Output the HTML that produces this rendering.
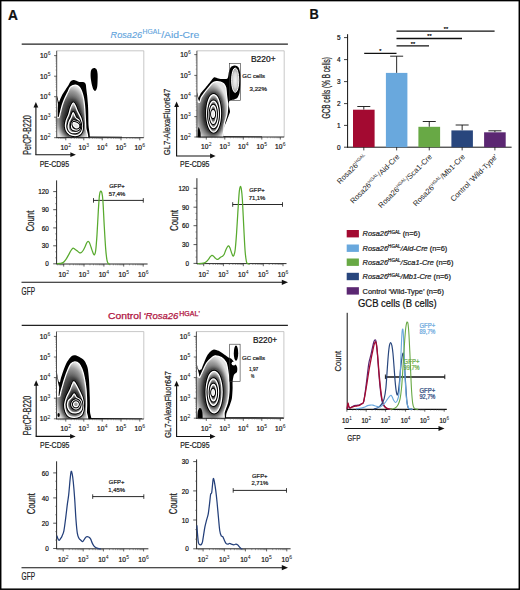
<!DOCTYPE html>
<html><head><meta charset="utf-8"><style>
html,body{margin:0;padding:0;background:#fff;width:520px;height:590px;overflow:hidden;}
body{position:relative;font-family:"Liberation Sans", sans-serif;}
svg text{stroke-width:0.22px;}
</style></head><body>
<svg width="520" height="590" viewBox="0 0 520 590" style="position:absolute;left:0;top:0;font-family:'Liberation Sans', sans-serif">
<defs>
<radialGradient id="zg" cx="0.5" cy="0.55" r="0.55">
<stop offset="0" stop-color="#2a2a2a"/><stop offset="0.5" stop-color="#4a4a4a"/><stop offset="0.8" stop-color="#a0a0a0"/><stop offset="1" stop-color="#e8e8e8"/>
</radialGradient>
<radialGradient id="zg2" cx="0.5" cy="0.5" r="0.55">
<stop offset="0" stop-color="#333"/><stop offset="0.6" stop-color="#666"/><stop offset="1" stop-color="#e0e0e0"/>
</radialGradient>
<radialGradient id="zb" cx="0.5" cy="0.5" r="0.5">
<stop offset="0" stop-color="#333"/><stop offset="0.5" stop-color="#555"/><stop offset="0.8" stop-color="#9c9c9c"/><stop offset="1" stop-color="#e4e4e4"/>
</radialGradient>
<filter id="bl" x="-50%" y="-50%" width="200%" height="200%"><feGaussianBlur stdDeviation="2.4"/></filter>
<radialGradient id="gcg" cx="0.5" cy="0.5" r="0.5">
<stop offset="0" stop-color="#f2f2f2"/><stop offset="0.6" stop-color="#d8d8d8"/><stop offset="0.9" stop-color="#a8a8a8"/><stop offset="1" stop-color="#888"/>
</radialGradient>
</defs>
<rect x="0" y="0" width="520" height="590" fill="#fff"/>
<text x="8" y="19.7" font-size="13.9" text-anchor="start" fill="#111" font-weight="bold" font-style="normal" textLength="9.9" lengthAdjust="spacingAndGlyphs"  stroke="#111">A</text>
<text x="309.6" y="19.3" font-size="13.9" text-anchor="start" fill="#111" font-weight="bold" font-style="normal" textLength="9.3" lengthAdjust="spacingAndGlyphs"  stroke="#111">B</text>
<text y="37.6" font-size="9.6" fill="#5fa3dc" stroke="#5fa3dc" style="stroke-width:0.12px"><tspan x="110.6" font-style="italic" textLength="31.5" lengthAdjust="spacingAndGlyphs">Rosa26</tspan><tspan x="142.6" y="33.9" font-size="6.3" textLength="18.6" lengthAdjust="spacingAndGlyphs">HGAL</tspan><tspan x="161.2" y="37.6" textLength="38.2" lengthAdjust="spacingAndGlyphs">/Aid-Cre</tspan></text>
<line x1="21.7" y1="44.2" x2="287.9" y2="44.2" stroke="#222" stroke-width="1.2" />
<text y="319" font-size="9.6" fill="#b0143f" stroke="#b0143f" style="stroke-width:0.25px"><tspan x="108" textLength="33.3" lengthAdjust="spacingAndGlyphs">Control</tspan><tspan x="143.4" font-style="italic" textLength="35.0" lengthAdjust="spacingAndGlyphs">&#8216;Rosa26</tspan><tspan x="179.3" y="315.8" font-size="6.3" textLength="19" lengthAdjust="spacingAndGlyphs">HGAL</tspan><tspan x="198.6" y="315.8" font-size="6.3">&#8217;</tspan></text>
<line x1="21.7" y1="325.4" x2="287.9" y2="325.4" stroke="#222" stroke-width="1.2" />
<clipPath id="c1"><rect x="56.9" y="50" width="87.1" height="87.5"/></clipPath>
<g clip-path="url(#c1)">
<path d="M57.8,119 C57.73,114.87 57.75,111.93 57.8,110 C57.85,108.07 57.96,105.73 58.2,104.5 C58.44,103.27 59.03,102.16 59.6,100.8 C60.17,99.44 61.71,95.78 62.5,94.3 C63.29,92.82 64.69,90.93 65.5,89.7 C66.31,88.47 67.93,86.18 68.6,85.1 C69.27,84.02 69.89,82.27 70.5,81.6 C71.11,80.93 72.43,80.21 73.2,80.1 C73.97,79.99 75.47,80.55 76.3,80.8 C77.13,81.05 78.48,81.84 79.4,82 C80.32,82.16 82.43,81.84 83.2,82 C83.97,82.16 84.84,82.79 85.2,83.2 C85.56,83.61 85.75,84.34 85.9,85.1 C86.05,85.86 86.14,87.57 86.3,88.9 C86.46,90.23 86.9,93.25 87.1,95.1 C87.3,96.95 87.65,100.75 87.8,102.8 C87.95,104.85 88.11,107.54 88.2,110.5 C88.29,113.46 88.42,120.93 88.5,125 C88.58,129.07 91.27,138.73 88.8,141 C86.33,143.27 74.07,142 70,142 C65.93,142 59.93,144.07 58.3,141 C56.67,137.93 57.87,123.13 57.8,119Z" fill="#000"/>
<path d="M56.3,92.4 L57.3,96.8 L58.5,101.5 L60,103.5 L58.6,107 L57.6,101.5 L56.6,96.5 Z" fill="#000"/>
<path d="M86,136.4 L122,136.8 L122,137.8 L86,137.8 Z" fill="#000"/>
<path d="M56,141 C51.52,137.78 55.55,123.03 56,119.5 C56.45,115.97 58.37,118.44 59,117.5 C59.63,116.56 59.9,114.33 60.2,113.2 C60.5,112.08 60.66,111.31 61,110 C61.34,108.69 61.95,106.18 62.5,104.5 C63.05,102.82 63.92,100.58 64.7,98.8 C65.48,97.02 66.88,94.31 67.7,92.6 C68.53,90.89 69.38,88.47 70.2,87.4 C71.03,86.34 72.41,85.84 73.2,85.5 C74,85.16 74.69,84.94 75.5,85.1 C76.31,85.26 77.79,85.91 78.6,86.6 C79.41,87.29 80.27,88.42 80.9,89.7 C81.53,90.98 82.33,93.38 82.8,95.1 C83.27,96.82 83.7,99.13 84,101.2 C84.3,103.27 84.61,106.38 84.8,108.9 C84.99,111.42 85.15,115.14 85.3,118 C85.45,120.86 85.71,124.55 85.8,128 C85.89,131.45 90.37,139.05 85.9,141 C81.43,142.95 60.48,144.22 56,141Z" fill="url(#zb)"/>
<clipPath id="zc1"><path d="M56,141 C51.52,137.78 55.55,123.03 56,119.5 C56.45,115.97 58.37,118.44 59,117.5 C59.63,116.56 59.9,114.33 60.2,113.2 C60.5,112.08 60.66,111.31 61,110 C61.34,108.69 61.95,106.18 62.5,104.5 C63.05,102.82 63.92,100.58 64.7,98.8 C65.48,97.02 66.88,94.31 67.7,92.6 C68.53,90.89 69.38,88.47 70.2,87.4 C71.03,86.34 72.41,85.84 73.2,85.5 C74,85.16 74.69,84.94 75.5,85.1 C76.31,85.26 77.79,85.91 78.6,86.6 C79.41,87.29 80.27,88.42 80.9,89.7 C81.53,90.98 82.33,93.38 82.8,95.1 C83.27,96.82 83.7,99.13 84,101.2 C84.3,103.27 84.61,106.38 84.8,108.9 C84.99,111.42 85.15,115.14 85.3,118 C85.45,120.86 85.71,124.55 85.8,128 C85.89,131.45 90.37,139.05 85.9,141 C81.43,142.95 60.48,144.22 56,141Z"/></clipPath>
<g clip-path="url(#zc1)"><path d="M73.2,103 C74.03,102.75 74.87,105.07 75.6,106.5 C76.33,107.93 76.7,109.6 77.6,111.6 C78.5,113.6 80.22,116.18 81,118.5 C81.78,120.82 82.18,123.33 82.3,125.5 C82.42,127.67 82.37,129.92 81.7,131.5 C81.03,133.08 79.88,134.38 78.3,135 C76.72,135.62 74.02,135.7 72.2,135.2 C70.38,134.7 68.53,133.45 67.4,132 C66.27,130.55 65.58,128.42 65.4,126.5 C65.22,124.58 65.73,122.5 66.3,120.5 C66.87,118.5 68.08,116.58 68.8,114.5 C69.52,112.42 69.87,109.92 70.6,108 C71.33,106.08 72.37,103.25 73.2,103Z" fill="#111" stroke="#111" stroke-width="4.5" filter="url(#bl)"/></g>
<path d="M56,141 C51.52,137.78 55.55,123.03 56,119.5 C56.45,115.97 58.37,118.44 59,117.5 C59.63,116.56 59.9,114.33 60.2,113.2 C60.5,112.08 60.66,111.31 61,110 C61.34,108.69 61.95,106.18 62.5,104.5 C63.05,102.82 63.92,100.58 64.7,98.8 C65.48,97.02 66.88,94.31 67.7,92.6 C68.53,90.89 69.38,88.47 70.2,87.4 C71.03,86.34 72.41,85.84 73.2,85.5 C74,85.16 74.69,84.94 75.5,85.1 C76.31,85.26 77.79,85.91 78.6,86.6 C79.41,87.29 80.27,88.42 80.9,89.7 C81.53,90.98 82.33,93.38 82.8,95.1 C83.27,96.82 83.7,99.13 84,101.2 C84.3,103.27 84.61,106.38 84.8,108.9 C84.99,111.42 85.15,115.14 85.3,118 C85.45,120.86 85.71,124.55 85.8,128 C85.89,131.45 90.37,139.05 85.9,141 C81.43,142.95 60.48,144.22 56,141Z" fill="none" stroke="#fff" stroke-width="1.25"/>
<path d="M73.2,103 C74.03,102.75 74.87,105.07 75.6,106.5 C76.33,107.93 76.7,109.6 77.6,111.6 C78.5,113.6 80.22,116.18 81,118.5 C81.78,120.82 82.18,123.33 82.3,125.5 C82.42,127.67 82.37,129.92 81.7,131.5 C81.03,133.08 79.88,134.38 78.3,135 C76.72,135.62 74.02,135.7 72.2,135.2 C70.38,134.7 68.53,133.45 67.4,132 C66.27,130.55 65.58,128.42 65.4,126.5 C65.22,124.58 65.73,122.5 66.3,120.5 C66.87,118.5 68.08,116.58 68.8,114.5 C69.52,112.42 69.87,109.92 70.6,108 C71.33,106.08 72.37,103.25 73.2,103Z" fill="none" stroke="#000" stroke-width="3.2"/>
<path d="M73.2,103 C74.03,102.75 74.87,105.07 75.6,106.5 C76.33,107.93 76.7,109.6 77.6,111.6 C78.5,113.6 80.22,116.18 81,118.5 C81.78,120.82 82.18,123.33 82.3,125.5 C82.42,127.67 82.37,129.92 81.7,131.5 C81.03,133.08 79.88,134.38 78.3,135 C76.72,135.62 74.02,135.7 72.2,135.2 C70.38,134.7 68.53,133.45 67.4,132 C66.27,130.55 65.58,128.42 65.4,126.5 C65.22,124.58 65.73,122.5 66.3,120.5 C66.87,118.5 68.08,116.58 68.8,114.5 C69.52,112.42 69.87,109.92 70.6,108 C71.33,106.08 72.37,103.25 73.2,103Z" fill="url(#zb)"/>
<clipPath id="zc2"><path d="M73.2,103 C74.03,102.75 74.87,105.07 75.6,106.5 C76.33,107.93 76.7,109.6 77.6,111.6 C78.5,113.6 80.22,116.18 81,118.5 C81.78,120.82 82.18,123.33 82.3,125.5 C82.42,127.67 82.37,129.92 81.7,131.5 C81.03,133.08 79.88,134.38 78.3,135 C76.72,135.62 74.02,135.7 72.2,135.2 C70.38,134.7 68.53,133.45 67.4,132 C66.27,130.55 65.58,128.42 65.4,126.5 C65.22,124.58 65.73,122.5 66.3,120.5 C66.87,118.5 68.08,116.58 68.8,114.5 C69.52,112.42 69.87,109.92 70.6,108 C71.33,106.08 72.37,103.25 73.2,103Z"/></clipPath>
<g clip-path="url(#zc2)"><path d="M73.2,112.6 C73.92,112.6 74.57,116.1 75.6,117.5 C76.63,118.9 78.57,119.53 79.4,121 C80.23,122.47 80.57,124.72 80.6,126.3 C80.63,127.88 80.43,129.45 79.6,130.5 C78.77,131.55 77.07,132.37 75.6,132.6 C74.13,132.83 72.03,132.7 70.8,131.9 C69.57,131.1 68.52,129.38 68.2,127.8 C67.88,126.22 68.38,124.12 68.9,122.4 C69.42,120.68 70.58,119.13 71.3,117.5 C72.02,115.87 72.48,112.6 73.2,112.6Z" fill="#111" stroke="#111" stroke-width="4.5" filter="url(#bl)"/></g>
<path d="M73.2,103 C74.03,102.75 74.87,105.07 75.6,106.5 C76.33,107.93 76.7,109.6 77.6,111.6 C78.5,113.6 80.22,116.18 81,118.5 C81.78,120.82 82.18,123.33 82.3,125.5 C82.42,127.67 82.37,129.92 81.7,131.5 C81.03,133.08 79.88,134.38 78.3,135 C76.72,135.62 74.02,135.7 72.2,135.2 C70.38,134.7 68.53,133.45 67.4,132 C66.27,130.55 65.58,128.42 65.4,126.5 C65.22,124.58 65.73,122.5 66.3,120.5 C66.87,118.5 68.08,116.58 68.8,114.5 C69.52,112.42 69.87,109.92 70.6,108 C71.33,106.08 72.37,103.25 73.2,103Z" fill="none" stroke="#fff" stroke-width="1.25"/>
<path d="M73.2,112.6 C73.92,112.6 74.57,116.1 75.6,117.5 C76.63,118.9 78.57,119.53 79.4,121 C80.23,122.47 80.57,124.72 80.6,126.3 C80.63,127.88 80.43,129.45 79.6,130.5 C78.77,131.55 77.07,132.37 75.6,132.6 C74.13,132.83 72.03,132.7 70.8,131.9 C69.57,131.1 68.52,129.38 68.2,127.8 C67.88,126.22 68.38,124.12 68.9,122.4 C69.42,120.68 70.58,119.13 71.3,117.5 C72.02,115.87 72.48,112.6 73.2,112.6Z" fill="none" stroke="#000" stroke-width="3.2"/>
<path d="M73.2,112.6 C73.92,112.6 74.57,116.1 75.6,117.5 C76.63,118.9 78.57,119.53 79.4,121 C80.23,122.47 80.57,124.72 80.6,126.3 C80.63,127.88 80.43,129.45 79.6,130.5 C78.77,131.55 77.07,132.37 75.6,132.6 C74.13,132.83 72.03,132.7 70.8,131.9 C69.57,131.1 68.52,129.38 68.2,127.8 C67.88,126.22 68.38,124.12 68.9,122.4 C69.42,120.68 70.58,119.13 71.3,117.5 C72.02,115.87 72.48,112.6 73.2,112.6Z" fill="url(#zb)"/>
<clipPath id="zc3"><path d="M73.2,112.6 C73.92,112.6 74.57,116.1 75.6,117.5 C76.63,118.9 78.57,119.53 79.4,121 C80.23,122.47 80.57,124.72 80.6,126.3 C80.63,127.88 80.43,129.45 79.6,130.5 C78.77,131.55 77.07,132.37 75.6,132.6 C74.13,132.83 72.03,132.7 70.8,131.9 C69.57,131.1 68.52,129.38 68.2,127.8 C67.88,126.22 68.38,124.12 68.9,122.4 C69.42,120.68 70.58,119.13 71.3,117.5 C72.02,115.87 72.48,112.6 73.2,112.6Z"/></clipPath>
<g clip-path="url(#zc3)"><path d="M74.5,121 C75.43,121.07 77.35,121.4 78.2,122.2 C79.05,123 79.53,124.63 79.6,125.8 C79.67,126.97 79.4,128.5 78.6,129.2 C77.8,129.9 75.9,130.13 74.8,130 C73.7,129.87 72.53,129.3 72,128.4 C71.47,127.5 71.5,125.7 71.6,124.6 C71.7,123.5 72.12,122.4 72.6,121.8 C73.08,121.2 73.57,120.93 74.5,121Z" fill="#111" stroke="#111" stroke-width="4.5" filter="url(#bl)"/></g>
<path d="M73.2,112.6 C73.92,112.6 74.57,116.1 75.6,117.5 C76.63,118.9 78.57,119.53 79.4,121 C80.23,122.47 80.57,124.72 80.6,126.3 C80.63,127.88 80.43,129.45 79.6,130.5 C78.77,131.55 77.07,132.37 75.6,132.6 C74.13,132.83 72.03,132.7 70.8,131.9 C69.57,131.1 68.52,129.38 68.2,127.8 C67.88,126.22 68.38,124.12 68.9,122.4 C69.42,120.68 70.58,119.13 71.3,117.5 C72.02,115.87 72.48,112.6 73.2,112.6Z" fill="none" stroke="#fff" stroke-width="1.25"/>
<path d="M74.5,121 C75.43,121.07 77.35,121.4 78.2,122.2 C79.05,123 79.53,124.63 79.6,125.8 C79.67,126.97 79.4,128.5 78.6,129.2 C77.8,129.9 75.9,130.13 74.8,130 C73.7,129.87 72.53,129.3 72,128.4 C71.47,127.5 71.5,125.7 71.6,124.6 C71.7,123.5 72.12,122.4 72.6,121.8 C73.08,121.2 73.57,120.93 74.5,121Z" fill="none" stroke="#000" stroke-width="3.2"/>
<path d="M74.5,121 C75.43,121.07 77.35,121.4 78.2,122.2 C79.05,123 79.53,124.63 79.6,125.8 C79.67,126.97 79.4,128.5 78.6,129.2 C77.8,129.9 75.9,130.13 74.8,130 C73.7,129.87 72.53,129.3 72,128.4 C71.47,127.5 71.5,125.7 71.6,124.6 C71.7,123.5 72.12,122.4 72.6,121.8 C73.08,121.2 73.57,120.93 74.5,121Z" fill="url(#zb)"/>
<clipPath id="zc4"><path d="M74.5,121 C75.43,121.07 77.35,121.4 78.2,122.2 C79.05,123 79.53,124.63 79.6,125.8 C79.67,126.97 79.4,128.5 78.6,129.2 C77.8,129.9 75.9,130.13 74.8,130 C73.7,129.87 72.53,129.3 72,128.4 C71.47,127.5 71.5,125.7 71.6,124.6 C71.7,123.5 72.12,122.4 72.6,121.8 C73.08,121.2 73.57,120.93 74.5,121Z"/></clipPath>
<g clip-path="url(#zc4)"><path d="M73.5,122.6 C74.08,122.43 75.65,122.8 76.5,123.2 C77.35,123.6 78.32,124.3 78.6,125 C78.88,125.7 78.63,126.93 78.2,127.4 C77.77,127.87 76.7,127.97 76,127.8 C75.3,127.63 74.5,127 74,126.4 C73.5,125.8 73.08,124.83 73,124.2 C72.92,123.57 72.92,122.77 73.5,122.6Z" fill="#111" stroke="#111" stroke-width="4.5" filter="url(#bl)"/></g>
<path d="M74.5,121 C75.43,121.07 77.35,121.4 78.2,122.2 C79.05,123 79.53,124.63 79.6,125.8 C79.67,126.97 79.4,128.5 78.6,129.2 C77.8,129.9 75.9,130.13 74.8,130 C73.7,129.87 72.53,129.3 72,128.4 C71.47,127.5 71.5,125.7 71.6,124.6 C71.7,123.5 72.12,122.4 72.6,121.8 C73.08,121.2 73.57,120.93 74.5,121Z" fill="none" stroke="#fff" stroke-width="1.25"/>
<path d="M73.5,122.6 C74.08,122.43 75.65,122.8 76.5,123.2 C77.35,123.6 78.32,124.3 78.6,125 C78.88,125.7 78.63,126.93 78.2,127.4 C77.77,127.87 76.7,127.97 76,127.8 C75.3,127.63 74.5,127 74,126.4 C73.5,125.8 73.08,124.83 73,124.2 C72.92,123.57 72.92,122.77 73.5,122.6Z" fill="none" stroke="#000" stroke-width="3.2"/>
<path d="M73.5,122.6 C74.08,122.43 75.65,122.8 76.5,123.2 C77.35,123.6 78.32,124.3 78.6,125 C78.88,125.7 78.63,126.93 78.2,127.4 C77.77,127.87 76.7,127.97 76,127.8 C75.3,127.63 74.5,127 74,126.4 C73.5,125.8 73.08,124.83 73,124.2 C72.92,123.57 72.92,122.77 73.5,122.6Z" fill="#e4e4e4"/>
<path d="M73.5,122.6 C74.08,122.43 75.65,122.8 76.5,123.2 C77.35,123.6 78.32,124.3 78.6,125 C78.88,125.7 78.63,126.93 78.2,127.4 C77.77,127.87 76.7,127.97 76,127.8 C75.3,127.63 74.5,127 74,126.4 C73.5,125.8 73.08,124.83 73,124.2 C72.92,123.57 72.92,122.77 73.5,122.6Z" fill="none" stroke="#fff" stroke-width="1.25"/>
<path d="M94,68 C94.87,67.95 96,68.5 96.6,69.5 C97.2,70.5 97.43,72.25 97.6,74 C97.77,75.75 97.65,78 97.6,80 C97.55,82 97.52,84.37 97.3,86 C97.08,87.63 96.68,88.98 96.3,89.8 C95.92,90.62 95.48,90.95 95,90.9 C94.52,90.85 93.87,90.32 93.4,89.5 C92.93,88.68 92.6,87.58 92.2,86 C91.8,84.42 91.27,82 91,80 C90.73,78 90.53,75.7 90.6,74 C90.67,72.3 90.83,70.8 91.4,69.8 C91.97,68.8 93.13,68.05 94,68Z" fill="#000"/>
</g>
<clipPath id="c2"><rect x="197.1" y="50" width="87.1" height="87.2"/></clipPath>
<g clip-path="url(#c2)">
<path d="M199.4,104 C199.48,97.84 199.45,96.67 200,94.8 C200.55,92.93 202.5,91.28 203.5,90 C204.5,88.72 206.43,86.51 207.5,85.2 C208.57,83.89 210.61,81.27 211.5,80.2 C212.39,79.13 213.28,77.44 214.2,77.2 C215.12,76.96 217.21,78.16 218.4,78.4 C219.59,78.64 221.87,79.03 223.1,79 C224.33,78.97 226.81,79.2 227.6,78.2 C228.39,77.2 228.52,73.02 229,71.5 C229.48,69.98 230.4,67.61 231.2,66.8 C232,65.99 234.01,65.32 235,65.4 C235.99,65.48 237.89,66.25 238.6,67.4 C239.31,68.55 240.06,71.79 240.3,74 C240.54,76.21 240.49,81.53 240.4,84 C240.31,86.47 239.97,90.7 239.6,92.5 C239.23,94.3 238.31,96.58 237.6,97.5 C236.89,98.42 235.18,99.07 234.3,99.4 C233.42,99.73 231.68,99.76 231,100 C230.32,100.24 229.52,100.57 229.2,101.2 C228.88,101.83 228.49,103.33 228.6,104.7 C228.71,106.07 229.99,110.05 230,111.5 C230.01,112.95 229.14,114.33 228.7,115.6 C228.26,116.87 227.33,119.37 226.7,121 C226.07,122.63 224.72,125.13 224,127.8 C223.28,130.47 223.83,139.11 221.3,141 C218.77,142.89 207.92,142 205,142 C202.08,142 200.15,146.07 199.4,141 C198.65,135.93 199.32,110.16 199.4,104Z" fill="#000"/>
<path d="M196.6,90.2 L197.5,94 L198.6,98 L200.2,94.6 L200.8,97.5 L199.6,102.5 L198.4,99.5 L197.2,95 Z" fill="#000"/>
<path d="M220,136.2 L262,136.6 L262,137.6 L220,137.6 Z" fill="#000"/>
<path d="M196,141 C192.75,136.07 195.53,109.15 196,104 C196.47,98.85 198.81,103.25 199.5,102.4 C200.19,101.55 200.57,98.83 201.2,97.6 C201.83,96.37 203.27,94.45 204.2,93.2 C205.13,91.95 207.11,89.53 208.2,88.2 C209.29,86.87 211.29,84.08 212.4,83.2 C213.51,82.32 215.42,81.73 216.5,81.6 C217.58,81.47 219.53,81.88 220.5,82.2 C221.47,82.52 223.09,83.23 223.8,84 C224.51,84.77 225.44,86.49 225.8,88 C226.16,89.51 226.26,93.07 226.5,95.3 C226.74,97.53 227.53,102.18 227.6,104.7 C227.67,107.22 227.43,111.67 227,114.2 C226.57,116.73 225.28,120.13 224.4,123.7 C223.52,127.27 224.19,138.69 220.4,141 C216.61,143.31 199.25,145.93 196,141Z" fill="url(#zb)"/>
<clipPath id="zc5"><path d="M196,141 C192.75,136.07 195.53,109.15 196,104 C196.47,98.85 198.81,103.25 199.5,102.4 C200.19,101.55 200.57,98.83 201.2,97.6 C201.83,96.37 203.27,94.45 204.2,93.2 C205.13,91.95 207.11,89.53 208.2,88.2 C209.29,86.87 211.29,84.08 212.4,83.2 C213.51,82.32 215.42,81.73 216.5,81.6 C217.58,81.47 219.53,81.88 220.5,82.2 C221.47,82.52 223.09,83.23 223.8,84 C224.51,84.77 225.44,86.49 225.8,88 C226.16,89.51 226.26,93.07 226.5,95.3 C226.74,97.53 227.53,102.18 227.6,104.7 C227.67,107.22 227.43,111.67 227,114.2 C226.57,116.73 225.28,120.13 224.4,123.7 C223.52,127.27 224.19,138.69 220.4,141 C216.61,143.31 199.25,145.93 196,141Z"/></clipPath>
<g clip-path="url(#zc5)"><path d="M220.5,113.3 C220.5,115.69 220.31,118.25 219.97,120.46 C219.64,122.66 219.1,124.84 218.48,126.52 C217.86,128.21 217.05,129.66 216.24,130.58 C215.43,131.49 214.48,132 213.6,132 C212.72,132 211.77,131.49 210.96,130.58 C210.15,129.66 209.34,128.21 208.72,126.52 C208.1,124.84 207.56,122.66 207.23,120.46 C206.89,118.25 206.7,115.69 206.7,113.3 C206.7,110.91 206.89,108.35 207.23,106.14 C207.56,103.94 208.1,101.76 208.72,100.08 C209.34,98.39 210.15,96.94 210.96,96.02 C211.77,95.11 212.72,94.6 213.6,94.6 C214.48,94.6 215.43,95.11 216.24,96.02 C217.05,96.94 217.86,98.39 218.48,100.08 C219.1,101.76 219.64,103.94 219.97,106.14 C220.31,108.35 220.5,110.91 220.5,113.3Z" fill="#111" stroke="#111" stroke-width="4.5" filter="url(#bl)"/></g>
<path d="M196,141 C192.75,136.07 195.53,109.15 196,104 C196.47,98.85 198.81,103.25 199.5,102.4 C200.19,101.55 200.57,98.83 201.2,97.6 C201.83,96.37 203.27,94.45 204.2,93.2 C205.13,91.95 207.11,89.53 208.2,88.2 C209.29,86.87 211.29,84.08 212.4,83.2 C213.51,82.32 215.42,81.73 216.5,81.6 C217.58,81.47 219.53,81.88 220.5,82.2 C221.47,82.52 223.09,83.23 223.8,84 C224.51,84.77 225.44,86.49 225.8,88 C226.16,89.51 226.26,93.07 226.5,95.3 C226.74,97.53 227.53,102.18 227.6,104.7 C227.67,107.22 227.43,111.67 227,114.2 C226.57,116.73 225.28,120.13 224.4,123.7 C223.52,127.27 224.19,138.69 220.4,141 C216.61,143.31 199.25,145.93 196,141Z" fill="none" stroke="#fff" stroke-width="1.25"/>
<path d="M220.5,113.3 C220.5,115.69 220.31,118.25 219.97,120.46 C219.64,122.66 219.1,124.84 218.48,126.52 C217.86,128.21 217.05,129.66 216.24,130.58 C215.43,131.49 214.48,132 213.6,132 C212.72,132 211.77,131.49 210.96,130.58 C210.15,129.66 209.34,128.21 208.72,126.52 C208.1,124.84 207.56,122.66 207.23,120.46 C206.89,118.25 206.7,115.69 206.7,113.3 C206.7,110.91 206.89,108.35 207.23,106.14 C207.56,103.94 208.1,101.76 208.72,100.08 C209.34,98.39 210.15,96.94 210.96,96.02 C211.77,95.11 212.72,94.6 213.6,94.6 C214.48,94.6 215.43,95.11 216.24,96.02 C217.05,96.94 217.86,98.39 218.48,100.08 C219.1,101.76 219.64,103.94 219.97,106.14 C220.31,108.35 220.5,110.91 220.5,113.3Z" fill="none" stroke="#000" stroke-width="3.2"/>
<path d="M220.5,113.3 C220.5,115.69 220.31,118.25 219.97,120.46 C219.64,122.66 219.1,124.84 218.48,126.52 C217.86,128.21 217.05,129.66 216.24,130.58 C215.43,131.49 214.48,132 213.6,132 C212.72,132 211.77,131.49 210.96,130.58 C210.15,129.66 209.34,128.21 208.72,126.52 C208.1,124.84 207.56,122.66 207.23,120.46 C206.89,118.25 206.7,115.69 206.7,113.3 C206.7,110.91 206.89,108.35 207.23,106.14 C207.56,103.94 208.1,101.76 208.72,100.08 C209.34,98.39 210.15,96.94 210.96,96.02 C211.77,95.11 212.72,94.6 213.6,94.6 C214.48,94.6 215.43,95.11 216.24,96.02 C217.05,96.94 217.86,98.39 218.48,100.08 C219.1,101.76 219.64,103.94 219.97,106.14 C220.31,108.35 220.5,110.91 220.5,113.3Z" fill="url(#zb)"/>
<clipPath id="zc6"><path d="M220.5,113.3 C220.5,115.69 220.31,118.25 219.97,120.46 C219.64,122.66 219.1,124.84 218.48,126.52 C217.86,128.21 217.05,129.66 216.24,130.58 C215.43,131.49 214.48,132 213.6,132 C212.72,132 211.77,131.49 210.96,130.58 C210.15,129.66 209.34,128.21 208.72,126.52 C208.1,124.84 207.56,122.66 207.23,120.46 C206.89,118.25 206.7,115.69 206.7,113.3 C206.7,110.91 206.89,108.35 207.23,106.14 C207.56,103.94 208.1,101.76 208.72,100.08 C209.34,98.39 210.15,96.94 210.96,96.02 C211.77,95.11 212.72,94.6 213.6,94.6 C214.48,94.6 215.43,95.11 216.24,96.02 C217.05,96.94 217.86,98.39 218.48,100.08 C219.1,101.76 219.64,103.94 219.97,106.14 C220.31,108.35 220.5,110.91 220.5,113.3Z"/></clipPath>
<g clip-path="url(#zc6)"><path d="M218.3,114.4 C218.3,116.1 218.17,117.92 217.93,119.49 C217.7,121.06 217.33,122.6 216.89,123.8 C216.46,125 215.9,126.04 215.34,126.69 C214.77,127.34 214.11,127.7 213.5,127.7 C212.89,127.7 212.23,127.34 211.66,126.69 C211.1,126.04 210.54,125 210.11,123.8 C209.67,122.6 209.3,121.06 209.07,119.49 C208.83,117.92 208.7,116.1 208.7,114.4 C208.7,112.7 208.83,110.88 209.07,109.31 C209.3,107.74 209.67,106.2 210.11,105 C210.54,103.8 211.1,102.76 211.66,102.11 C212.23,101.46 212.89,101.1 213.5,101.1 C214.11,101.1 214.77,101.46 215.34,102.11 C215.9,102.76 216.46,103.8 216.89,105 C217.33,106.2 217.7,107.74 217.93,109.31 C218.17,110.88 218.3,112.7 218.3,114.4Z" fill="#111" stroke="#111" stroke-width="4.5" filter="url(#bl)"/></g>
<path d="M220.5,113.3 C220.5,115.69 220.31,118.25 219.97,120.46 C219.64,122.66 219.1,124.84 218.48,126.52 C217.86,128.21 217.05,129.66 216.24,130.58 C215.43,131.49 214.48,132 213.6,132 C212.72,132 211.77,131.49 210.96,130.58 C210.15,129.66 209.34,128.21 208.72,126.52 C208.1,124.84 207.56,122.66 207.23,120.46 C206.89,118.25 206.7,115.69 206.7,113.3 C206.7,110.91 206.89,108.35 207.23,106.14 C207.56,103.94 208.1,101.76 208.72,100.08 C209.34,98.39 210.15,96.94 210.96,96.02 C211.77,95.11 212.72,94.6 213.6,94.6 C214.48,94.6 215.43,95.11 216.24,96.02 C217.05,96.94 217.86,98.39 218.48,100.08 C219.1,101.76 219.64,103.94 219.97,106.14 C220.31,108.35 220.5,110.91 220.5,113.3Z" fill="none" stroke="#fff" stroke-width="1.25"/>
<path d="M218.3,114.4 C218.3,116.1 218.17,117.92 217.93,119.49 C217.7,121.06 217.33,122.6 216.89,123.8 C216.46,125 215.9,126.04 215.34,126.69 C214.77,127.34 214.11,127.7 213.5,127.7 C212.89,127.7 212.23,127.34 211.66,126.69 C211.1,126.04 210.54,125 210.11,123.8 C209.67,122.6 209.3,121.06 209.07,119.49 C208.83,117.92 208.7,116.1 208.7,114.4 C208.7,112.7 208.83,110.88 209.07,109.31 C209.3,107.74 209.67,106.2 210.11,105 C210.54,103.8 211.1,102.76 211.66,102.11 C212.23,101.46 212.89,101.1 213.5,101.1 C214.11,101.1 214.77,101.46 215.34,102.11 C215.9,102.76 216.46,103.8 216.89,105 C217.33,106.2 217.7,107.74 217.93,109.31 C218.17,110.88 218.3,112.7 218.3,114.4Z" fill="none" stroke="#000" stroke-width="3.2"/>
<path d="M218.3,114.4 C218.3,116.1 218.17,117.92 217.93,119.49 C217.7,121.06 217.33,122.6 216.89,123.8 C216.46,125 215.9,126.04 215.34,126.69 C214.77,127.34 214.11,127.7 213.5,127.7 C212.89,127.7 212.23,127.34 211.66,126.69 C211.1,126.04 210.54,125 210.11,123.8 C209.67,122.6 209.3,121.06 209.07,119.49 C208.83,117.92 208.7,116.1 208.7,114.4 C208.7,112.7 208.83,110.88 209.07,109.31 C209.3,107.74 209.67,106.2 210.11,105 C210.54,103.8 211.1,102.76 211.66,102.11 C212.23,101.46 212.89,101.1 213.5,101.1 C214.11,101.1 214.77,101.46 215.34,102.11 C215.9,102.76 216.46,103.8 216.89,105 C217.33,106.2 217.7,107.74 217.93,109.31 C218.17,110.88 218.3,112.7 218.3,114.4Z" fill="url(#zb)"/>
<clipPath id="zc7"><path d="M218.3,114.4 C218.3,116.1 218.17,117.92 217.93,119.49 C217.7,121.06 217.33,122.6 216.89,123.8 C216.46,125 215.9,126.04 215.34,126.69 C214.77,127.34 214.11,127.7 213.5,127.7 C212.89,127.7 212.23,127.34 211.66,126.69 C211.1,126.04 210.54,125 210.11,123.8 C209.67,122.6 209.3,121.06 209.07,119.49 C208.83,117.92 208.7,116.1 208.7,114.4 C208.7,112.7 208.83,110.88 209.07,109.31 C209.3,107.74 209.67,106.2 210.11,105 C210.54,103.8 211.1,102.76 211.66,102.11 C212.23,101.46 212.89,101.1 213.5,101.1 C214.11,101.1 214.77,101.46 215.34,102.11 C215.9,102.76 216.46,103.8 216.89,105 C217.33,106.2 217.7,107.74 217.93,109.31 C218.17,110.88 218.3,112.7 218.3,114.4Z"/></clipPath>
<g clip-path="url(#zc7)"><path d="M216.3,114.4 C216.3,115.9 216.15,117.6 215.9,118.9 C215.65,120.2 215.23,121.44 214.8,122.19 C214.37,122.94 213.8,123.4 213.3,123.4 C212.8,123.4 212.23,122.94 211.8,122.19 C211.37,121.44 210.95,120.2 210.7,118.9 C210.45,117.6 210.3,115.9 210.3,114.4 C210.3,112.9 210.45,111.2 210.7,109.9 C210.95,108.6 211.37,107.36 211.8,106.61 C212.23,105.86 212.8,105.4 213.3,105.4 C213.8,105.4 214.37,105.86 214.8,106.61 C215.23,107.36 215.65,108.6 215.9,109.9 C216.15,111.2 216.3,112.9 216.3,114.4Z" fill="#111" stroke="#111" stroke-width="4.5" filter="url(#bl)"/></g>
<path d="M218.3,114.4 C218.3,116.1 218.17,117.92 217.93,119.49 C217.7,121.06 217.33,122.6 216.89,123.8 C216.46,125 215.9,126.04 215.34,126.69 C214.77,127.34 214.11,127.7 213.5,127.7 C212.89,127.7 212.23,127.34 211.66,126.69 C211.1,126.04 210.54,125 210.11,123.8 C209.67,122.6 209.3,121.06 209.07,119.49 C208.83,117.92 208.7,116.1 208.7,114.4 C208.7,112.7 208.83,110.88 209.07,109.31 C209.3,107.74 209.67,106.2 210.11,105 C210.54,103.8 211.1,102.76 211.66,102.11 C212.23,101.46 212.89,101.1 213.5,101.1 C214.11,101.1 214.77,101.46 215.34,102.11 C215.9,102.76 216.46,103.8 216.89,105 C217.33,106.2 217.7,107.74 217.93,109.31 C218.17,110.88 218.3,112.7 218.3,114.4Z" fill="none" stroke="#fff" stroke-width="1.25"/>
<path d="M216.3,114.4 C216.3,115.9 216.15,117.6 215.9,118.9 C215.65,120.2 215.23,121.44 214.8,122.19 C214.37,122.94 213.8,123.4 213.3,123.4 C212.8,123.4 212.23,122.94 211.8,122.19 C211.37,121.44 210.95,120.2 210.7,118.9 C210.45,117.6 210.3,115.9 210.3,114.4 C210.3,112.9 210.45,111.2 210.7,109.9 C210.95,108.6 211.37,107.36 211.8,106.61 C212.23,105.86 212.8,105.4 213.3,105.4 C213.8,105.4 214.37,105.86 214.8,106.61 C215.23,107.36 215.65,108.6 215.9,109.9 C216.15,111.2 216.3,112.9 216.3,114.4Z" fill="none" stroke="#000" stroke-width="3.2"/>
<path d="M216.3,114.4 C216.3,115.9 216.15,117.6 215.9,118.9 C215.65,120.2 215.23,121.44 214.8,122.19 C214.37,122.94 213.8,123.4 213.3,123.4 C212.8,123.4 212.23,122.94 211.8,122.19 C211.37,121.44 210.95,120.2 210.7,118.9 C210.45,117.6 210.3,115.9 210.3,114.4 C210.3,112.9 210.45,111.2 210.7,109.9 C210.95,108.6 211.37,107.36 211.8,106.61 C212.23,105.86 212.8,105.4 213.3,105.4 C213.8,105.4 214.37,105.86 214.8,106.61 C215.23,107.36 215.65,108.6 215.9,109.9 C216.15,111.2 216.3,112.9 216.3,114.4Z" fill="url(#zb)"/>
<clipPath id="zc8"><path d="M216.3,114.4 C216.3,115.9 216.15,117.6 215.9,118.9 C215.65,120.2 215.23,121.44 214.8,122.19 C214.37,122.94 213.8,123.4 213.3,123.4 C212.8,123.4 212.23,122.94 211.8,122.19 C211.37,121.44 210.95,120.2 210.7,118.9 C210.45,117.6 210.3,115.9 210.3,114.4 C210.3,112.9 210.45,111.2 210.7,109.9 C210.95,108.6 211.37,107.36 211.8,106.61 C212.23,105.86 212.8,105.4 213.3,105.4 C213.8,105.4 214.37,105.86 214.8,106.61 C215.23,107.36 215.65,108.6 215.9,109.9 C216.15,111.2 216.3,112.9 216.3,114.4Z"/></clipPath>
<g clip-path="url(#zc8)"><path d="M214.5,114 C214.5,114.67 214.39,115.46 214.23,116 C214.07,116.54 213.79,117.03 213.53,117.23 C213.27,117.44 212.93,117.44 212.67,117.23 C212.41,117.03 212.13,116.54 211.97,116 C211.81,115.46 211.7,114.67 211.7,114 C211.7,113.33 211.81,112.54 211.97,112 C212.13,111.46 212.41,110.97 212.67,110.77 C212.93,110.56 213.27,110.56 213.53,110.77 C213.79,110.97 214.07,111.46 214.23,112 C214.39,112.54 214.5,113.33 214.5,114Z" fill="#111" stroke="#111" stroke-width="4.5" filter="url(#bl)"/></g>
<path d="M216.3,114.4 C216.3,115.9 216.15,117.6 215.9,118.9 C215.65,120.2 215.23,121.44 214.8,122.19 C214.37,122.94 213.8,123.4 213.3,123.4 C212.8,123.4 212.23,122.94 211.8,122.19 C211.37,121.44 210.95,120.2 210.7,118.9 C210.45,117.6 210.3,115.9 210.3,114.4 C210.3,112.9 210.45,111.2 210.7,109.9 C210.95,108.6 211.37,107.36 211.8,106.61 C212.23,105.86 212.8,105.4 213.3,105.4 C213.8,105.4 214.37,105.86 214.8,106.61 C215.23,107.36 215.65,108.6 215.9,109.9 C216.15,111.2 216.3,112.9 216.3,114.4Z" fill="none" stroke="#fff" stroke-width="1.25"/>
<path d="M214.5,114 C214.5,114.67 214.39,115.46 214.23,116 C214.07,116.54 213.79,117.03 213.53,117.23 C213.27,117.44 212.93,117.44 212.67,117.23 C212.41,117.03 212.13,116.54 211.97,116 C211.81,115.46 211.7,114.67 211.7,114 C211.7,113.33 211.81,112.54 211.97,112 C212.13,111.46 212.41,110.97 212.67,110.77 C212.93,110.56 213.27,110.56 213.53,110.77 C213.79,110.97 214.07,111.46 214.23,112 C214.39,112.54 214.5,113.33 214.5,114Z" fill="none" stroke="#000" stroke-width="3.2"/>
<path d="M214.5,114 C214.5,114.67 214.39,115.46 214.23,116 C214.07,116.54 213.79,117.03 213.53,117.23 C213.27,117.44 212.93,117.44 212.67,117.23 C212.41,117.03 212.13,116.54 211.97,116 C211.81,115.46 211.7,114.67 211.7,114 C211.7,113.33 211.81,112.54 211.97,112 C212.13,111.46 212.41,110.97 212.67,110.77 C212.93,110.56 213.27,110.56 213.53,110.77 C213.79,110.97 214.07,111.46 214.23,112 C214.39,112.54 214.5,113.33 214.5,114Z" fill="#e4e4e4"/>
<path d="M214.5,114 C214.5,114.67 214.39,115.46 214.23,116 C214.07,116.54 213.79,117.03 213.53,117.23 C213.27,117.44 212.93,117.44 212.67,117.23 C212.41,117.03 212.13,116.54 211.97,116 C211.81,115.46 211.7,114.67 211.7,114 C211.7,113.33 211.81,112.54 211.97,112 C212.13,111.46 212.41,110.97 212.67,110.77 C212.93,110.56 213.27,110.56 213.53,110.77 C213.79,110.97 214.07,111.46 214.23,112 C214.39,112.54 214.5,113.33 214.5,114Z" fill="none" stroke="#fff" stroke-width="1.25"/>
<path d="M197.6,138 L197.8,130 L198.6,126.8 L199.6,129 L200.6,133 L200.8,138 Z" fill="#000"/>
<ellipse cx="235.2" cy="80.2" rx="3.6" ry="12.2" fill="url(#gcg)" stroke="#fff" stroke-width="1.0"/>
</g>
<rect x="229.6" y="63.5" width="10.9" height="37" fill="none" stroke="#333" stroke-width="0.6"/>
<text x="251" y="61.6" font-size="8.6" text-anchor="start" fill="#111" font-weight="normal" font-style="normal" textLength="24.6" lengthAdjust="spacingAndGlyphs"  stroke="#111">B220+</text>
<text x="242.3" y="78.2" font-size="5.8" text-anchor="start" fill="#222" font-weight="normal" font-style="normal" textLength="22.7" lengthAdjust="spacingAndGlyphs"  stroke="#222">GC cells</text>
<text x="249.6" y="91.2" font-size="5.8" text-anchor="start" fill="#222" font-weight="normal" font-style="normal" textLength="17.4" lengthAdjust="spacingAndGlyphs"  stroke="#222">3,22%</text>
<clipPath id="c3"><rect x="56.7" y="331" width="87.1" height="88"/></clipPath>
<g clip-path="url(#c3)">
<path d="M58.6,398 C58.65,393.73 58.84,391.87 59,390 C59.16,388.13 59.6,385.37 59.8,384 C60,382.63 60.01,381.54 60.5,379.7 C60.99,377.86 62.63,372.57 63.5,370.2 C64.37,367.83 65.89,363.81 67,361.9 C68.11,359.99 70.68,356.78 71.8,355.9 C72.92,355.02 74.37,355.14 75.4,355.3 C76.43,355.46 78.3,356.38 79.5,357.1 C80.7,357.82 83.32,359.27 84.4,360.7 C85.48,362.13 86.99,365.27 87.6,367.8 C88.21,370.33 88.71,375.75 89,379.7 C89.29,383.65 89.67,393.13 89.8,397.4 C89.93,401.67 89.92,408.42 90,411.7 C90.08,414.98 93.07,420.49 90.4,422 C87.73,423.51 74.24,423 70,423 C65.76,423 60.12,425.33 58.6,422 C57.08,418.67 58.55,402.27 58.6,398Z" fill="#000"/>
<path d="M56.3,367.5 L57.3,375 L58.6,381.5 L60.6,383 L59.4,388.5 L57.9,382 L56.8,374 Z" fill="#000"/>
<path d="M86,418.0 L142,418.4 L142,419.4 L86,419.4 Z" fill="#000"/>
<path d="M56,422 C52,418.87 55.52,401.9 56,398.5 C56.48,395.1 58.96,397.37 59.6,396.5 C60.24,395.63 60.49,393.13 60.8,392 C61.11,390.87 61.43,389.64 61.9,388 C62.37,386.36 63.54,382.02 64.3,379.7 C65.06,377.38 66.72,372.69 67.6,370.6 C68.48,368.51 69.94,365.16 70.9,364 C71.86,362.84 73.73,361.95 74.8,361.9 C75.87,361.85 77.95,362.65 78.9,363.6 C79.85,364.55 81.19,367.17 81.9,369 C82.61,370.83 83.65,374.62 84.2,377.3 C84.75,379.98 85.68,385.62 86,389.1 C86.32,392.58 86.56,400.35 86.6,403.4 C86.64,406.45 86.38,409.52 86.3,412 C86.22,414.48 90.04,420.67 86,422 C81.96,423.33 60,425.13 56,422Z" fill="url(#zb)"/>
<clipPath id="zc9"><path d="M56,422 C52,418.87 55.52,401.9 56,398.5 C56.48,395.1 58.96,397.37 59.6,396.5 C60.24,395.63 60.49,393.13 60.8,392 C61.11,390.87 61.43,389.64 61.9,388 C62.37,386.36 63.54,382.02 64.3,379.7 C65.06,377.38 66.72,372.69 67.6,370.6 C68.48,368.51 69.94,365.16 70.9,364 C71.86,362.84 73.73,361.95 74.8,361.9 C75.87,361.85 77.95,362.65 78.9,363.6 C79.85,364.55 81.19,367.17 81.9,369 C82.61,370.83 83.65,374.62 84.2,377.3 C84.75,379.98 85.68,385.62 86,389.1 C86.32,392.58 86.56,400.35 86.6,403.4 C86.64,406.45 86.38,409.52 86.3,412 C86.22,414.48 90.04,420.67 86,422 C81.96,423.33 60,425.13 56,422Z"/></clipPath>
<g clip-path="url(#zc9)"><path d="M74.2,382 C75.18,382.78 76.92,386.33 78.3,389.1 C79.68,391.87 81.65,395.62 82.5,398.6 C83.35,401.58 83.5,404.43 83.4,407 C83.3,409.57 82.85,412.33 81.9,414 C80.95,415.67 79.78,416.6 77.7,417 C75.62,417.4 71.37,417.28 69.4,416.4 C67.43,415.52 66.68,413.67 65.9,411.7 C65.12,409.73 64.6,406.98 64.7,404.6 C64.8,402.22 65.62,399.78 66.5,397.4 C67.38,395.02 69.02,392.47 70,390.3 C70.98,388.13 71.7,385.78 72.4,384.4 C73.1,383.02 73.22,381.22 74.2,382Z" fill="#111" stroke="#111" stroke-width="4.5" filter="url(#bl)"/></g>
<path d="M56,422 C52,418.87 55.52,401.9 56,398.5 C56.48,395.1 58.96,397.37 59.6,396.5 C60.24,395.63 60.49,393.13 60.8,392 C61.11,390.87 61.43,389.64 61.9,388 C62.37,386.36 63.54,382.02 64.3,379.7 C65.06,377.38 66.72,372.69 67.6,370.6 C68.48,368.51 69.94,365.16 70.9,364 C71.86,362.84 73.73,361.95 74.8,361.9 C75.87,361.85 77.95,362.65 78.9,363.6 C79.85,364.55 81.19,367.17 81.9,369 C82.61,370.83 83.65,374.62 84.2,377.3 C84.75,379.98 85.68,385.62 86,389.1 C86.32,392.58 86.56,400.35 86.6,403.4 C86.64,406.45 86.38,409.52 86.3,412 C86.22,414.48 90.04,420.67 86,422 C81.96,423.33 60,425.13 56,422Z" fill="none" stroke="#fff" stroke-width="1.25"/>
<path d="M74.2,382 C75.18,382.78 76.92,386.33 78.3,389.1 C79.68,391.87 81.65,395.62 82.5,398.6 C83.35,401.58 83.5,404.43 83.4,407 C83.3,409.57 82.85,412.33 81.9,414 C80.95,415.67 79.78,416.6 77.7,417 C75.62,417.4 71.37,417.28 69.4,416.4 C67.43,415.52 66.68,413.67 65.9,411.7 C65.12,409.73 64.6,406.98 64.7,404.6 C64.8,402.22 65.62,399.78 66.5,397.4 C67.38,395.02 69.02,392.47 70,390.3 C70.98,388.13 71.7,385.78 72.4,384.4 C73.1,383.02 73.22,381.22 74.2,382Z" fill="none" stroke="#000" stroke-width="3.2"/>
<path d="M74.2,382 C75.18,382.78 76.92,386.33 78.3,389.1 C79.68,391.87 81.65,395.62 82.5,398.6 C83.35,401.58 83.5,404.43 83.4,407 C83.3,409.57 82.85,412.33 81.9,414 C80.95,415.67 79.78,416.6 77.7,417 C75.62,417.4 71.37,417.28 69.4,416.4 C67.43,415.52 66.68,413.67 65.9,411.7 C65.12,409.73 64.6,406.98 64.7,404.6 C64.8,402.22 65.62,399.78 66.5,397.4 C67.38,395.02 69.02,392.47 70,390.3 C70.98,388.13 71.7,385.78 72.4,384.4 C73.1,383.02 73.22,381.22 74.2,382Z" fill="url(#zb)"/>
<clipPath id="zc10"><path d="M74.2,382 C75.18,382.78 76.92,386.33 78.3,389.1 C79.68,391.87 81.65,395.62 82.5,398.6 C83.35,401.58 83.5,404.43 83.4,407 C83.3,409.57 82.85,412.33 81.9,414 C80.95,415.67 79.78,416.6 77.7,417 C75.62,417.4 71.37,417.28 69.4,416.4 C67.43,415.52 66.68,413.67 65.9,411.7 C65.12,409.73 64.6,406.98 64.7,404.6 C64.8,402.22 65.62,399.78 66.5,397.4 C67.38,395.02 69.02,392.47 70,390.3 C70.98,388.13 71.7,385.78 72.4,384.4 C73.1,383.02 73.22,381.22 74.2,382Z"/></clipPath>
<g clip-path="url(#zc10)"><path d="M74.2,393.9 C74.98,393.9 75.42,396.32 76.5,397.4 C77.58,398.48 79.8,399 80.7,400.4 C81.6,401.8 81.9,404.12 81.9,405.8 C81.9,407.48 81.7,409.32 80.7,410.5 C79.7,411.68 77.58,412.7 75.9,412.9 C74.22,413.1 71.98,412.7 70.6,411.7 C69.22,410.7 68,408.68 67.6,406.9 C67.2,405.12 67.5,402.58 68.2,401 C68.9,399.42 70.8,398.58 71.8,397.4 C72.8,396.22 73.42,393.9 74.2,393.9Z" fill="#111" stroke="#111" stroke-width="4.5" filter="url(#bl)"/></g>
<path d="M74.2,382 C75.18,382.78 76.92,386.33 78.3,389.1 C79.68,391.87 81.65,395.62 82.5,398.6 C83.35,401.58 83.5,404.43 83.4,407 C83.3,409.57 82.85,412.33 81.9,414 C80.95,415.67 79.78,416.6 77.7,417 C75.62,417.4 71.37,417.28 69.4,416.4 C67.43,415.52 66.68,413.67 65.9,411.7 C65.12,409.73 64.6,406.98 64.7,404.6 C64.8,402.22 65.62,399.78 66.5,397.4 C67.38,395.02 69.02,392.47 70,390.3 C70.98,388.13 71.7,385.78 72.4,384.4 C73.1,383.02 73.22,381.22 74.2,382Z" fill="none" stroke="#fff" stroke-width="1.25"/>
<path d="M74.2,393.9 C74.98,393.9 75.42,396.32 76.5,397.4 C77.58,398.48 79.8,399 80.7,400.4 C81.6,401.8 81.9,404.12 81.9,405.8 C81.9,407.48 81.7,409.32 80.7,410.5 C79.7,411.68 77.58,412.7 75.9,412.9 C74.22,413.1 71.98,412.7 70.6,411.7 C69.22,410.7 68,408.68 67.6,406.9 C67.2,405.12 67.5,402.58 68.2,401 C68.9,399.42 70.8,398.58 71.8,397.4 C72.8,396.22 73.42,393.9 74.2,393.9Z" fill="none" stroke="#000" stroke-width="3.2"/>
<path d="M74.2,393.9 C74.98,393.9 75.42,396.32 76.5,397.4 C77.58,398.48 79.8,399 80.7,400.4 C81.6,401.8 81.9,404.12 81.9,405.8 C81.9,407.48 81.7,409.32 80.7,410.5 C79.7,411.68 77.58,412.7 75.9,412.9 C74.22,413.1 71.98,412.7 70.6,411.7 C69.22,410.7 68,408.68 67.6,406.9 C67.2,405.12 67.5,402.58 68.2,401 C68.9,399.42 70.8,398.58 71.8,397.4 C72.8,396.22 73.42,393.9 74.2,393.9Z" fill="url(#zb)"/>
<clipPath id="zc11"><path d="M74.2,393.9 C74.98,393.9 75.42,396.32 76.5,397.4 C77.58,398.48 79.8,399 80.7,400.4 C81.6,401.8 81.9,404.12 81.9,405.8 C81.9,407.48 81.7,409.32 80.7,410.5 C79.7,411.68 77.58,412.7 75.9,412.9 C74.22,413.1 71.98,412.7 70.6,411.7 C69.22,410.7 68,408.68 67.6,406.9 C67.2,405.12 67.5,402.58 68.2,401 C68.9,399.42 70.8,398.58 71.8,397.4 C72.8,396.22 73.42,393.9 74.2,393.9Z"/></clipPath>
<g clip-path="url(#zc11)"><path d="M80,404.4 C80,405.26 79.69,406.29 79.22,406.99 C78.74,407.68 77.93,408.32 77.17,408.58 C76.4,408.85 75.4,408.85 74.63,408.58 C73.87,408.32 73.06,407.68 72.58,406.99 C72.11,406.29 71.8,405.26 71.8,404.4 C71.8,403.54 72.11,402.51 72.58,401.81 C73.06,401.12 73.87,400.48 74.63,400.22 C75.4,399.95 76.4,399.95 77.17,400.22 C77.93,400.48 78.74,401.12 79.22,401.81 C79.69,402.51 80,403.54 80,404.4Z" fill="#111" stroke="#111" stroke-width="4.5" filter="url(#bl)"/></g>
<path d="M74.2,393.9 C74.98,393.9 75.42,396.32 76.5,397.4 C77.58,398.48 79.8,399 80.7,400.4 C81.6,401.8 81.9,404.12 81.9,405.8 C81.9,407.48 81.7,409.32 80.7,410.5 C79.7,411.68 77.58,412.7 75.9,412.9 C74.22,413.1 71.98,412.7 70.6,411.7 C69.22,410.7 68,408.68 67.6,406.9 C67.2,405.12 67.5,402.58 68.2,401 C68.9,399.42 70.8,398.58 71.8,397.4 C72.8,396.22 73.42,393.9 74.2,393.9Z" fill="none" stroke="#fff" stroke-width="1.25"/>
<path d="M80,404.4 C80,405.26 79.69,406.29 79.22,406.99 C78.74,407.68 77.93,408.32 77.17,408.58 C76.4,408.85 75.4,408.85 74.63,408.58 C73.87,408.32 73.06,407.68 72.58,406.99 C72.11,406.29 71.8,405.26 71.8,404.4 C71.8,403.54 72.11,402.51 72.58,401.81 C73.06,401.12 73.87,400.48 74.63,400.22 C75.4,399.95 76.4,399.95 77.17,400.22 C77.93,400.48 78.74,401.12 79.22,401.81 C79.69,402.51 80,403.54 80,404.4Z" fill="none" stroke="#000" stroke-width="3.2"/>
<path d="M80,404.4 C80,405.26 79.69,406.29 79.22,406.99 C78.74,407.68 77.93,408.32 77.17,408.58 C76.4,408.85 75.4,408.85 74.63,408.58 C73.87,408.32 73.06,407.68 72.58,406.99 C72.11,406.29 71.8,405.26 71.8,404.4 C71.8,403.54 72.11,402.51 72.58,401.81 C73.06,401.12 73.87,400.48 74.63,400.22 C75.4,399.95 76.4,399.95 77.17,400.22 C77.93,400.48 78.74,401.12 79.22,401.81 C79.69,402.51 80,403.54 80,404.4Z" fill="url(#zb)"/>
<clipPath id="zc12"><path d="M80,404.4 C80,405.26 79.69,406.29 79.22,406.99 C78.74,407.68 77.93,408.32 77.17,408.58 C76.4,408.85 75.4,408.85 74.63,408.58 C73.87,408.32 73.06,407.68 72.58,406.99 C72.11,406.29 71.8,405.26 71.8,404.4 C71.8,403.54 72.11,402.51 72.58,401.81 C73.06,401.12 73.87,400.48 74.63,400.22 C75.4,399.95 76.4,399.95 77.17,400.22 C77.93,400.48 78.74,401.12 79.22,401.81 C79.69,402.51 80,403.54 80,404.4Z"/></clipPath>
<g clip-path="url(#zc12)"><path d="M78.3,404.3 C78.3,404.87 78,405.6 77.6,406 C77.2,406.4 76.47,406.7 75.9,406.7 C75.33,406.7 74.6,406.4 74.2,406 C73.8,405.6 73.5,404.87 73.5,404.3 C73.5,403.73 73.8,403 74.2,402.6 C74.6,402.2 75.33,401.9 75.9,401.9 C76.47,401.9 77.2,402.2 77.6,402.6 C78,403 78.3,403.73 78.3,404.3Z" fill="#111" stroke="#111" stroke-width="4.5" filter="url(#bl)"/></g>
<path d="M80,404.4 C80,405.26 79.69,406.29 79.22,406.99 C78.74,407.68 77.93,408.32 77.17,408.58 C76.4,408.85 75.4,408.85 74.63,408.58 C73.87,408.32 73.06,407.68 72.58,406.99 C72.11,406.29 71.8,405.26 71.8,404.4 C71.8,403.54 72.11,402.51 72.58,401.81 C73.06,401.12 73.87,400.48 74.63,400.22 C75.4,399.95 76.4,399.95 77.17,400.22 C77.93,400.48 78.74,401.12 79.22,401.81 C79.69,402.51 80,403.54 80,404.4Z" fill="none" stroke="#fff" stroke-width="1.25"/>
<path d="M78.3,404.3 C78.3,404.87 78,405.6 77.6,406 C77.2,406.4 76.47,406.7 75.9,406.7 C75.33,406.7 74.6,406.4 74.2,406 C73.8,405.6 73.5,404.87 73.5,404.3 C73.5,403.73 73.8,403 74.2,402.6 C74.6,402.2 75.33,401.9 75.9,401.9 C76.47,401.9 77.2,402.2 77.6,402.6 C78,403 78.3,403.73 78.3,404.3Z" fill="none" stroke="#000" stroke-width="3.2"/>
<path d="M78.3,404.3 C78.3,404.87 78,405.6 77.6,406 C77.2,406.4 76.47,406.7 75.9,406.7 C75.33,406.7 74.6,406.4 74.2,406 C73.8,405.6 73.5,404.87 73.5,404.3 C73.5,403.73 73.8,403 74.2,402.6 C74.6,402.2 75.33,401.9 75.9,401.9 C76.47,401.9 77.2,402.2 77.6,402.6 C78,403 78.3,403.73 78.3,404.3Z" fill="#a0a0a0"/>
<path d="M78.3,404.3 C78.3,404.87 78,405.6 77.6,406 C77.2,406.4 76.47,406.7 75.9,406.7 C75.33,406.7 74.6,406.4 74.2,406 C73.8,405.6 73.5,404.87 73.5,404.3 C73.5,403.73 73.8,403 74.2,402.6 C74.6,402.2 75.33,401.9 75.9,401.9 C76.47,401.9 77.2,402.2 77.6,402.6 C78,403 78.3,403.73 78.3,404.3Z" fill="none" stroke="#fff" stroke-width="1.25"/>
<ellipse cx="58.6" cy="415" rx="1.2" ry="2" fill="#000"/>
</g>
<clipPath id="c4"><rect x="196.6" y="331" width="87.3" height="87.3"/></clipPath>
<g clip-path="url(#c4)">
<path d="M199.5,378.5 C199.78,371.45 200.64,372.05 201.6,369.1 C202.56,366.15 205.51,358.76 206.7,356.4 C207.89,354.04 209.53,352.33 210.5,351.4 C211.47,350.47 212.92,349.48 214,349.4 C215.08,349.32 217.24,350.13 218.6,350.8 C219.96,351.47 222.81,353.47 224.2,354.4 C225.59,355.33 227.99,357.16 229,357.8 C230.01,358.44 230.75,358.05 231.8,359.2 C232.85,360.35 236.22,364.69 236.9,366.4 C237.58,368.11 237.29,370.88 236.9,372 C236.51,373.12 234.57,373.51 234,374.8 C233.43,376.09 232.79,379.86 232.6,381.7 C232.41,383.54 232.69,386.39 232.6,388.6 C232.51,390.81 232.27,396.07 231.9,398.3 C231.53,400.53 230.53,403.26 229.8,405.3 C229.07,407.34 227.17,411.37 226.4,413.6 C225.63,415.83 226.85,420.75 224,422 C221.15,423.25 208.27,423 205,423 C201.73,423 200.23,427.93 199.5,422 C198.77,416.07 199.22,385.55 199.5,378.5Z" fill="#000"/>
<path d="M196.6,363.2 L197.6,367.5 L199,370.5 L201.8,369 L200.8,373.5 L199.7,377 L198.6,372.5 L197.2,367.8 Z" fill="#000"/>
<path d="M221,417.2 L284,417.5 L284,418.5 L221,418.5 Z" fill="#000"/>
<path d="M196,422 C192.53,416.24 195.51,384.75 196,378.8 C196.49,372.85 198.86,378.32 199.7,377.4 C200.54,376.48 201.37,373.82 202.3,371.9 C203.23,369.98 205.43,364.87 206.7,363 C207.97,361.13 210.68,358.86 211.8,357.9 C212.92,356.94 213.82,355.84 215.1,355.8 C216.38,355.76 219.95,356.69 221.4,357.6 C222.85,358.51 225.15,360.87 226,362.6 C226.85,364.33 227.41,368.05 227.8,370.6 C228.19,373.15 228.75,378.74 228.9,381.7 C229.05,384.66 229.09,390.03 228.9,392.8 C228.71,395.57 228.13,399.91 227.5,402.5 C226.87,405.09 224.93,409.6 224.2,412.2 C223.47,414.8 225.76,420.69 222,422 C218.24,423.31 199.47,427.76 196,422Z" fill="url(#zb)"/>
<clipPath id="zc13"><path d="M196,422 C192.53,416.24 195.51,384.75 196,378.8 C196.49,372.85 198.86,378.32 199.7,377.4 C200.54,376.48 201.37,373.82 202.3,371.9 C203.23,369.98 205.43,364.87 206.7,363 C207.97,361.13 210.68,358.86 211.8,357.9 C212.92,356.94 213.82,355.84 215.1,355.8 C216.38,355.76 219.95,356.69 221.4,357.6 C222.85,358.51 225.15,360.87 226,362.6 C226.85,364.33 227.41,368.05 227.8,370.6 C228.19,373.15 228.75,378.74 228.9,381.7 C229.05,384.66 229.09,390.03 228.9,392.8 C228.71,395.57 228.13,399.91 227.5,402.5 C226.87,405.09 224.93,409.6 224.2,412.2 C223.47,414.8 225.76,420.69 222,422 C218.24,423.31 199.47,427.76 196,422Z"/></clipPath>
<g clip-path="url(#zc13)"><path d="M222.1,392.1 C222.1,394.75 221.88,397.61 221.49,400.06 C221.1,402.51 220.48,404.93 219.76,406.81 C219.04,408.68 218.1,410.3 217.16,411.32 C216.22,412.33 215.12,412.9 214.1,412.9 C213.08,412.9 211.98,412.33 211.04,411.32 C210.1,410.3 209.16,408.68 208.44,406.81 C207.72,404.93 207.1,402.51 206.71,400.06 C206.32,397.61 206.1,394.75 206.1,392.1 C206.1,389.45 206.32,386.59 206.71,384.14 C207.1,381.69 207.72,379.27 208.44,377.39 C209.16,375.52 210.1,373.9 211.04,372.88 C211.98,371.87 213.08,371.3 214.1,371.3 C215.12,371.3 216.22,371.87 217.16,372.88 C218.1,373.9 219.04,375.52 219.76,377.39 C220.48,379.27 221.1,381.69 221.49,384.14 C221.88,386.59 222.1,389.45 222.1,392.1Z" fill="#111" stroke="#111" stroke-width="4.5" filter="url(#bl)"/></g>
<path d="M196,422 C192.53,416.24 195.51,384.75 196,378.8 C196.49,372.85 198.86,378.32 199.7,377.4 C200.54,376.48 201.37,373.82 202.3,371.9 C203.23,369.98 205.43,364.87 206.7,363 C207.97,361.13 210.68,358.86 211.8,357.9 C212.92,356.94 213.82,355.84 215.1,355.8 C216.38,355.76 219.95,356.69 221.4,357.6 C222.85,358.51 225.15,360.87 226,362.6 C226.85,364.33 227.41,368.05 227.8,370.6 C228.19,373.15 228.75,378.74 228.9,381.7 C229.05,384.66 229.09,390.03 228.9,392.8 C228.71,395.57 228.13,399.91 227.5,402.5 C226.87,405.09 224.93,409.6 224.2,412.2 C223.47,414.8 225.76,420.69 222,422 C218.24,423.31 199.47,427.76 196,422Z" fill="none" stroke="#fff" stroke-width="1.25"/>
<path d="M222.1,392.1 C222.1,394.75 221.88,397.61 221.49,400.06 C221.1,402.51 220.48,404.93 219.76,406.81 C219.04,408.68 218.1,410.3 217.16,411.32 C216.22,412.33 215.12,412.9 214.1,412.9 C213.08,412.9 211.98,412.33 211.04,411.32 C210.1,410.3 209.16,408.68 208.44,406.81 C207.72,404.93 207.1,402.51 206.71,400.06 C206.32,397.61 206.1,394.75 206.1,392.1 C206.1,389.45 206.32,386.59 206.71,384.14 C207.1,381.69 207.72,379.27 208.44,377.39 C209.16,375.52 210.1,373.9 211.04,372.88 C211.98,371.87 213.08,371.3 214.1,371.3 C215.12,371.3 216.22,371.87 217.16,372.88 C218.1,373.9 219.04,375.52 219.76,377.39 C220.48,379.27 221.1,381.69 221.49,384.14 C221.88,386.59 222.1,389.45 222.1,392.1Z" fill="none" stroke="#000" stroke-width="3.2"/>
<path d="M222.1,392.1 C222.1,394.75 221.88,397.61 221.49,400.06 C221.1,402.51 220.48,404.93 219.76,406.81 C219.04,408.68 218.1,410.3 217.16,411.32 C216.22,412.33 215.12,412.9 214.1,412.9 C213.08,412.9 211.98,412.33 211.04,411.32 C210.1,410.3 209.16,408.68 208.44,406.81 C207.72,404.93 207.1,402.51 206.71,400.06 C206.32,397.61 206.1,394.75 206.1,392.1 C206.1,389.45 206.32,386.59 206.71,384.14 C207.1,381.69 207.72,379.27 208.44,377.39 C209.16,375.52 210.1,373.9 211.04,372.88 C211.98,371.87 213.08,371.3 214.1,371.3 C215.12,371.3 216.22,371.87 217.16,372.88 C218.1,373.9 219.04,375.52 219.76,377.39 C220.48,379.27 221.1,381.69 221.49,384.14 C221.88,386.59 222.1,389.45 222.1,392.1Z" fill="url(#zb)"/>
<clipPath id="zc14"><path d="M222.1,392.1 C222.1,394.75 221.88,397.61 221.49,400.06 C221.1,402.51 220.48,404.93 219.76,406.81 C219.04,408.68 218.1,410.3 217.16,411.32 C216.22,412.33 215.12,412.9 214.1,412.9 C213.08,412.9 211.98,412.33 211.04,411.32 C210.1,410.3 209.16,408.68 208.44,406.81 C207.72,404.93 207.1,402.51 206.71,400.06 C206.32,397.61 206.1,394.75 206.1,392.1 C206.1,389.45 206.32,386.59 206.71,384.14 C207.1,381.69 207.72,379.27 208.44,377.39 C209.16,375.52 210.1,373.9 211.04,372.88 C211.98,371.87 213.08,371.3 214.1,371.3 C215.12,371.3 216.22,371.87 217.16,372.88 C218.1,373.9 219.04,375.52 219.76,377.39 C220.48,379.27 221.1,381.69 221.49,384.14 C221.88,386.59 222.1,389.45 222.1,392.1Z"/></clipPath>
<g clip-path="url(#zc14)"><path d="M218.6,392.1 C218.6,393.78 218.46,395.6 218.2,397.15 C217.95,398.71 217.55,400.24 217.08,401.43 C216.61,402.62 216,403.65 215.39,404.3 C214.78,404.94 214.06,405.3 213.4,405.3 C212.74,405.3 212.02,404.94 211.41,404.3 C210.8,403.65 210.19,402.62 209.72,401.43 C209.25,400.24 208.85,398.71 208.6,397.15 C208.34,395.6 208.2,393.78 208.2,392.1 C208.2,390.42 208.34,388.6 208.6,387.05 C208.85,385.49 209.25,383.96 209.72,382.77 C210.19,381.58 210.8,380.55 211.41,379.9 C212.02,379.26 212.74,378.9 213.4,378.9 C214.06,378.9 214.78,379.26 215.39,379.9 C216,380.55 216.61,381.58 217.08,382.77 C217.55,383.96 217.95,385.49 218.2,387.05 C218.46,388.6 218.6,390.42 218.6,392.1Z" fill="#111" stroke="#111" stroke-width="4.5" filter="url(#bl)"/></g>
<path d="M222.1,392.1 C222.1,394.75 221.88,397.61 221.49,400.06 C221.1,402.51 220.48,404.93 219.76,406.81 C219.04,408.68 218.1,410.3 217.16,411.32 C216.22,412.33 215.12,412.9 214.1,412.9 C213.08,412.9 211.98,412.33 211.04,411.32 C210.1,410.3 209.16,408.68 208.44,406.81 C207.72,404.93 207.1,402.51 206.71,400.06 C206.32,397.61 206.1,394.75 206.1,392.1 C206.1,389.45 206.32,386.59 206.71,384.14 C207.1,381.69 207.72,379.27 208.44,377.39 C209.16,375.52 210.1,373.9 211.04,372.88 C211.98,371.87 213.08,371.3 214.1,371.3 C215.12,371.3 216.22,371.87 217.16,372.88 C218.1,373.9 219.04,375.52 219.76,377.39 C220.48,379.27 221.1,381.69 221.49,384.14 C221.88,386.59 222.1,389.45 222.1,392.1Z" fill="none" stroke="#fff" stroke-width="1.25"/>
<path d="M218.6,392.1 C218.6,393.78 218.46,395.6 218.2,397.15 C217.95,398.71 217.55,400.24 217.08,401.43 C216.61,402.62 216,403.65 215.39,404.3 C214.78,404.94 214.06,405.3 213.4,405.3 C212.74,405.3 212.02,404.94 211.41,404.3 C210.8,403.65 210.19,402.62 209.72,401.43 C209.25,400.24 208.85,398.71 208.6,397.15 C208.34,395.6 208.2,393.78 208.2,392.1 C208.2,390.42 208.34,388.6 208.6,387.05 C208.85,385.49 209.25,383.96 209.72,382.77 C210.19,381.58 210.8,380.55 211.41,379.9 C212.02,379.26 212.74,378.9 213.4,378.9 C214.06,378.9 214.78,379.26 215.39,379.9 C216,380.55 216.61,381.58 217.08,382.77 C217.55,383.96 217.95,385.49 218.2,387.05 C218.46,388.6 218.6,390.42 218.6,392.1Z" fill="none" stroke="#000" stroke-width="3.2"/>
<path d="M218.6,392.1 C218.6,393.78 218.46,395.6 218.2,397.15 C217.95,398.71 217.55,400.24 217.08,401.43 C216.61,402.62 216,403.65 215.39,404.3 C214.78,404.94 214.06,405.3 213.4,405.3 C212.74,405.3 212.02,404.94 211.41,404.3 C210.8,403.65 210.19,402.62 209.72,401.43 C209.25,400.24 208.85,398.71 208.6,397.15 C208.34,395.6 208.2,393.78 208.2,392.1 C208.2,390.42 208.34,388.6 208.6,387.05 C208.85,385.49 209.25,383.96 209.72,382.77 C210.19,381.58 210.8,380.55 211.41,379.9 C212.02,379.26 212.74,378.9 213.4,378.9 C214.06,378.9 214.78,379.26 215.39,379.9 C216,380.55 216.61,381.58 217.08,382.77 C217.55,383.96 217.95,385.49 218.2,387.05 C218.46,388.6 218.6,390.42 218.6,392.1Z" fill="url(#zb)"/>
<clipPath id="zc15"><path d="M218.6,392.1 C218.6,393.78 218.46,395.6 218.2,397.15 C217.95,398.71 217.55,400.24 217.08,401.43 C216.61,402.62 216,403.65 215.39,404.3 C214.78,404.94 214.06,405.3 213.4,405.3 C212.74,405.3 212.02,404.94 211.41,404.3 C210.8,403.65 210.19,402.62 209.72,401.43 C209.25,400.24 208.85,398.71 208.6,397.15 C208.34,395.6 208.2,393.78 208.2,392.1 C208.2,390.42 208.34,388.6 208.6,387.05 C208.85,385.49 209.25,383.96 209.72,382.77 C210.19,381.58 210.8,380.55 211.41,379.9 C212.02,379.26 212.74,378.9 213.4,378.9 C214.06,378.9 214.78,379.26 215.39,379.9 C216,380.55 216.61,381.58 217.08,382.77 C217.55,383.96 217.95,385.49 218.2,387.05 C218.46,388.6 218.6,390.42 218.6,392.1Z"/></clipPath>
<g clip-path="url(#zc15)"><path d="M216.5,392.6 C216.5,393.98 216.34,395.55 216.08,396.75 C215.83,397.95 215.4,399.1 214.95,399.79 C214.5,400.48 213.92,400.9 213.4,400.9 C212.88,400.9 212.3,400.48 211.85,399.79 C211.4,399.1 210.97,397.95 210.72,396.75 C210.46,395.55 210.3,393.98 210.3,392.6 C210.3,391.22 210.46,389.65 210.72,388.45 C210.97,387.25 211.4,386.1 211.85,385.41 C212.3,384.72 212.88,384.3 213.4,384.3 C213.92,384.3 214.5,384.72 214.95,385.41 C215.4,386.1 215.83,387.25 216.08,388.45 C216.34,389.65 216.5,391.22 216.5,392.6Z" fill="#111" stroke="#111" stroke-width="4.5" filter="url(#bl)"/></g>
<path d="M218.6,392.1 C218.6,393.78 218.46,395.6 218.2,397.15 C217.95,398.71 217.55,400.24 217.08,401.43 C216.61,402.62 216,403.65 215.39,404.3 C214.78,404.94 214.06,405.3 213.4,405.3 C212.74,405.3 212.02,404.94 211.41,404.3 C210.8,403.65 210.19,402.62 209.72,401.43 C209.25,400.24 208.85,398.71 208.6,397.15 C208.34,395.6 208.2,393.78 208.2,392.1 C208.2,390.42 208.34,388.6 208.6,387.05 C208.85,385.49 209.25,383.96 209.72,382.77 C210.19,381.58 210.8,380.55 211.41,379.9 C212.02,379.26 212.74,378.9 213.4,378.9 C214.06,378.9 214.78,379.26 215.39,379.9 C216,380.55 216.61,381.58 217.08,382.77 C217.55,383.96 217.95,385.49 218.2,387.05 C218.46,388.6 218.6,390.42 218.6,392.1Z" fill="none" stroke="#fff" stroke-width="1.25"/>
<path d="M216.5,392.6 C216.5,393.98 216.34,395.55 216.08,396.75 C215.83,397.95 215.4,399.1 214.95,399.79 C214.5,400.48 213.92,400.9 213.4,400.9 C212.88,400.9 212.3,400.48 211.85,399.79 C211.4,399.1 210.97,397.95 210.72,396.75 C210.46,395.55 210.3,393.98 210.3,392.6 C210.3,391.22 210.46,389.65 210.72,388.45 C210.97,387.25 211.4,386.1 211.85,385.41 C212.3,384.72 212.88,384.3 213.4,384.3 C213.92,384.3 214.5,384.72 214.95,385.41 C215.4,386.1 215.83,387.25 216.08,388.45 C216.34,389.65 216.5,391.22 216.5,392.6Z" fill="none" stroke="#000" stroke-width="3.2"/>
<path d="M216.5,392.6 C216.5,393.98 216.34,395.55 216.08,396.75 C215.83,397.95 215.4,399.1 214.95,399.79 C214.5,400.48 213.92,400.9 213.4,400.9 C212.88,400.9 212.3,400.48 211.85,399.79 C211.4,399.1 210.97,397.95 210.72,396.75 C210.46,395.55 210.3,393.98 210.3,392.6 C210.3,391.22 210.46,389.65 210.72,388.45 C210.97,387.25 211.4,386.1 211.85,385.41 C212.3,384.72 212.88,384.3 213.4,384.3 C213.92,384.3 214.5,384.72 214.95,385.41 C215.4,386.1 215.83,387.25 216.08,388.45 C216.34,389.65 216.5,391.22 216.5,392.6Z" fill="url(#zb)"/>
<clipPath id="zc16"><path d="M216.5,392.6 C216.5,393.98 216.34,395.55 216.08,396.75 C215.83,397.95 215.4,399.1 214.95,399.79 C214.5,400.48 213.92,400.9 213.4,400.9 C212.88,400.9 212.3,400.48 211.85,399.79 C211.4,399.1 210.97,397.95 210.72,396.75 C210.46,395.55 210.3,393.98 210.3,392.6 C210.3,391.22 210.46,389.65 210.72,388.45 C210.97,387.25 211.4,386.1 211.85,385.41 C212.3,384.72 212.88,384.3 213.4,384.3 C213.92,384.3 214.5,384.72 214.95,385.41 C215.4,386.1 215.83,387.25 216.08,388.45 C216.34,389.65 216.5,391.22 216.5,392.6Z"/></clipPath>
<g clip-path="url(#zc16)"><path d="M214.4,392.5 C214.4,393.09 214.3,393.79 214.15,394.26 C214,394.74 213.74,395.17 213.5,395.35 C213.26,395.53 212.94,395.53 212.7,395.35 C212.46,395.17 212.2,394.74 212.05,394.26 C211.9,393.79 211.8,393.09 211.8,392.5 C211.8,391.91 211.9,391.21 212.05,390.74 C212.2,390.26 212.46,389.83 212.7,389.65 C212.94,389.47 213.26,389.47 213.5,389.65 C213.74,389.83 214,390.26 214.15,390.74 C214.3,391.21 214.4,391.91 214.4,392.5Z" fill="#111" stroke="#111" stroke-width="4.5" filter="url(#bl)"/></g>
<path d="M216.5,392.6 C216.5,393.98 216.34,395.55 216.08,396.75 C215.83,397.95 215.4,399.1 214.95,399.79 C214.5,400.48 213.92,400.9 213.4,400.9 C212.88,400.9 212.3,400.48 211.85,399.79 C211.4,399.1 210.97,397.95 210.72,396.75 C210.46,395.55 210.3,393.98 210.3,392.6 C210.3,391.22 210.46,389.65 210.72,388.45 C210.97,387.25 211.4,386.1 211.85,385.41 C212.3,384.72 212.88,384.3 213.4,384.3 C213.92,384.3 214.5,384.72 214.95,385.41 C215.4,386.1 215.83,387.25 216.08,388.45 C216.34,389.65 216.5,391.22 216.5,392.6Z" fill="none" stroke="#fff" stroke-width="1.25"/>
<path d="M214.4,392.5 C214.4,393.09 214.3,393.79 214.15,394.26 C214,394.74 213.74,395.17 213.5,395.35 C213.26,395.53 212.94,395.53 212.7,395.35 C212.46,395.17 212.2,394.74 212.05,394.26 C211.9,393.79 211.8,393.09 211.8,392.5 C211.8,391.91 211.9,391.21 212.05,390.74 C212.2,390.26 212.46,389.83 212.7,389.65 C212.94,389.47 213.26,389.47 213.5,389.65 C213.74,389.83 214,390.26 214.15,390.74 C214.3,391.21 214.4,391.91 214.4,392.5Z" fill="none" stroke="#000" stroke-width="3.2"/>
<path d="M214.4,392.5 C214.4,393.09 214.3,393.79 214.15,394.26 C214,394.74 213.74,395.17 213.5,395.35 C213.26,395.53 212.94,395.53 212.7,395.35 C212.46,395.17 212.2,394.74 212.05,394.26 C211.9,393.79 211.8,393.09 211.8,392.5 C211.8,391.91 211.9,391.21 212.05,390.74 C212.2,390.26 212.46,389.83 212.7,389.65 C212.94,389.47 213.26,389.47 213.5,389.65 C213.74,389.83 214,390.26 214.15,390.74 C214.3,391.21 214.4,391.91 214.4,392.5Z" fill="#e4e4e4"/>
<path d="M214.4,392.5 C214.4,393.09 214.3,393.79 214.15,394.26 C214,394.74 213.74,395.17 213.5,395.35 C213.26,395.53 212.94,395.53 212.7,395.35 C212.46,395.17 212.2,394.74 212.05,394.26 C211.9,393.79 211.8,393.09 211.8,392.5 C211.8,391.91 211.9,391.21 212.05,390.74 C212.2,390.26 212.46,389.83 212.7,389.65 C212.94,389.47 213.26,389.47 213.5,389.65 C213.74,389.83 214,390.26 214.15,390.74 C214.3,391.21 214.4,391.91 214.4,392.5Z" fill="none" stroke="#fff" stroke-width="1.25"/>
<path d="M197.6,419 C197.14,418.25 197.62,412.6 197.8,411.5 C197.98,410.4 199.06,408.29 199.4,408 C199.74,407.71 200.9,408.15 201.2,408.6 C201.5,409.05 202.28,411.46 202.4,412.5 C202.52,413.54 202.88,418.35 202.4,419 C201.92,419.65 198.06,419.75 197.6,419Z" fill="#000"/>
<ellipse cx="233.8" cy="363.6" rx="2.2" ry="2.0" fill="#fff"/>
<ellipse cx="236" cy="353.2" rx="2.2" ry="7.6" fill="#000"/>
</g>
<rect x="229.7" y="344.2" width="10.4" height="37.2" fill="none" stroke="#333" stroke-width="0.6"/>
<text x="252.9" y="342.9" font-size="8.6" text-anchor="start" fill="#111" font-weight="normal" font-style="normal" textLength="24.2" lengthAdjust="spacingAndGlyphs"  stroke="#111">B220+</text>
<text x="242" y="359.8" font-size="5.8" text-anchor="start" fill="#222" font-weight="normal" font-style="normal" textLength="23" lengthAdjust="spacingAndGlyphs"  stroke="#222">GC cells</text>
<text x="248.9" y="371.4" font-size="5.8" text-anchor="start" fill="#222" font-weight="normal" font-style="normal" textLength="9.4" lengthAdjust="spacingAndGlyphs"  stroke="#222">1,97</text>
<text x="251" y="378" font-size="5.8" text-anchor="start" fill="#222" font-weight="normal" font-style="normal" textLength="3.3" lengthAdjust="spacingAndGlyphs"  stroke="#222">%</text>
<line x1="56.7" y1="50.8" x2="143.8" y2="50.8" stroke="#b0b0b0" stroke-width="0.7" />
<line x1="143.8" y1="50.8" x2="143.8" y2="137.7" stroke="#b0b0b0" stroke-width="0.7" />
<line x1="56.7" y1="50.8" x2="56.7" y2="137.7" stroke="#222" stroke-width="0.8" />
<line x1="56.3" y1="137.7" x2="143.8" y2="137.7" stroke="#111" stroke-width="0.9" />
<line x1="54.1" y1="55.6" x2="56.7" y2="55.6" stroke="#222" stroke-width="0.7" />
<text x="40" y="58.2" font-size="7.2" fill="#111" textLength="7.4" lengthAdjust="spacingAndGlyphs" stroke="#111">10</text>
<text x="47.7" y="55.32" font-size="5.04" fill="#111" stroke="none">6</text>
<line x1="54.1" y1="76.2" x2="56.7" y2="76.2" stroke="#222" stroke-width="0.7" />
<text x="40" y="78.8" font-size="7.2" fill="#111" textLength="7.4" lengthAdjust="spacingAndGlyphs" stroke="#111">10</text>
<text x="47.7" y="75.92" font-size="5.04" fill="#111" stroke="none">5</text>
<line x1="54.1" y1="96.7" x2="56.7" y2="96.7" stroke="#222" stroke-width="0.7" />
<text x="40" y="99.3" font-size="7.2" fill="#111" textLength="7.4" lengthAdjust="spacingAndGlyphs" stroke="#111">10</text>
<text x="47.7" y="96.42" font-size="5.04" fill="#111" stroke="none">4</text>
<line x1="54.1" y1="117.2" x2="56.7" y2="117.2" stroke="#222" stroke-width="0.7" />
<text x="40" y="119.8" font-size="7.2" fill="#111" textLength="7.4" lengthAdjust="spacingAndGlyphs" stroke="#111">10</text>
<text x="47.7" y="116.92" font-size="5.04" fill="#111" stroke="none">3</text>
<line x1="54.1" y1="137.7" x2="56.7" y2="137.7" stroke="#222" stroke-width="0.7" />
<text x="40" y="140.3" font-size="7.2" fill="#111" textLength="7.4" lengthAdjust="spacingAndGlyphs" stroke="#111">10</text>
<text x="47.7" y="137.42" font-size="5.04" fill="#111" stroke="none">2</text>
<line x1="55.4" y1="70" x2="56.7" y2="70" stroke="#555" stroke-width="0.4" />
<line x1="55.4" y1="66.37" x2="56.7" y2="66.37" stroke="#555" stroke-width="0.4" />
<line x1="55.4" y1="63.8" x2="56.7" y2="63.8" stroke="#555" stroke-width="0.4" />
<line x1="55.4" y1="61.8" x2="56.7" y2="61.8" stroke="#555" stroke-width="0.4" />
<line x1="55.4" y1="60.17" x2="56.7" y2="60.17" stroke="#555" stroke-width="0.4" />
<line x1="55.4" y1="58.79" x2="56.7" y2="58.79" stroke="#555" stroke-width="0.4" />
<line x1="55.4" y1="57.6" x2="56.7" y2="57.6" stroke="#555" stroke-width="0.4" />
<line x1="55.4" y1="56.54" x2="56.7" y2="56.54" stroke="#555" stroke-width="0.4" />
<line x1="55.4" y1="90.53" x2="56.7" y2="90.53" stroke="#555" stroke-width="0.4" />
<line x1="55.4" y1="86.92" x2="56.7" y2="86.92" stroke="#555" stroke-width="0.4" />
<line x1="55.4" y1="84.36" x2="56.7" y2="84.36" stroke="#555" stroke-width="0.4" />
<line x1="55.4" y1="82.37" x2="56.7" y2="82.37" stroke="#555" stroke-width="0.4" />
<line x1="55.4" y1="80.75" x2="56.7" y2="80.75" stroke="#555" stroke-width="0.4" />
<line x1="55.4" y1="79.38" x2="56.7" y2="79.38" stroke="#555" stroke-width="0.4" />
<line x1="55.4" y1="78.19" x2="56.7" y2="78.19" stroke="#555" stroke-width="0.4" />
<line x1="55.4" y1="77.14" x2="56.7" y2="77.14" stroke="#555" stroke-width="0.4" />
<line x1="55.4" y1="111.03" x2="56.7" y2="111.03" stroke="#555" stroke-width="0.4" />
<line x1="55.4" y1="107.42" x2="56.7" y2="107.42" stroke="#555" stroke-width="0.4" />
<line x1="55.4" y1="104.86" x2="56.7" y2="104.86" stroke="#555" stroke-width="0.4" />
<line x1="55.4" y1="102.87" x2="56.7" y2="102.87" stroke="#555" stroke-width="0.4" />
<line x1="55.4" y1="101.25" x2="56.7" y2="101.25" stroke="#555" stroke-width="0.4" />
<line x1="55.4" y1="99.88" x2="56.7" y2="99.88" stroke="#555" stroke-width="0.4" />
<line x1="55.4" y1="98.69" x2="56.7" y2="98.69" stroke="#555" stroke-width="0.4" />
<line x1="55.4" y1="97.64" x2="56.7" y2="97.64" stroke="#555" stroke-width="0.4" />
<line x1="55.4" y1="131.53" x2="56.7" y2="131.53" stroke="#555" stroke-width="0.4" />
<line x1="55.4" y1="127.92" x2="56.7" y2="127.92" stroke="#555" stroke-width="0.4" />
<line x1="55.4" y1="125.36" x2="56.7" y2="125.36" stroke="#555" stroke-width="0.4" />
<line x1="55.4" y1="123.37" x2="56.7" y2="123.37" stroke="#555" stroke-width="0.4" />
<line x1="55.4" y1="121.75" x2="56.7" y2="121.75" stroke="#555" stroke-width="0.4" />
<line x1="55.4" y1="120.38" x2="56.7" y2="120.38" stroke="#555" stroke-width="0.4" />
<line x1="55.4" y1="119.19" x2="56.7" y2="119.19" stroke="#555" stroke-width="0.4" />
<line x1="55.4" y1="118.14" x2="56.7" y2="118.14" stroke="#555" stroke-width="0.4" />
<line x1="65.8" y1="137.7" x2="65.8" y2="140.3" stroke="#222" stroke-width="0.7" />
<text x="60.55" y="150" font-size="7.2" fill="#111" textLength="7.4" lengthAdjust="spacingAndGlyphs" stroke="#111">10</text>
<text x="68.25" y="147.12" font-size="5.04" fill="#111" stroke="none">2</text>
<line x1="83.8" y1="137.7" x2="83.8" y2="140.3" stroke="#222" stroke-width="0.7" />
<text x="78.55" y="150" font-size="7.2" fill="#111" textLength="7.4" lengthAdjust="spacingAndGlyphs" stroke="#111">10</text>
<text x="86.25" y="147.12" font-size="5.04" fill="#111" stroke="none">3</text>
<line x1="102.2" y1="137.7" x2="102.2" y2="140.3" stroke="#222" stroke-width="0.7" />
<text x="96.95" y="150" font-size="7.2" fill="#111" textLength="7.4" lengthAdjust="spacingAndGlyphs" stroke="#111">10</text>
<text x="104.65" y="147.12" font-size="5.04" fill="#111" stroke="none">4</text>
<line x1="121" y1="137.7" x2="121" y2="140.3" stroke="#222" stroke-width="0.7" />
<text x="115.75" y="150" font-size="7.2" fill="#111" textLength="7.4" lengthAdjust="spacingAndGlyphs" stroke="#111">10</text>
<text x="123.45" y="147.12" font-size="5.04" fill="#111" stroke="none">5</text>
<line x1="139.8" y1="137.7" x2="139.8" y2="140.3" stroke="#222" stroke-width="0.7" />
<text x="134.55" y="150" font-size="7.2" fill="#111" textLength="7.4" lengthAdjust="spacingAndGlyphs" stroke="#111">10</text>
<text x="142.25" y="147.12" font-size="5.04" fill="#111" stroke="none">6</text>
<line x1="58.64" y1="137.7" x2="58.64" y2="139" stroke="#555" stroke-width="0.4" />
<line x1="60.38" y1="137.7" x2="60.38" y2="139" stroke="#555" stroke-width="0.4" />
<line x1="61.81" y1="137.7" x2="61.81" y2="139" stroke="#555" stroke-width="0.4" />
<line x1="63.01" y1="137.7" x2="63.01" y2="139" stroke="#555" stroke-width="0.4" />
<line x1="64.06" y1="137.7" x2="64.06" y2="139" stroke="#555" stroke-width="0.4" />
<line x1="64.98" y1="137.7" x2="64.98" y2="139" stroke="#555" stroke-width="0.4" />
<line x1="71.22" y1="137.7" x2="71.22" y2="139" stroke="#555" stroke-width="0.4" />
<line x1="74.39" y1="137.7" x2="74.39" y2="139" stroke="#555" stroke-width="0.4" />
<line x1="76.64" y1="137.7" x2="76.64" y2="139" stroke="#555" stroke-width="0.4" />
<line x1="78.38" y1="137.7" x2="78.38" y2="139" stroke="#555" stroke-width="0.4" />
<line x1="79.81" y1="137.7" x2="79.81" y2="139" stroke="#555" stroke-width="0.4" />
<line x1="81.01" y1="137.7" x2="81.01" y2="139" stroke="#555" stroke-width="0.4" />
<line x1="82.06" y1="137.7" x2="82.06" y2="139" stroke="#555" stroke-width="0.4" />
<line x1="82.98" y1="137.7" x2="82.98" y2="139" stroke="#555" stroke-width="0.4" />
<line x1="89.34" y1="137.7" x2="89.34" y2="139" stroke="#555" stroke-width="0.4" />
<line x1="92.58" y1="137.7" x2="92.58" y2="139" stroke="#555" stroke-width="0.4" />
<line x1="94.88" y1="137.7" x2="94.88" y2="139" stroke="#555" stroke-width="0.4" />
<line x1="96.66" y1="137.7" x2="96.66" y2="139" stroke="#555" stroke-width="0.4" />
<line x1="98.12" y1="137.7" x2="98.12" y2="139" stroke="#555" stroke-width="0.4" />
<line x1="99.35" y1="137.7" x2="99.35" y2="139" stroke="#555" stroke-width="0.4" />
<line x1="100.42" y1="137.7" x2="100.42" y2="139" stroke="#555" stroke-width="0.4" />
<line x1="101.36" y1="137.7" x2="101.36" y2="139" stroke="#555" stroke-width="0.4" />
<line x1="107.86" y1="137.7" x2="107.86" y2="139" stroke="#555" stroke-width="0.4" />
<line x1="111.17" y1="137.7" x2="111.17" y2="139" stroke="#555" stroke-width="0.4" />
<line x1="113.52" y1="137.7" x2="113.52" y2="139" stroke="#555" stroke-width="0.4" />
<line x1="115.34" y1="137.7" x2="115.34" y2="139" stroke="#555" stroke-width="0.4" />
<line x1="116.83" y1="137.7" x2="116.83" y2="139" stroke="#555" stroke-width="0.4" />
<line x1="118.09" y1="137.7" x2="118.09" y2="139" stroke="#555" stroke-width="0.4" />
<line x1="119.18" y1="137.7" x2="119.18" y2="139" stroke="#555" stroke-width="0.4" />
<line x1="120.14" y1="137.7" x2="120.14" y2="139" stroke="#555" stroke-width="0.4" />
<line x1="126.66" y1="137.7" x2="126.66" y2="139" stroke="#555" stroke-width="0.4" />
<line x1="129.97" y1="137.7" x2="129.97" y2="139" stroke="#555" stroke-width="0.4" />
<line x1="132.32" y1="137.7" x2="132.32" y2="139" stroke="#555" stroke-width="0.4" />
<line x1="134.14" y1="137.7" x2="134.14" y2="139" stroke="#555" stroke-width="0.4" />
<line x1="135.63" y1="137.7" x2="135.63" y2="139" stroke="#555" stroke-width="0.4" />
<line x1="136.89" y1="137.7" x2="136.89" y2="139" stroke="#555" stroke-width="0.4" />
<line x1="137.98" y1="137.7" x2="137.98" y2="139" stroke="#555" stroke-width="0.4" />
<line x1="138.94" y1="137.7" x2="138.94" y2="139" stroke="#555" stroke-width="0.4" />
<line x1="35.9" y1="154.7" x2="35.9" y2="106.5" stroke="#111" stroke-width="1.1" />
<path d="M35.9,102 L33.5,107.5 L38.3,107.5 Z" fill="#111"/>
<line x1="35.35" y1="154.7" x2="71.4" y2="154.7" stroke="#111" stroke-width="1.1" />
<path d="M75.9,154.7 L70.4,152.3 L70.4,157.1 Z" fill="#111"/>
<text x="0" y="0" font-size="10.2" fill="#222" textLength="39.4" lengthAdjust="spacingAndGlyphs" text-anchor="middle" transform="translate(30.5,135) rotate(-90)" stroke="#222">PerCP-B220</text>
<text x="39.7" y="166.8" font-size="9.4" text-anchor="start" fill="#222" font-weight="normal" font-style="normal" textLength="29.4" lengthAdjust="spacingAndGlyphs"  stroke="#222">PE-CD95</text>
<line x1="196.9" y1="50.8" x2="284.2" y2="50.8" stroke="#b0b0b0" stroke-width="0.7" />
<line x1="284.2" y1="50.8" x2="284.2" y2="137" stroke="#b0b0b0" stroke-width="0.7" />
<line x1="196.9" y1="50.8" x2="196.9" y2="137" stroke="#222" stroke-width="0.8" />
<line x1="196.5" y1="137" x2="284.2" y2="137" stroke="#111" stroke-width="0.9" />
<line x1="194.3" y1="54.6" x2="196.9" y2="54.6" stroke="#222" stroke-width="0.7" />
<text x="180.2" y="57.2" font-size="7.2" fill="#111" textLength="7.4" lengthAdjust="spacingAndGlyphs" stroke="#111">10</text>
<text x="187.9" y="54.32" font-size="5.04" fill="#111" stroke="none">6</text>
<line x1="194.3" y1="75.4" x2="196.9" y2="75.4" stroke="#222" stroke-width="0.7" />
<text x="180.2" y="78" font-size="7.2" fill="#111" textLength="7.4" lengthAdjust="spacingAndGlyphs" stroke="#111">10</text>
<text x="187.9" y="75.12" font-size="5.04" fill="#111" stroke="none">5</text>
<line x1="194.3" y1="96" x2="196.9" y2="96" stroke="#222" stroke-width="0.7" />
<text x="180.2" y="98.6" font-size="7.2" fill="#111" textLength="7.4" lengthAdjust="spacingAndGlyphs" stroke="#111">10</text>
<text x="187.9" y="95.72" font-size="5.04" fill="#111" stroke="none">4</text>
<line x1="194.3" y1="116.6" x2="196.9" y2="116.6" stroke="#222" stroke-width="0.7" />
<text x="180.2" y="119.2" font-size="7.2" fill="#111" textLength="7.4" lengthAdjust="spacingAndGlyphs" stroke="#111">10</text>
<text x="187.9" y="116.32" font-size="5.04" fill="#111" stroke="none">3</text>
<line x1="194.3" y1="137" x2="196.9" y2="137" stroke="#222" stroke-width="0.7" />
<text x="180.2" y="139.6" font-size="7.2" fill="#111" textLength="7.4" lengthAdjust="spacingAndGlyphs" stroke="#111">10</text>
<text x="187.9" y="136.72" font-size="5.04" fill="#111" stroke="none">2</text>
<line x1="195.6" y1="69.14" x2="196.9" y2="69.14" stroke="#555" stroke-width="0.4" />
<line x1="195.6" y1="65.48" x2="196.9" y2="65.48" stroke="#555" stroke-width="0.4" />
<line x1="195.6" y1="62.88" x2="196.9" y2="62.88" stroke="#555" stroke-width="0.4" />
<line x1="195.6" y1="60.86" x2="196.9" y2="60.86" stroke="#555" stroke-width="0.4" />
<line x1="195.6" y1="59.21" x2="196.9" y2="59.21" stroke="#555" stroke-width="0.4" />
<line x1="195.6" y1="57.82" x2="196.9" y2="57.82" stroke="#555" stroke-width="0.4" />
<line x1="195.6" y1="56.62" x2="196.9" y2="56.62" stroke="#555" stroke-width="0.4" />
<line x1="195.6" y1="55.55" x2="196.9" y2="55.55" stroke="#555" stroke-width="0.4" />
<line x1="195.6" y1="89.8" x2="196.9" y2="89.8" stroke="#555" stroke-width="0.4" />
<line x1="195.6" y1="86.17" x2="196.9" y2="86.17" stroke="#555" stroke-width="0.4" />
<line x1="195.6" y1="83.6" x2="196.9" y2="83.6" stroke="#555" stroke-width="0.4" />
<line x1="195.6" y1="81.6" x2="196.9" y2="81.6" stroke="#555" stroke-width="0.4" />
<line x1="195.6" y1="79.97" x2="196.9" y2="79.97" stroke="#555" stroke-width="0.4" />
<line x1="195.6" y1="78.59" x2="196.9" y2="78.59" stroke="#555" stroke-width="0.4" />
<line x1="195.6" y1="77.4" x2="196.9" y2="77.4" stroke="#555" stroke-width="0.4" />
<line x1="195.6" y1="76.34" x2="196.9" y2="76.34" stroke="#555" stroke-width="0.4" />
<line x1="195.6" y1="110.4" x2="196.9" y2="110.4" stroke="#555" stroke-width="0.4" />
<line x1="195.6" y1="106.77" x2="196.9" y2="106.77" stroke="#555" stroke-width="0.4" />
<line x1="195.6" y1="104.2" x2="196.9" y2="104.2" stroke="#555" stroke-width="0.4" />
<line x1="195.6" y1="102.2" x2="196.9" y2="102.2" stroke="#555" stroke-width="0.4" />
<line x1="195.6" y1="100.57" x2="196.9" y2="100.57" stroke="#555" stroke-width="0.4" />
<line x1="195.6" y1="99.19" x2="196.9" y2="99.19" stroke="#555" stroke-width="0.4" />
<line x1="195.6" y1="98" x2="196.9" y2="98" stroke="#555" stroke-width="0.4" />
<line x1="195.6" y1="96.94" x2="196.9" y2="96.94" stroke="#555" stroke-width="0.4" />
<line x1="195.6" y1="130.86" x2="196.9" y2="130.86" stroke="#555" stroke-width="0.4" />
<line x1="195.6" y1="127.27" x2="196.9" y2="127.27" stroke="#555" stroke-width="0.4" />
<line x1="195.6" y1="124.72" x2="196.9" y2="124.72" stroke="#555" stroke-width="0.4" />
<line x1="195.6" y1="122.74" x2="196.9" y2="122.74" stroke="#555" stroke-width="0.4" />
<line x1="195.6" y1="121.13" x2="196.9" y2="121.13" stroke="#555" stroke-width="0.4" />
<line x1="195.6" y1="119.76" x2="196.9" y2="119.76" stroke="#555" stroke-width="0.4" />
<line x1="195.6" y1="118.58" x2="196.9" y2="118.58" stroke="#555" stroke-width="0.4" />
<line x1="195.6" y1="117.53" x2="196.9" y2="117.53" stroke="#555" stroke-width="0.4" />
<line x1="206.3" y1="137" x2="206.3" y2="139.6" stroke="#222" stroke-width="0.7" />
<text x="201.05" y="149.3" font-size="7.2" fill="#111" textLength="7.4" lengthAdjust="spacingAndGlyphs" stroke="#111">10</text>
<text x="208.75" y="146.42" font-size="5.04" fill="#111" stroke="none">2</text>
<line x1="224.8" y1="137" x2="224.8" y2="139.6" stroke="#222" stroke-width="0.7" />
<text x="219.55" y="149.3" font-size="7.2" fill="#111" textLength="7.4" lengthAdjust="spacingAndGlyphs" stroke="#111">10</text>
<text x="227.25" y="146.42" font-size="5.04" fill="#111" stroke="none">3</text>
<line x1="243.3" y1="137" x2="243.3" y2="139.6" stroke="#222" stroke-width="0.7" />
<text x="238.05" y="149.3" font-size="7.2" fill="#111" textLength="7.4" lengthAdjust="spacingAndGlyphs" stroke="#111">10</text>
<text x="245.75" y="146.42" font-size="5.04" fill="#111" stroke="none">4</text>
<line x1="261.8" y1="137" x2="261.8" y2="139.6" stroke="#222" stroke-width="0.7" />
<text x="256.55" y="149.3" font-size="7.2" fill="#111" textLength="7.4" lengthAdjust="spacingAndGlyphs" stroke="#111">10</text>
<text x="264.25" y="146.42" font-size="5.04" fill="#111" stroke="none">5</text>
<line x1="280.3" y1="137" x2="280.3" y2="139.6" stroke="#222" stroke-width="0.7" />
<text x="275.05" y="149.3" font-size="7.2" fill="#111" textLength="7.4" lengthAdjust="spacingAndGlyphs" stroke="#111">10</text>
<text x="282.75" y="146.42" font-size="5.04" fill="#111" stroke="none">6</text>
<line x1="198.94" y1="137" x2="198.94" y2="138.3" stroke="#555" stroke-width="0.4" />
<line x1="200.73" y1="137" x2="200.73" y2="138.3" stroke="#555" stroke-width="0.4" />
<line x1="202.2" y1="137" x2="202.2" y2="138.3" stroke="#555" stroke-width="0.4" />
<line x1="203.43" y1="137" x2="203.43" y2="138.3" stroke="#555" stroke-width="0.4" />
<line x1="204.51" y1="137" x2="204.51" y2="138.3" stroke="#555" stroke-width="0.4" />
<line x1="205.45" y1="137" x2="205.45" y2="138.3" stroke="#555" stroke-width="0.4" />
<line x1="211.87" y1="137" x2="211.87" y2="138.3" stroke="#555" stroke-width="0.4" />
<line x1="215.13" y1="137" x2="215.13" y2="138.3" stroke="#555" stroke-width="0.4" />
<line x1="217.44" y1="137" x2="217.44" y2="138.3" stroke="#555" stroke-width="0.4" />
<line x1="219.23" y1="137" x2="219.23" y2="138.3" stroke="#555" stroke-width="0.4" />
<line x1="220.7" y1="137" x2="220.7" y2="138.3" stroke="#555" stroke-width="0.4" />
<line x1="221.93" y1="137" x2="221.93" y2="138.3" stroke="#555" stroke-width="0.4" />
<line x1="223.01" y1="137" x2="223.01" y2="138.3" stroke="#555" stroke-width="0.4" />
<line x1="223.95" y1="137" x2="223.95" y2="138.3" stroke="#555" stroke-width="0.4" />
<line x1="230.37" y1="137" x2="230.37" y2="138.3" stroke="#555" stroke-width="0.4" />
<line x1="233.63" y1="137" x2="233.63" y2="138.3" stroke="#555" stroke-width="0.4" />
<line x1="235.94" y1="137" x2="235.94" y2="138.3" stroke="#555" stroke-width="0.4" />
<line x1="237.73" y1="137" x2="237.73" y2="138.3" stroke="#555" stroke-width="0.4" />
<line x1="239.2" y1="137" x2="239.2" y2="138.3" stroke="#555" stroke-width="0.4" />
<line x1="240.43" y1="137" x2="240.43" y2="138.3" stroke="#555" stroke-width="0.4" />
<line x1="241.51" y1="137" x2="241.51" y2="138.3" stroke="#555" stroke-width="0.4" />
<line x1="242.45" y1="137" x2="242.45" y2="138.3" stroke="#555" stroke-width="0.4" />
<line x1="248.87" y1="137" x2="248.87" y2="138.3" stroke="#555" stroke-width="0.4" />
<line x1="252.13" y1="137" x2="252.13" y2="138.3" stroke="#555" stroke-width="0.4" />
<line x1="254.44" y1="137" x2="254.44" y2="138.3" stroke="#555" stroke-width="0.4" />
<line x1="256.23" y1="137" x2="256.23" y2="138.3" stroke="#555" stroke-width="0.4" />
<line x1="257.7" y1="137" x2="257.7" y2="138.3" stroke="#555" stroke-width="0.4" />
<line x1="258.93" y1="137" x2="258.93" y2="138.3" stroke="#555" stroke-width="0.4" />
<line x1="260.01" y1="137" x2="260.01" y2="138.3" stroke="#555" stroke-width="0.4" />
<line x1="260.95" y1="137" x2="260.95" y2="138.3" stroke="#555" stroke-width="0.4" />
<line x1="267.37" y1="137" x2="267.37" y2="138.3" stroke="#555" stroke-width="0.4" />
<line x1="270.63" y1="137" x2="270.63" y2="138.3" stroke="#555" stroke-width="0.4" />
<line x1="272.94" y1="137" x2="272.94" y2="138.3" stroke="#555" stroke-width="0.4" />
<line x1="274.73" y1="137" x2="274.73" y2="138.3" stroke="#555" stroke-width="0.4" />
<line x1="276.2" y1="137" x2="276.2" y2="138.3" stroke="#555" stroke-width="0.4" />
<line x1="277.43" y1="137" x2="277.43" y2="138.3" stroke="#555" stroke-width="0.4" />
<line x1="278.51" y1="137" x2="278.51" y2="138.3" stroke="#555" stroke-width="0.4" />
<line x1="279.45" y1="137" x2="279.45" y2="138.3" stroke="#555" stroke-width="0.4" />
<line x1="176.6" y1="156" x2="176.6" y2="106.1" stroke="#111" stroke-width="1.1" />
<path d="M176.6,101.6 L174.2,107.1 L179,107.1 Z" fill="#111"/>
<line x1="176.05" y1="156" x2="211.1" y2="156" stroke="#111" stroke-width="1.1" />
<path d="M215.6,156 L210.1,153.6 L210.1,158.4 Z" fill="#111"/>
<text x="0" y="0" font-size="9.3" fill="#222" textLength="66.5" lengthAdjust="spacingAndGlyphs" text-anchor="middle" transform="translate(170.2,122) rotate(-90)" stroke="#222">GL7-AlexaFluor647</text>
<text x="180.1" y="167.2" font-size="9.4" text-anchor="start" fill="#222" font-weight="normal" font-style="normal" textLength="29.4" lengthAdjust="spacingAndGlyphs"  stroke="#222">PE-CD95</text>
<line x1="56.5" y1="331.6" x2="143.8" y2="331.6" stroke="#b0b0b0" stroke-width="0.7" />
<line x1="143.8" y1="331.6" x2="143.8" y2="419" stroke="#b0b0b0" stroke-width="0.7" />
<line x1="56.5" y1="331.6" x2="56.5" y2="419" stroke="#222" stroke-width="0.8" />
<line x1="56.1" y1="419" x2="143.8" y2="419" stroke="#111" stroke-width="0.9" />
<line x1="53.9" y1="336.4" x2="56.5" y2="336.4" stroke="#222" stroke-width="0.7" />
<text x="39.8" y="339" font-size="7.2" fill="#111" textLength="7.4" lengthAdjust="spacingAndGlyphs" stroke="#111">10</text>
<text x="47.5" y="336.12" font-size="5.04" fill="#111" stroke="none">6</text>
<line x1="53.9" y1="357" x2="56.5" y2="357" stroke="#222" stroke-width="0.7" />
<text x="39.8" y="359.6" font-size="7.2" fill="#111" textLength="7.4" lengthAdjust="spacingAndGlyphs" stroke="#111">10</text>
<text x="47.5" y="356.72" font-size="5.04" fill="#111" stroke="none">5</text>
<line x1="53.9" y1="377.6" x2="56.5" y2="377.6" stroke="#222" stroke-width="0.7" />
<text x="39.8" y="380.2" font-size="7.2" fill="#111" textLength="7.4" lengthAdjust="spacingAndGlyphs" stroke="#111">10</text>
<text x="47.5" y="377.32" font-size="5.04" fill="#111" stroke="none">4</text>
<line x1="53.9" y1="398.2" x2="56.5" y2="398.2" stroke="#222" stroke-width="0.7" />
<text x="39.8" y="400.8" font-size="7.2" fill="#111" textLength="7.4" lengthAdjust="spacingAndGlyphs" stroke="#111">10</text>
<text x="47.5" y="397.92" font-size="5.04" fill="#111" stroke="none">3</text>
<line x1="53.9" y1="418.8" x2="56.5" y2="418.8" stroke="#222" stroke-width="0.7" />
<text x="39.8" y="421.4" font-size="7.2" fill="#111" textLength="7.4" lengthAdjust="spacingAndGlyphs" stroke="#111">10</text>
<text x="47.5" y="418.52" font-size="5.04" fill="#111" stroke="none">2</text>
<line x1="55.2" y1="350.8" x2="56.5" y2="350.8" stroke="#555" stroke-width="0.4" />
<line x1="55.2" y1="347.17" x2="56.5" y2="347.17" stroke="#555" stroke-width="0.4" />
<line x1="55.2" y1="344.6" x2="56.5" y2="344.6" stroke="#555" stroke-width="0.4" />
<line x1="55.2" y1="342.6" x2="56.5" y2="342.6" stroke="#555" stroke-width="0.4" />
<line x1="55.2" y1="340.97" x2="56.5" y2="340.97" stroke="#555" stroke-width="0.4" />
<line x1="55.2" y1="339.59" x2="56.5" y2="339.59" stroke="#555" stroke-width="0.4" />
<line x1="55.2" y1="338.4" x2="56.5" y2="338.4" stroke="#555" stroke-width="0.4" />
<line x1="55.2" y1="337.34" x2="56.5" y2="337.34" stroke="#555" stroke-width="0.4" />
<line x1="55.2" y1="371.4" x2="56.5" y2="371.4" stroke="#555" stroke-width="0.4" />
<line x1="55.2" y1="367.77" x2="56.5" y2="367.77" stroke="#555" stroke-width="0.4" />
<line x1="55.2" y1="365.2" x2="56.5" y2="365.2" stroke="#555" stroke-width="0.4" />
<line x1="55.2" y1="363.2" x2="56.5" y2="363.2" stroke="#555" stroke-width="0.4" />
<line x1="55.2" y1="361.57" x2="56.5" y2="361.57" stroke="#555" stroke-width="0.4" />
<line x1="55.2" y1="360.19" x2="56.5" y2="360.19" stroke="#555" stroke-width="0.4" />
<line x1="55.2" y1="359" x2="56.5" y2="359" stroke="#555" stroke-width="0.4" />
<line x1="55.2" y1="357.94" x2="56.5" y2="357.94" stroke="#555" stroke-width="0.4" />
<line x1="55.2" y1="392" x2="56.5" y2="392" stroke="#555" stroke-width="0.4" />
<line x1="55.2" y1="388.37" x2="56.5" y2="388.37" stroke="#555" stroke-width="0.4" />
<line x1="55.2" y1="385.8" x2="56.5" y2="385.8" stroke="#555" stroke-width="0.4" />
<line x1="55.2" y1="383.8" x2="56.5" y2="383.8" stroke="#555" stroke-width="0.4" />
<line x1="55.2" y1="382.17" x2="56.5" y2="382.17" stroke="#555" stroke-width="0.4" />
<line x1="55.2" y1="380.79" x2="56.5" y2="380.79" stroke="#555" stroke-width="0.4" />
<line x1="55.2" y1="379.6" x2="56.5" y2="379.6" stroke="#555" stroke-width="0.4" />
<line x1="55.2" y1="378.54" x2="56.5" y2="378.54" stroke="#555" stroke-width="0.4" />
<line x1="55.2" y1="412.6" x2="56.5" y2="412.6" stroke="#555" stroke-width="0.4" />
<line x1="55.2" y1="408.97" x2="56.5" y2="408.97" stroke="#555" stroke-width="0.4" />
<line x1="55.2" y1="406.4" x2="56.5" y2="406.4" stroke="#555" stroke-width="0.4" />
<line x1="55.2" y1="404.4" x2="56.5" y2="404.4" stroke="#555" stroke-width="0.4" />
<line x1="55.2" y1="402.77" x2="56.5" y2="402.77" stroke="#555" stroke-width="0.4" />
<line x1="55.2" y1="401.39" x2="56.5" y2="401.39" stroke="#555" stroke-width="0.4" />
<line x1="55.2" y1="400.2" x2="56.5" y2="400.2" stroke="#555" stroke-width="0.4" />
<line x1="55.2" y1="399.14" x2="56.5" y2="399.14" stroke="#555" stroke-width="0.4" />
<line x1="65.8" y1="419" x2="65.8" y2="421.6" stroke="#222" stroke-width="0.7" />
<text x="60.55" y="431.3" font-size="7.2" fill="#111" textLength="7.4" lengthAdjust="spacingAndGlyphs" stroke="#111">10</text>
<text x="68.25" y="428.42" font-size="5.04" fill="#111" stroke="none">2</text>
<line x1="83.8" y1="419" x2="83.8" y2="421.6" stroke="#222" stroke-width="0.7" />
<text x="78.55" y="431.3" font-size="7.2" fill="#111" textLength="7.4" lengthAdjust="spacingAndGlyphs" stroke="#111">10</text>
<text x="86.25" y="428.42" font-size="5.04" fill="#111" stroke="none">3</text>
<line x1="102.2" y1="419" x2="102.2" y2="421.6" stroke="#222" stroke-width="0.7" />
<text x="96.95" y="431.3" font-size="7.2" fill="#111" textLength="7.4" lengthAdjust="spacingAndGlyphs" stroke="#111">10</text>
<text x="104.65" y="428.42" font-size="5.04" fill="#111" stroke="none">4</text>
<line x1="121" y1="419" x2="121" y2="421.6" stroke="#222" stroke-width="0.7" />
<text x="115.75" y="431.3" font-size="7.2" fill="#111" textLength="7.4" lengthAdjust="spacingAndGlyphs" stroke="#111">10</text>
<text x="123.45" y="428.42" font-size="5.04" fill="#111" stroke="none">5</text>
<line x1="139.8" y1="419" x2="139.8" y2="421.6" stroke="#222" stroke-width="0.7" />
<text x="134.55" y="431.3" font-size="7.2" fill="#111" textLength="7.4" lengthAdjust="spacingAndGlyphs" stroke="#111">10</text>
<text x="142.25" y="428.42" font-size="5.04" fill="#111" stroke="none">6</text>
<line x1="58.64" y1="419" x2="58.64" y2="420.3" stroke="#555" stroke-width="0.4" />
<line x1="60.38" y1="419" x2="60.38" y2="420.3" stroke="#555" stroke-width="0.4" />
<line x1="61.81" y1="419" x2="61.81" y2="420.3" stroke="#555" stroke-width="0.4" />
<line x1="63.01" y1="419" x2="63.01" y2="420.3" stroke="#555" stroke-width="0.4" />
<line x1="64.06" y1="419" x2="64.06" y2="420.3" stroke="#555" stroke-width="0.4" />
<line x1="64.98" y1="419" x2="64.98" y2="420.3" stroke="#555" stroke-width="0.4" />
<line x1="71.22" y1="419" x2="71.22" y2="420.3" stroke="#555" stroke-width="0.4" />
<line x1="74.39" y1="419" x2="74.39" y2="420.3" stroke="#555" stroke-width="0.4" />
<line x1="76.64" y1="419" x2="76.64" y2="420.3" stroke="#555" stroke-width="0.4" />
<line x1="78.38" y1="419" x2="78.38" y2="420.3" stroke="#555" stroke-width="0.4" />
<line x1="79.81" y1="419" x2="79.81" y2="420.3" stroke="#555" stroke-width="0.4" />
<line x1="81.01" y1="419" x2="81.01" y2="420.3" stroke="#555" stroke-width="0.4" />
<line x1="82.06" y1="419" x2="82.06" y2="420.3" stroke="#555" stroke-width="0.4" />
<line x1="82.98" y1="419" x2="82.98" y2="420.3" stroke="#555" stroke-width="0.4" />
<line x1="89.34" y1="419" x2="89.34" y2="420.3" stroke="#555" stroke-width="0.4" />
<line x1="92.58" y1="419" x2="92.58" y2="420.3" stroke="#555" stroke-width="0.4" />
<line x1="94.88" y1="419" x2="94.88" y2="420.3" stroke="#555" stroke-width="0.4" />
<line x1="96.66" y1="419" x2="96.66" y2="420.3" stroke="#555" stroke-width="0.4" />
<line x1="98.12" y1="419" x2="98.12" y2="420.3" stroke="#555" stroke-width="0.4" />
<line x1="99.35" y1="419" x2="99.35" y2="420.3" stroke="#555" stroke-width="0.4" />
<line x1="100.42" y1="419" x2="100.42" y2="420.3" stroke="#555" stroke-width="0.4" />
<line x1="101.36" y1="419" x2="101.36" y2="420.3" stroke="#555" stroke-width="0.4" />
<line x1="107.86" y1="419" x2="107.86" y2="420.3" stroke="#555" stroke-width="0.4" />
<line x1="111.17" y1="419" x2="111.17" y2="420.3" stroke="#555" stroke-width="0.4" />
<line x1="113.52" y1="419" x2="113.52" y2="420.3" stroke="#555" stroke-width="0.4" />
<line x1="115.34" y1="419" x2="115.34" y2="420.3" stroke="#555" stroke-width="0.4" />
<line x1="116.83" y1="419" x2="116.83" y2="420.3" stroke="#555" stroke-width="0.4" />
<line x1="118.09" y1="419" x2="118.09" y2="420.3" stroke="#555" stroke-width="0.4" />
<line x1="119.18" y1="419" x2="119.18" y2="420.3" stroke="#555" stroke-width="0.4" />
<line x1="120.14" y1="419" x2="120.14" y2="420.3" stroke="#555" stroke-width="0.4" />
<line x1="126.66" y1="419" x2="126.66" y2="420.3" stroke="#555" stroke-width="0.4" />
<line x1="129.97" y1="419" x2="129.97" y2="420.3" stroke="#555" stroke-width="0.4" />
<line x1="132.32" y1="419" x2="132.32" y2="420.3" stroke="#555" stroke-width="0.4" />
<line x1="134.14" y1="419" x2="134.14" y2="420.3" stroke="#555" stroke-width="0.4" />
<line x1="135.63" y1="419" x2="135.63" y2="420.3" stroke="#555" stroke-width="0.4" />
<line x1="136.89" y1="419" x2="136.89" y2="420.3" stroke="#555" stroke-width="0.4" />
<line x1="137.98" y1="419" x2="137.98" y2="420.3" stroke="#555" stroke-width="0.4" />
<line x1="138.94" y1="419" x2="138.94" y2="420.3" stroke="#555" stroke-width="0.4" />
<line x1="36.2" y1="436.4" x2="36.2" y2="384.8" stroke="#111" stroke-width="1.1" />
<path d="M36.2,380.3 L33.8,385.8 L38.6,385.8 Z" fill="#111"/>
<line x1="35.65" y1="436.4" x2="71.1" y2="436.4" stroke="#111" stroke-width="1.1" />
<path d="M75.6,436.4 L70.1,434 L70.1,438.8 Z" fill="#111"/>
<text x="0" y="0" font-size="10.2" fill="#222" textLength="39.4" lengthAdjust="spacingAndGlyphs" text-anchor="middle" transform="translate(30.5,415.6) rotate(-90)" stroke="#222">PerCP-B220</text>
<text x="40" y="448" font-size="9.4" text-anchor="start" fill="#222" font-weight="normal" font-style="normal" textLength="29.4" lengthAdjust="spacingAndGlyphs"  stroke="#222">PE-CD95</text>
<line x1="196.4" y1="331.6" x2="283.9" y2="331.6" stroke="#b0b0b0" stroke-width="0.7" />
<line x1="283.9" y1="331.6" x2="283.9" y2="418.3" stroke="#b0b0b0" stroke-width="0.7" />
<line x1="196.4" y1="331.6" x2="196.4" y2="418.3" stroke="#222" stroke-width="0.8" />
<line x1="196" y1="418.3" x2="283.9" y2="418.3" stroke="#111" stroke-width="0.9" />
<line x1="193.8" y1="336.4" x2="196.4" y2="336.4" stroke="#222" stroke-width="0.7" />
<text x="179.7" y="339" font-size="7.2" fill="#111" textLength="7.4" lengthAdjust="spacingAndGlyphs" stroke="#111">10</text>
<text x="187.4" y="336.12" font-size="5.04" fill="#111" stroke="none">6</text>
<line x1="193.8" y1="357" x2="196.4" y2="357" stroke="#222" stroke-width="0.7" />
<text x="179.7" y="359.6" font-size="7.2" fill="#111" textLength="7.4" lengthAdjust="spacingAndGlyphs" stroke="#111">10</text>
<text x="187.4" y="356.72" font-size="5.04" fill="#111" stroke="none">5</text>
<line x1="193.8" y1="377.6" x2="196.4" y2="377.6" stroke="#222" stroke-width="0.7" />
<text x="179.7" y="380.2" font-size="7.2" fill="#111" textLength="7.4" lengthAdjust="spacingAndGlyphs" stroke="#111">10</text>
<text x="187.4" y="377.32" font-size="5.04" fill="#111" stroke="none">4</text>
<line x1="193.8" y1="398.2" x2="196.4" y2="398.2" stroke="#222" stroke-width="0.7" />
<text x="179.7" y="400.8" font-size="7.2" fill="#111" textLength="7.4" lengthAdjust="spacingAndGlyphs" stroke="#111">10</text>
<text x="187.4" y="397.92" font-size="5.04" fill="#111" stroke="none">3</text>
<line x1="193.8" y1="418.2" x2="196.4" y2="418.2" stroke="#222" stroke-width="0.7" />
<text x="179.7" y="420.8" font-size="7.2" fill="#111" textLength="7.4" lengthAdjust="spacingAndGlyphs" stroke="#111">10</text>
<text x="187.4" y="417.92" font-size="5.04" fill="#111" stroke="none">2</text>
<line x1="195.1" y1="350.8" x2="196.4" y2="350.8" stroke="#555" stroke-width="0.4" />
<line x1="195.1" y1="347.17" x2="196.4" y2="347.17" stroke="#555" stroke-width="0.4" />
<line x1="195.1" y1="344.6" x2="196.4" y2="344.6" stroke="#555" stroke-width="0.4" />
<line x1="195.1" y1="342.6" x2="196.4" y2="342.6" stroke="#555" stroke-width="0.4" />
<line x1="195.1" y1="340.97" x2="196.4" y2="340.97" stroke="#555" stroke-width="0.4" />
<line x1="195.1" y1="339.59" x2="196.4" y2="339.59" stroke="#555" stroke-width="0.4" />
<line x1="195.1" y1="338.4" x2="196.4" y2="338.4" stroke="#555" stroke-width="0.4" />
<line x1="195.1" y1="337.34" x2="196.4" y2="337.34" stroke="#555" stroke-width="0.4" />
<line x1="195.1" y1="371.4" x2="196.4" y2="371.4" stroke="#555" stroke-width="0.4" />
<line x1="195.1" y1="367.77" x2="196.4" y2="367.77" stroke="#555" stroke-width="0.4" />
<line x1="195.1" y1="365.2" x2="196.4" y2="365.2" stroke="#555" stroke-width="0.4" />
<line x1="195.1" y1="363.2" x2="196.4" y2="363.2" stroke="#555" stroke-width="0.4" />
<line x1="195.1" y1="361.57" x2="196.4" y2="361.57" stroke="#555" stroke-width="0.4" />
<line x1="195.1" y1="360.19" x2="196.4" y2="360.19" stroke="#555" stroke-width="0.4" />
<line x1="195.1" y1="359" x2="196.4" y2="359" stroke="#555" stroke-width="0.4" />
<line x1="195.1" y1="357.94" x2="196.4" y2="357.94" stroke="#555" stroke-width="0.4" />
<line x1="195.1" y1="392" x2="196.4" y2="392" stroke="#555" stroke-width="0.4" />
<line x1="195.1" y1="388.37" x2="196.4" y2="388.37" stroke="#555" stroke-width="0.4" />
<line x1="195.1" y1="385.8" x2="196.4" y2="385.8" stroke="#555" stroke-width="0.4" />
<line x1="195.1" y1="383.8" x2="196.4" y2="383.8" stroke="#555" stroke-width="0.4" />
<line x1="195.1" y1="382.17" x2="196.4" y2="382.17" stroke="#555" stroke-width="0.4" />
<line x1="195.1" y1="380.79" x2="196.4" y2="380.79" stroke="#555" stroke-width="0.4" />
<line x1="195.1" y1="379.6" x2="196.4" y2="379.6" stroke="#555" stroke-width="0.4" />
<line x1="195.1" y1="378.54" x2="196.4" y2="378.54" stroke="#555" stroke-width="0.4" />
<line x1="195.1" y1="412.18" x2="196.4" y2="412.18" stroke="#555" stroke-width="0.4" />
<line x1="195.1" y1="408.66" x2="196.4" y2="408.66" stroke="#555" stroke-width="0.4" />
<line x1="195.1" y1="406.16" x2="196.4" y2="406.16" stroke="#555" stroke-width="0.4" />
<line x1="195.1" y1="404.22" x2="196.4" y2="404.22" stroke="#555" stroke-width="0.4" />
<line x1="195.1" y1="402.64" x2="196.4" y2="402.64" stroke="#555" stroke-width="0.4" />
<line x1="195.1" y1="401.3" x2="196.4" y2="401.3" stroke="#555" stroke-width="0.4" />
<line x1="195.1" y1="400.14" x2="196.4" y2="400.14" stroke="#555" stroke-width="0.4" />
<line x1="195.1" y1="399.12" x2="196.4" y2="399.12" stroke="#555" stroke-width="0.4" />
<line x1="206.3" y1="418.3" x2="206.3" y2="420.9" stroke="#222" stroke-width="0.7" />
<text x="201.05" y="430.6" font-size="7.2" fill="#111" textLength="7.4" lengthAdjust="spacingAndGlyphs" stroke="#111">10</text>
<text x="208.75" y="427.72" font-size="5.04" fill="#111" stroke="none">2</text>
<line x1="224.8" y1="418.3" x2="224.8" y2="420.9" stroke="#222" stroke-width="0.7" />
<text x="219.55" y="430.6" font-size="7.2" fill="#111" textLength="7.4" lengthAdjust="spacingAndGlyphs" stroke="#111">10</text>
<text x="227.25" y="427.72" font-size="5.04" fill="#111" stroke="none">3</text>
<line x1="243.3" y1="418.3" x2="243.3" y2="420.9" stroke="#222" stroke-width="0.7" />
<text x="238.05" y="430.6" font-size="7.2" fill="#111" textLength="7.4" lengthAdjust="spacingAndGlyphs" stroke="#111">10</text>
<text x="245.75" y="427.72" font-size="5.04" fill="#111" stroke="none">4</text>
<line x1="261.8" y1="418.3" x2="261.8" y2="420.9" stroke="#222" stroke-width="0.7" />
<text x="256.55" y="430.6" font-size="7.2" fill="#111" textLength="7.4" lengthAdjust="spacingAndGlyphs" stroke="#111">10</text>
<text x="264.25" y="427.72" font-size="5.04" fill="#111" stroke="none">5</text>
<line x1="280.3" y1="418.3" x2="280.3" y2="420.9" stroke="#222" stroke-width="0.7" />
<text x="275.05" y="430.6" font-size="7.2" fill="#111" textLength="7.4" lengthAdjust="spacingAndGlyphs" stroke="#111">10</text>
<text x="282.75" y="427.72" font-size="5.04" fill="#111" stroke="none">6</text>
<line x1="198.94" y1="418.3" x2="198.94" y2="419.6" stroke="#555" stroke-width="0.4" />
<line x1="200.73" y1="418.3" x2="200.73" y2="419.6" stroke="#555" stroke-width="0.4" />
<line x1="202.2" y1="418.3" x2="202.2" y2="419.6" stroke="#555" stroke-width="0.4" />
<line x1="203.43" y1="418.3" x2="203.43" y2="419.6" stroke="#555" stroke-width="0.4" />
<line x1="204.51" y1="418.3" x2="204.51" y2="419.6" stroke="#555" stroke-width="0.4" />
<line x1="205.45" y1="418.3" x2="205.45" y2="419.6" stroke="#555" stroke-width="0.4" />
<line x1="211.87" y1="418.3" x2="211.87" y2="419.6" stroke="#555" stroke-width="0.4" />
<line x1="215.13" y1="418.3" x2="215.13" y2="419.6" stroke="#555" stroke-width="0.4" />
<line x1="217.44" y1="418.3" x2="217.44" y2="419.6" stroke="#555" stroke-width="0.4" />
<line x1="219.23" y1="418.3" x2="219.23" y2="419.6" stroke="#555" stroke-width="0.4" />
<line x1="220.7" y1="418.3" x2="220.7" y2="419.6" stroke="#555" stroke-width="0.4" />
<line x1="221.93" y1="418.3" x2="221.93" y2="419.6" stroke="#555" stroke-width="0.4" />
<line x1="223.01" y1="418.3" x2="223.01" y2="419.6" stroke="#555" stroke-width="0.4" />
<line x1="223.95" y1="418.3" x2="223.95" y2="419.6" stroke="#555" stroke-width="0.4" />
<line x1="230.37" y1="418.3" x2="230.37" y2="419.6" stroke="#555" stroke-width="0.4" />
<line x1="233.63" y1="418.3" x2="233.63" y2="419.6" stroke="#555" stroke-width="0.4" />
<line x1="235.94" y1="418.3" x2="235.94" y2="419.6" stroke="#555" stroke-width="0.4" />
<line x1="237.73" y1="418.3" x2="237.73" y2="419.6" stroke="#555" stroke-width="0.4" />
<line x1="239.2" y1="418.3" x2="239.2" y2="419.6" stroke="#555" stroke-width="0.4" />
<line x1="240.43" y1="418.3" x2="240.43" y2="419.6" stroke="#555" stroke-width="0.4" />
<line x1="241.51" y1="418.3" x2="241.51" y2="419.6" stroke="#555" stroke-width="0.4" />
<line x1="242.45" y1="418.3" x2="242.45" y2="419.6" stroke="#555" stroke-width="0.4" />
<line x1="248.87" y1="418.3" x2="248.87" y2="419.6" stroke="#555" stroke-width="0.4" />
<line x1="252.13" y1="418.3" x2="252.13" y2="419.6" stroke="#555" stroke-width="0.4" />
<line x1="254.44" y1="418.3" x2="254.44" y2="419.6" stroke="#555" stroke-width="0.4" />
<line x1="256.23" y1="418.3" x2="256.23" y2="419.6" stroke="#555" stroke-width="0.4" />
<line x1="257.7" y1="418.3" x2="257.7" y2="419.6" stroke="#555" stroke-width="0.4" />
<line x1="258.93" y1="418.3" x2="258.93" y2="419.6" stroke="#555" stroke-width="0.4" />
<line x1="260.01" y1="418.3" x2="260.01" y2="419.6" stroke="#555" stroke-width="0.4" />
<line x1="260.95" y1="418.3" x2="260.95" y2="419.6" stroke="#555" stroke-width="0.4" />
<line x1="267.37" y1="418.3" x2="267.37" y2="419.6" stroke="#555" stroke-width="0.4" />
<line x1="270.63" y1="418.3" x2="270.63" y2="419.6" stroke="#555" stroke-width="0.4" />
<line x1="272.94" y1="418.3" x2="272.94" y2="419.6" stroke="#555" stroke-width="0.4" />
<line x1="274.73" y1="418.3" x2="274.73" y2="419.6" stroke="#555" stroke-width="0.4" />
<line x1="276.2" y1="418.3" x2="276.2" y2="419.6" stroke="#555" stroke-width="0.4" />
<line x1="277.43" y1="418.3" x2="277.43" y2="419.6" stroke="#555" stroke-width="0.4" />
<line x1="278.51" y1="418.3" x2="278.51" y2="419.6" stroke="#555" stroke-width="0.4" />
<line x1="279.45" y1="418.3" x2="279.45" y2="419.6" stroke="#555" stroke-width="0.4" />
<line x1="176.6" y1="436.5" x2="176.6" y2="385.3" stroke="#111" stroke-width="1.1" />
<path d="M176.6,380.8 L174.2,386.3 L179,386.3 Z" fill="#111"/>
<line x1="176.05" y1="436.5" x2="211" y2="436.5" stroke="#111" stroke-width="1.1" />
<path d="M215.5,436.5 L210,434.1 L210,438.9 Z" fill="#111"/>
<text x="0" y="0" font-size="9.3" fill="#222" textLength="67" lengthAdjust="spacingAndGlyphs" text-anchor="middle" transform="translate(170.6,404.6) rotate(-90)" stroke="#222">GL7-AlexaFluor647</text>
<text x="180.2" y="447.8" font-size="9.4" text-anchor="start" fill="#222" font-weight="normal" font-style="normal" textLength="29.4" lengthAdjust="spacingAndGlyphs"  stroke="#222">PE-CD95</text>
<line x1="56.6" y1="180.4" x2="56.6" y2="264" stroke="#111" stroke-width="0.9" />
<line x1="56.15" y1="264" x2="147.6" y2="264" stroke="#111" stroke-width="0.9" />
<line x1="53.2" y1="191.6" x2="56.6" y2="191.6" stroke="#222" stroke-width="0.75" />
<text x="48.8" y="194.2" font-size="7.3" text-anchor="end" fill="#111" font-weight="normal" font-style="normal" textLength="10.65" lengthAdjust="spacingAndGlyphs"  stroke="#111">120</text>
<line x1="53.2" y1="209.7" x2="56.6" y2="209.7" stroke="#222" stroke-width="0.75" />
<text x="48.8" y="212.3" font-size="7.3" text-anchor="end" fill="#111" font-weight="normal" font-style="normal" textLength="7.1" lengthAdjust="spacingAndGlyphs"  stroke="#111">90</text>
<line x1="53.2" y1="227.9" x2="56.6" y2="227.9" stroke="#222" stroke-width="0.75" />
<text x="48.8" y="230.5" font-size="7.3" text-anchor="end" fill="#111" font-weight="normal" font-style="normal" textLength="7.1" lengthAdjust="spacingAndGlyphs"  stroke="#111">60</text>
<line x1="53.2" y1="245.8" x2="56.6" y2="245.8" stroke="#222" stroke-width="0.75" />
<text x="48.8" y="248.4" font-size="7.3" text-anchor="end" fill="#111" font-weight="normal" font-style="normal" textLength="7.1" lengthAdjust="spacingAndGlyphs"  stroke="#111">30</text>
<line x1="53.2" y1="263.8" x2="56.6" y2="263.8" stroke="#222" stroke-width="0.75" />
<text x="48.8" y="266.4" font-size="7.3" text-anchor="end" fill="#111" font-weight="normal" font-style="normal" textLength="3.55" lengthAdjust="spacingAndGlyphs"  stroke="#111">0</text>
<line x1="55" y1="197.63" x2="56.6" y2="197.63" stroke="#444" stroke-width="0.45" />
<line x1="55" y1="203.67" x2="56.6" y2="203.67" stroke="#444" stroke-width="0.45" />
<line x1="55" y1="215.77" x2="56.6" y2="215.77" stroke="#444" stroke-width="0.45" />
<line x1="55" y1="221.83" x2="56.6" y2="221.83" stroke="#444" stroke-width="0.45" />
<line x1="55" y1="233.87" x2="56.6" y2="233.87" stroke="#444" stroke-width="0.45" />
<line x1="55" y1="239.83" x2="56.6" y2="239.83" stroke="#444" stroke-width="0.45" />
<line x1="55" y1="251.8" x2="56.6" y2="251.8" stroke="#444" stroke-width="0.45" />
<line x1="55" y1="257.8" x2="56.6" y2="257.8" stroke="#444" stroke-width="0.45" />
<line x1="63.7" y1="264" x2="63.7" y2="266.6" stroke="#222" stroke-width="0.7" />
<text x="58.45" y="277.3" font-size="7.2" fill="#111" textLength="7.4" lengthAdjust="spacingAndGlyphs" stroke="#111">10</text>
<text x="66.15" y="274.42" font-size="5.04" fill="#111" stroke="none">2</text>
<line x1="84" y1="264" x2="84" y2="266.6" stroke="#222" stroke-width="0.7" />
<text x="78.75" y="277.3" font-size="7.2" fill="#111" textLength="7.4" lengthAdjust="spacingAndGlyphs" stroke="#111">10</text>
<text x="86.45" y="274.42" font-size="5.04" fill="#111" stroke="none">3</text>
<line x1="103.9" y1="264" x2="103.9" y2="266.6" stroke="#222" stroke-width="0.7" />
<text x="98.65" y="277.3" font-size="7.2" fill="#111" textLength="7.4" lengthAdjust="spacingAndGlyphs" stroke="#111">10</text>
<text x="106.35" y="274.42" font-size="5.04" fill="#111" stroke="none">4</text>
<line x1="123.7" y1="264" x2="123.7" y2="266.6" stroke="#222" stroke-width="0.7" />
<text x="118.45" y="277.3" font-size="7.2" fill="#111" textLength="7.4" lengthAdjust="spacingAndGlyphs" stroke="#111">10</text>
<text x="126.15" y="274.42" font-size="5.04" fill="#111" stroke="none">5</text>
<line x1="143.2" y1="264" x2="143.2" y2="266.6" stroke="#222" stroke-width="0.7" />
<text x="137.95" y="277.3" font-size="7.2" fill="#111" textLength="7.4" lengthAdjust="spacingAndGlyphs" stroke="#111">10</text>
<text x="145.65" y="274.42" font-size="5.04" fill="#111" stroke="none">6</text>
<line x1="57.59" y1="264" x2="57.59" y2="265.4" stroke="#444" stroke-width="0.45" />
<line x1="59.2" y1="264" x2="59.2" y2="265.4" stroke="#444" stroke-width="0.45" />
<line x1="60.56" y1="264" x2="60.56" y2="265.4" stroke="#444" stroke-width="0.45" />
<line x1="61.73" y1="264" x2="61.73" y2="265.4" stroke="#444" stroke-width="0.45" />
<line x1="62.77" y1="264" x2="62.77" y2="265.4" stroke="#444" stroke-width="0.45" />
<line x1="69.81" y1="264" x2="69.81" y2="265.4" stroke="#444" stroke-width="0.45" />
<line x1="73.39" y1="264" x2="73.39" y2="265.4" stroke="#444" stroke-width="0.45" />
<line x1="75.92" y1="264" x2="75.92" y2="265.4" stroke="#444" stroke-width="0.45" />
<line x1="77.89" y1="264" x2="77.89" y2="265.4" stroke="#444" stroke-width="0.45" />
<line x1="79.5" y1="264" x2="79.5" y2="265.4" stroke="#444" stroke-width="0.45" />
<line x1="80.86" y1="264" x2="80.86" y2="265.4" stroke="#444" stroke-width="0.45" />
<line x1="82.03" y1="264" x2="82.03" y2="265.4" stroke="#444" stroke-width="0.45" />
<line x1="83.07" y1="264" x2="83.07" y2="265.4" stroke="#444" stroke-width="0.45" />
<line x1="89.99" y1="264" x2="89.99" y2="265.4" stroke="#444" stroke-width="0.45" />
<line x1="93.49" y1="264" x2="93.49" y2="265.4" stroke="#444" stroke-width="0.45" />
<line x1="95.98" y1="264" x2="95.98" y2="265.4" stroke="#444" stroke-width="0.45" />
<line x1="97.91" y1="264" x2="97.91" y2="265.4" stroke="#444" stroke-width="0.45" />
<line x1="99.49" y1="264" x2="99.49" y2="265.4" stroke="#444" stroke-width="0.45" />
<line x1="100.82" y1="264" x2="100.82" y2="265.4" stroke="#444" stroke-width="0.45" />
<line x1="101.97" y1="264" x2="101.97" y2="265.4" stroke="#444" stroke-width="0.45" />
<line x1="102.99" y1="264" x2="102.99" y2="265.4" stroke="#444" stroke-width="0.45" />
<line x1="109.86" y1="264" x2="109.86" y2="265.4" stroke="#444" stroke-width="0.45" />
<line x1="113.35" y1="264" x2="113.35" y2="265.4" stroke="#444" stroke-width="0.45" />
<line x1="115.82" y1="264" x2="115.82" y2="265.4" stroke="#444" stroke-width="0.45" />
<line x1="117.74" y1="264" x2="117.74" y2="265.4" stroke="#444" stroke-width="0.45" />
<line x1="119.31" y1="264" x2="119.31" y2="265.4" stroke="#444" stroke-width="0.45" />
<line x1="120.63" y1="264" x2="120.63" y2="265.4" stroke="#444" stroke-width="0.45" />
<line x1="121.78" y1="264" x2="121.78" y2="265.4" stroke="#444" stroke-width="0.45" />
<line x1="122.79" y1="264" x2="122.79" y2="265.4" stroke="#444" stroke-width="0.45" />
<line x1="129.57" y1="264" x2="129.57" y2="265.4" stroke="#444" stroke-width="0.45" />
<line x1="133" y1="264" x2="133" y2="265.4" stroke="#444" stroke-width="0.45" />
<line x1="135.44" y1="264" x2="135.44" y2="265.4" stroke="#444" stroke-width="0.45" />
<line x1="137.33" y1="264" x2="137.33" y2="265.4" stroke="#444" stroke-width="0.45" />
<line x1="138.87" y1="264" x2="138.87" y2="265.4" stroke="#444" stroke-width="0.45" />
<line x1="140.18" y1="264" x2="140.18" y2="265.4" stroke="#444" stroke-width="0.45" />
<line x1="141.31" y1="264" x2="141.31" y2="265.4" stroke="#444" stroke-width="0.45" />
<line x1="142.31" y1="264" x2="142.31" y2="265.4" stroke="#444" stroke-width="0.45" />
<text x="0" y="0" font-size="10" fill="#222" textLength="21" lengthAdjust="spacingAndGlyphs" text-anchor="middle" transform="translate(34.2,221.1) rotate(-90)" stroke="#222">Count</text>
<line x1="93.5" y1="200.4" x2="143.3" y2="200.4" stroke="#111" stroke-width="0.9" />
<line x1="93.5" y1="198.1" x2="93.5" y2="202.7" stroke="#111" stroke-width="0.8" />
<line x1="143.3" y1="198.1" x2="143.3" y2="202.7" stroke="#111" stroke-width="0.8" />
<text x="117" y="188.4" font-size="5.9" text-anchor="middle" fill="#222" font-weight="normal" font-style="normal"  stroke="#222">GFP+</text>
<text x="117" y="195.8" font-size="5.9" text-anchor="middle" fill="#222" font-weight="normal" font-style="normal"  stroke="#222">57,4%</text>
<path d="M56.89,263.7 C57.47,263.65 59.36,263.61 60.39,263.43 C61.42,263.25 62.18,263.25 63.08,262.62 C63.98,261.99 64.88,260.92 65.77,259.66 C66.67,258.4 67.57,256.65 68.47,255.08 C69.36,253.51 70.39,251.4 71.16,250.24 C71.92,249.07 72.41,248.26 73.04,248.08 C73.67,247.9 74.25,248.71 74.93,249.16 C75.6,249.61 76.27,250.15 77.08,250.78 C77.89,251.4 79.06,252.66 79.77,252.93 C80.49,253.2 80.81,252.84 81.39,252.39 C81.97,251.94 82.65,251.22 83.27,250.24 C83.9,249.25 84.58,247.72 85.16,246.47 C85.74,245.21 86.28,243.55 86.77,242.7 C87.27,241.85 87.67,241.35 88.12,241.35 C88.57,241.35 88.97,241.71 89.47,242.7 C89.96,243.69 90.54,245.7 91.08,247.28 C91.62,248.85 92.16,250.87 92.7,252.12 C93.24,253.38 93.82,255.04 94.31,254.81 C94.81,254.59 95.21,254.14 95.66,250.78 C96.11,247.41 96.56,241.35 97.01,234.62 C97.45,227.89 97.95,216.89 98.35,210.39 C98.76,203.88 99.07,198.77 99.43,195.58 C99.79,192.39 100.1,191.76 100.51,191.27 C100.91,190.78 101.45,191 101.85,192.62 C102.26,194.23 102.53,195.31 102.93,200.96 C103.33,206.62 103.83,218.69 104.28,226.54 C104.72,234.4 105.17,242.47 105.62,248.08 C106.07,253.69 106.52,257.6 106.97,260.2 C107.42,262.8 107.82,263.03 108.31,263.7 C108.81,264.37 109.66,264.15 109.93,264.24" fill="none" stroke="#58aa2e" stroke-width="1.25" stroke-linejoin="round"/>
<line x1="196.9" y1="178.2" x2="196.9" y2="263.6" stroke="#111" stroke-width="0.9" />
<line x1="196.45" y1="263.6" x2="286.5" y2="263.6" stroke="#111" stroke-width="0.9" />
<line x1="193.5" y1="188.3" x2="196.9" y2="188.3" stroke="#222" stroke-width="0.75" />
<text x="189.1" y="190.9" font-size="7.3" text-anchor="end" fill="#111" font-weight="normal" font-style="normal" textLength="10.65" lengthAdjust="spacingAndGlyphs"  stroke="#111">120</text>
<line x1="193.5" y1="207.2" x2="196.9" y2="207.2" stroke="#222" stroke-width="0.75" />
<text x="189.1" y="209.8" font-size="7.3" text-anchor="end" fill="#111" font-weight="normal" font-style="normal" textLength="7.1" lengthAdjust="spacingAndGlyphs"  stroke="#111">90</text>
<line x1="193.5" y1="225.7" x2="196.9" y2="225.7" stroke="#222" stroke-width="0.75" />
<text x="189.1" y="228.3" font-size="7.3" text-anchor="end" fill="#111" font-weight="normal" font-style="normal" textLength="7.1" lengthAdjust="spacingAndGlyphs"  stroke="#111">60</text>
<line x1="193.5" y1="244.6" x2="196.9" y2="244.6" stroke="#222" stroke-width="0.75" />
<text x="189.1" y="247.2" font-size="7.3" text-anchor="end" fill="#111" font-weight="normal" font-style="normal" textLength="7.1" lengthAdjust="spacingAndGlyphs"  stroke="#111">30</text>
<line x1="193.5" y1="263.4" x2="196.9" y2="263.4" stroke="#222" stroke-width="0.75" />
<text x="189.1" y="266" font-size="7.3" text-anchor="end" fill="#111" font-weight="normal" font-style="normal" textLength="3.55" lengthAdjust="spacingAndGlyphs"  stroke="#111">0</text>
<line x1="195.3" y1="194.6" x2="196.9" y2="194.6" stroke="#444" stroke-width="0.45" />
<line x1="195.3" y1="200.9" x2="196.9" y2="200.9" stroke="#444" stroke-width="0.45" />
<line x1="195.3" y1="213.37" x2="196.9" y2="213.37" stroke="#444" stroke-width="0.45" />
<line x1="195.3" y1="219.53" x2="196.9" y2="219.53" stroke="#444" stroke-width="0.45" />
<line x1="195.3" y1="232" x2="196.9" y2="232" stroke="#444" stroke-width="0.45" />
<line x1="195.3" y1="238.3" x2="196.9" y2="238.3" stroke="#444" stroke-width="0.45" />
<line x1="195.3" y1="250.87" x2="196.9" y2="250.87" stroke="#444" stroke-width="0.45" />
<line x1="195.3" y1="257.13" x2="196.9" y2="257.13" stroke="#444" stroke-width="0.45" />
<line x1="203.7" y1="263.6" x2="203.7" y2="266.2" stroke="#222" stroke-width="0.7" />
<text x="198.45" y="277.3" font-size="7.2" fill="#111" textLength="7.4" lengthAdjust="spacingAndGlyphs" stroke="#111">10</text>
<text x="206.15" y="274.42" font-size="5.04" fill="#111" stroke="none">2</text>
<line x1="223.4" y1="263.6" x2="223.4" y2="266.2" stroke="#222" stroke-width="0.7" />
<text x="218.15" y="277.3" font-size="7.2" fill="#111" textLength="7.4" lengthAdjust="spacingAndGlyphs" stroke="#111">10</text>
<text x="225.85" y="274.42" font-size="5.04" fill="#111" stroke="none">3</text>
<line x1="243.3" y1="263.6" x2="243.3" y2="266.2" stroke="#222" stroke-width="0.7" />
<text x="238.05" y="277.3" font-size="7.2" fill="#111" textLength="7.4" lengthAdjust="spacingAndGlyphs" stroke="#111">10</text>
<text x="245.75" y="274.42" font-size="5.04" fill="#111" stroke="none">4</text>
<line x1="263.3" y1="263.6" x2="263.3" y2="266.2" stroke="#222" stroke-width="0.7" />
<text x="258.05" y="277.3" font-size="7.2" fill="#111" textLength="7.4" lengthAdjust="spacingAndGlyphs" stroke="#111">10</text>
<text x="265.75" y="274.42" font-size="5.04" fill="#111" stroke="none">5</text>
<line x1="283" y1="263.6" x2="283" y2="266.2" stroke="#222" stroke-width="0.7" />
<text x="277.75" y="277.3" font-size="7.2" fill="#111" textLength="7.4" lengthAdjust="spacingAndGlyphs" stroke="#111">10</text>
<text x="285.45" y="274.42" font-size="5.04" fill="#111" stroke="none">6</text>
<line x1="197.77" y1="263.6" x2="197.77" y2="265" stroke="#444" stroke-width="0.45" />
<line x1="199.33" y1="263.6" x2="199.33" y2="265" stroke="#444" stroke-width="0.45" />
<line x1="200.65" y1="263.6" x2="200.65" y2="265" stroke="#444" stroke-width="0.45" />
<line x1="201.79" y1="263.6" x2="201.79" y2="265" stroke="#444" stroke-width="0.45" />
<line x1="202.8" y1="263.6" x2="202.8" y2="265" stroke="#444" stroke-width="0.45" />
<line x1="209.63" y1="263.6" x2="209.63" y2="265" stroke="#444" stroke-width="0.45" />
<line x1="213.1" y1="263.6" x2="213.1" y2="265" stroke="#444" stroke-width="0.45" />
<line x1="215.56" y1="263.6" x2="215.56" y2="265" stroke="#444" stroke-width="0.45" />
<line x1="217.47" y1="263.6" x2="217.47" y2="265" stroke="#444" stroke-width="0.45" />
<line x1="219.03" y1="263.6" x2="219.03" y2="265" stroke="#444" stroke-width="0.45" />
<line x1="220.35" y1="263.6" x2="220.35" y2="265" stroke="#444" stroke-width="0.45" />
<line x1="221.49" y1="263.6" x2="221.49" y2="265" stroke="#444" stroke-width="0.45" />
<line x1="222.5" y1="263.6" x2="222.5" y2="265" stroke="#444" stroke-width="0.45" />
<line x1="229.39" y1="263.6" x2="229.39" y2="265" stroke="#444" stroke-width="0.45" />
<line x1="232.89" y1="263.6" x2="232.89" y2="265" stroke="#444" stroke-width="0.45" />
<line x1="235.38" y1="263.6" x2="235.38" y2="265" stroke="#444" stroke-width="0.45" />
<line x1="237.31" y1="263.6" x2="237.31" y2="265" stroke="#444" stroke-width="0.45" />
<line x1="238.89" y1="263.6" x2="238.89" y2="265" stroke="#444" stroke-width="0.45" />
<line x1="240.22" y1="263.6" x2="240.22" y2="265" stroke="#444" stroke-width="0.45" />
<line x1="241.37" y1="263.6" x2="241.37" y2="265" stroke="#444" stroke-width="0.45" />
<line x1="242.39" y1="263.6" x2="242.39" y2="265" stroke="#444" stroke-width="0.45" />
<line x1="249.32" y1="263.6" x2="249.32" y2="265" stroke="#444" stroke-width="0.45" />
<line x1="252.84" y1="263.6" x2="252.84" y2="265" stroke="#444" stroke-width="0.45" />
<line x1="255.34" y1="263.6" x2="255.34" y2="265" stroke="#444" stroke-width="0.45" />
<line x1="257.28" y1="263.6" x2="257.28" y2="265" stroke="#444" stroke-width="0.45" />
<line x1="258.86" y1="263.6" x2="258.86" y2="265" stroke="#444" stroke-width="0.45" />
<line x1="260.2" y1="263.6" x2="260.2" y2="265" stroke="#444" stroke-width="0.45" />
<line x1="261.36" y1="263.6" x2="261.36" y2="265" stroke="#444" stroke-width="0.45" />
<line x1="262.38" y1="263.6" x2="262.38" y2="265" stroke="#444" stroke-width="0.45" />
<line x1="269.23" y1="263.6" x2="269.23" y2="265" stroke="#444" stroke-width="0.45" />
<line x1="272.7" y1="263.6" x2="272.7" y2="265" stroke="#444" stroke-width="0.45" />
<line x1="275.16" y1="263.6" x2="275.16" y2="265" stroke="#444" stroke-width="0.45" />
<line x1="277.07" y1="263.6" x2="277.07" y2="265" stroke="#444" stroke-width="0.45" />
<line x1="278.63" y1="263.6" x2="278.63" y2="265" stroke="#444" stroke-width="0.45" />
<line x1="279.95" y1="263.6" x2="279.95" y2="265" stroke="#444" stroke-width="0.45" />
<line x1="281.09" y1="263.6" x2="281.09" y2="265" stroke="#444" stroke-width="0.45" />
<line x1="282.1" y1="263.6" x2="282.1" y2="265" stroke="#444" stroke-width="0.45" />
<text x="0" y="0" font-size="10" fill="#222" textLength="21" lengthAdjust="spacingAndGlyphs" text-anchor="middle" transform="translate(178,220.5) rotate(-90)" stroke="#222">Count</text>
<line x1="232.7" y1="204.5" x2="282.5" y2="204.5" stroke="#111" stroke-width="0.9" />
<line x1="232.7" y1="202.2" x2="232.7" y2="206.8" stroke="#111" stroke-width="0.8" />
<line x1="282.5" y1="202.2" x2="282.5" y2="206.8" stroke="#111" stroke-width="0.8" />
<text x="257" y="192.4" font-size="5.9" text-anchor="middle" fill="#222" font-weight="normal" font-style="normal"  stroke="#222">GFP+</text>
<text x="257" y="199.8" font-size="5.9" text-anchor="middle" fill="#222" font-weight="normal" font-style="normal"  stroke="#222">71,1%</text>
<path d="M197.7,263.7 C198.37,263.65 200.61,263.56 201.73,263.43 C202.86,263.3 203.62,263.21 204.43,262.89 C205.23,262.58 205.91,262.13 206.58,261.55 C207.25,260.96 207.84,260.2 208.47,259.39 C209.09,258.58 209.77,257.37 210.35,256.7 C210.93,256.03 211.43,255.44 211.97,255.35 C212.5,255.26 213.04,255.71 213.58,256.16 C214.12,256.61 214.61,257.51 215.2,258.05 C215.78,258.58 216.5,259.26 217.08,259.39 C217.66,259.53 218.11,259.21 218.7,258.85 C219.28,258.49 219.95,257.69 220.58,257.24 C221.21,256.79 221.88,256.61 222.47,256.16 C223.05,255.71 223.54,255.53 224.08,254.54 C224.62,253.56 225.16,251.49 225.7,250.24 C226.24,248.98 226.82,247.72 227.31,247.01 C227.81,246.29 228.21,245.75 228.66,245.93 C229.11,246.11 229.56,247.05 230.01,248.08 C230.45,249.12 230.9,250.87 231.35,252.12 C231.8,253.38 232.29,255.04 232.7,255.62 C233.1,256.21 233.37,256.52 233.77,255.62 C234.18,254.72 234.67,253.74 235.12,250.24 C235.57,246.74 236.02,240.81 236.47,234.62 C236.92,228.43 237.36,220.04 237.81,213.08 C238.26,206.12 238.76,197.28 239.16,192.89 C239.56,188.49 239.88,187.37 240.24,186.69 C240.6,186.02 240.95,186.69 241.31,188.85 C241.67,191 241.99,193.34 242.39,199.62 C242.79,205.9 243.29,218.02 243.74,226.54 C244.19,235.07 244.63,244.94 245.08,250.78 C245.53,256.61 245.98,259.39 246.43,261.55 C246.88,263.7 247.28,263.3 247.78,263.7 C248.27,264.1 249.12,263.92 249.39,263.97" fill="none" stroke="#58aa2e" stroke-width="1.25" stroke-linejoin="round"/>
<line x1="56.6" y1="461.3" x2="56.6" y2="548.8" stroke="#111" stroke-width="0.9" />
<line x1="56.15" y1="548.8" x2="148.4" y2="548.8" stroke="#111" stroke-width="0.9" />
<line x1="53.2" y1="472.9" x2="56.6" y2="472.9" stroke="#222" stroke-width="0.75" />
<text x="48.8" y="475.5" font-size="7.3" text-anchor="end" fill="#111" font-weight="normal" font-style="normal" textLength="7.1" lengthAdjust="spacingAndGlyphs"  stroke="#111">60</text>
<line x1="53.2" y1="497.9" x2="56.6" y2="497.9" stroke="#222" stroke-width="0.75" />
<text x="48.8" y="500.5" font-size="7.3" text-anchor="end" fill="#111" font-weight="normal" font-style="normal" textLength="7.1" lengthAdjust="spacingAndGlyphs"  stroke="#111">40</text>
<line x1="53.2" y1="523.2" x2="56.6" y2="523.2" stroke="#222" stroke-width="0.75" />
<text x="48.8" y="525.8" font-size="7.3" text-anchor="end" fill="#111" font-weight="normal" font-style="normal" textLength="7.1" lengthAdjust="spacingAndGlyphs"  stroke="#111">20</text>
<line x1="53.2" y1="548.5" x2="56.6" y2="548.5" stroke="#222" stroke-width="0.75" />
<text x="48.8" y="551.1" font-size="7.3" text-anchor="end" fill="#111" font-weight="normal" font-style="normal" textLength="3.55" lengthAdjust="spacingAndGlyphs"  stroke="#111">0</text>
<line x1="55" y1="481.23" x2="56.6" y2="481.23" stroke="#444" stroke-width="0.45" />
<line x1="55" y1="489.57" x2="56.6" y2="489.57" stroke="#444" stroke-width="0.45" />
<line x1="55" y1="506.33" x2="56.6" y2="506.33" stroke="#444" stroke-width="0.45" />
<line x1="55" y1="514.77" x2="56.6" y2="514.77" stroke="#444" stroke-width="0.45" />
<line x1="55" y1="531.63" x2="56.6" y2="531.63" stroke="#444" stroke-width="0.45" />
<line x1="55" y1="540.07" x2="56.6" y2="540.07" stroke="#444" stroke-width="0.45" />
<line x1="63.2" y1="548.8" x2="63.2" y2="551.4" stroke="#222" stroke-width="0.7" />
<text x="57.95" y="562.2" font-size="7.2" fill="#111" textLength="7.4" lengthAdjust="spacingAndGlyphs" stroke="#111">10</text>
<text x="65.65" y="559.32" font-size="5.04" fill="#111" stroke="none">2</text>
<line x1="83.2" y1="548.8" x2="83.2" y2="551.4" stroke="#222" stroke-width="0.7" />
<text x="77.95" y="562.2" font-size="7.2" fill="#111" textLength="7.4" lengthAdjust="spacingAndGlyphs" stroke="#111">10</text>
<text x="85.65" y="559.32" font-size="5.04" fill="#111" stroke="none">3</text>
<line x1="103.4" y1="548.8" x2="103.4" y2="551.4" stroke="#222" stroke-width="0.7" />
<text x="98.15" y="562.2" font-size="7.2" fill="#111" textLength="7.4" lengthAdjust="spacingAndGlyphs" stroke="#111">10</text>
<text x="105.85" y="559.32" font-size="5.04" fill="#111" stroke="none">4</text>
<line x1="123.7" y1="548.8" x2="123.7" y2="551.4" stroke="#222" stroke-width="0.7" />
<text x="118.45" y="562.2" font-size="7.2" fill="#111" textLength="7.4" lengthAdjust="spacingAndGlyphs" stroke="#111">10</text>
<text x="126.15" y="559.32" font-size="5.04" fill="#111" stroke="none">5</text>
<line x1="143.6" y1="548.8" x2="143.6" y2="551.4" stroke="#222" stroke-width="0.7" />
<text x="138.35" y="562.2" font-size="7.2" fill="#111" textLength="7.4" lengthAdjust="spacingAndGlyphs" stroke="#111">10</text>
<text x="146.05" y="559.32" font-size="5.04" fill="#111" stroke="none">6</text>
<line x1="57.18" y1="548.8" x2="57.18" y2="550.2" stroke="#444" stroke-width="0.45" />
<line x1="58.76" y1="548.8" x2="58.76" y2="550.2" stroke="#444" stroke-width="0.45" />
<line x1="60.1" y1="548.8" x2="60.1" y2="550.2" stroke="#444" stroke-width="0.45" />
<line x1="61.26" y1="548.8" x2="61.26" y2="550.2" stroke="#444" stroke-width="0.45" />
<line x1="62.28" y1="548.8" x2="62.28" y2="550.2" stroke="#444" stroke-width="0.45" />
<line x1="69.22" y1="548.8" x2="69.22" y2="550.2" stroke="#444" stroke-width="0.45" />
<line x1="72.74" y1="548.8" x2="72.74" y2="550.2" stroke="#444" stroke-width="0.45" />
<line x1="75.24" y1="548.8" x2="75.24" y2="550.2" stroke="#444" stroke-width="0.45" />
<line x1="77.18" y1="548.8" x2="77.18" y2="550.2" stroke="#444" stroke-width="0.45" />
<line x1="78.76" y1="548.8" x2="78.76" y2="550.2" stroke="#444" stroke-width="0.45" />
<line x1="80.1" y1="548.8" x2="80.1" y2="550.2" stroke="#444" stroke-width="0.45" />
<line x1="81.26" y1="548.8" x2="81.26" y2="550.2" stroke="#444" stroke-width="0.45" />
<line x1="82.28" y1="548.8" x2="82.28" y2="550.2" stroke="#444" stroke-width="0.45" />
<line x1="89.28" y1="548.8" x2="89.28" y2="550.2" stroke="#444" stroke-width="0.45" />
<line x1="92.84" y1="548.8" x2="92.84" y2="550.2" stroke="#444" stroke-width="0.45" />
<line x1="95.36" y1="548.8" x2="95.36" y2="550.2" stroke="#444" stroke-width="0.45" />
<line x1="97.32" y1="548.8" x2="97.32" y2="550.2" stroke="#444" stroke-width="0.45" />
<line x1="98.92" y1="548.8" x2="98.92" y2="550.2" stroke="#444" stroke-width="0.45" />
<line x1="100.27" y1="548.8" x2="100.27" y2="550.2" stroke="#444" stroke-width="0.45" />
<line x1="101.44" y1="548.8" x2="101.44" y2="550.2" stroke="#444" stroke-width="0.45" />
<line x1="102.48" y1="548.8" x2="102.48" y2="550.2" stroke="#444" stroke-width="0.45" />
<line x1="109.51" y1="548.8" x2="109.51" y2="550.2" stroke="#444" stroke-width="0.45" />
<line x1="113.09" y1="548.8" x2="113.09" y2="550.2" stroke="#444" stroke-width="0.45" />
<line x1="115.62" y1="548.8" x2="115.62" y2="550.2" stroke="#444" stroke-width="0.45" />
<line x1="117.59" y1="548.8" x2="117.59" y2="550.2" stroke="#444" stroke-width="0.45" />
<line x1="119.2" y1="548.8" x2="119.2" y2="550.2" stroke="#444" stroke-width="0.45" />
<line x1="120.56" y1="548.8" x2="120.56" y2="550.2" stroke="#444" stroke-width="0.45" />
<line x1="121.73" y1="548.8" x2="121.73" y2="550.2" stroke="#444" stroke-width="0.45" />
<line x1="122.77" y1="548.8" x2="122.77" y2="550.2" stroke="#444" stroke-width="0.45" />
<line x1="129.69" y1="548.8" x2="129.69" y2="550.2" stroke="#444" stroke-width="0.45" />
<line x1="133.19" y1="548.8" x2="133.19" y2="550.2" stroke="#444" stroke-width="0.45" />
<line x1="135.68" y1="548.8" x2="135.68" y2="550.2" stroke="#444" stroke-width="0.45" />
<line x1="137.61" y1="548.8" x2="137.61" y2="550.2" stroke="#444" stroke-width="0.45" />
<line x1="139.19" y1="548.8" x2="139.19" y2="550.2" stroke="#444" stroke-width="0.45" />
<line x1="140.52" y1="548.8" x2="140.52" y2="550.2" stroke="#444" stroke-width="0.45" />
<line x1="141.67" y1="548.8" x2="141.67" y2="550.2" stroke="#444" stroke-width="0.45" />
<line x1="142.69" y1="548.8" x2="142.69" y2="550.2" stroke="#444" stroke-width="0.45" />
<text x="0" y="0" font-size="10" fill="#222" textLength="21" lengthAdjust="spacingAndGlyphs" text-anchor="middle" transform="translate(35,503.8) rotate(-90)" stroke="#222">Count</text>
<line x1="92.7" y1="496.6" x2="143.8" y2="496.6" stroke="#111" stroke-width="0.9" />
<line x1="92.7" y1="494.3" x2="92.7" y2="498.9" stroke="#111" stroke-width="0.8" />
<line x1="143.8" y1="494.3" x2="143.8" y2="498.9" stroke="#111" stroke-width="0.8" />
<text x="116.6" y="484.2" font-size="5.9" text-anchor="middle" fill="#222" font-weight="normal" font-style="normal"  stroke="#222">GFP+</text>
<text x="116.6" y="491.6" font-size="5.9" text-anchor="middle" fill="#222" font-weight="normal" font-style="normal"  stroke="#222">1,45%</text>
<path d="M56.89,535.62 C57.07,536.16 57.61,538.05 57.96,538.85 C58.32,539.66 58.64,540.47 59.04,540.47 C59.45,540.47 59.89,539.57 60.39,538.85 C60.88,538.13 61.42,537.51 62,536.16 C62.59,534.81 63.26,533.92 63.89,530.78 C64.52,527.63 65.19,521.8 65.77,517.31 C66.36,512.83 66.89,507.66 67.39,503.85 C67.88,500.04 68.29,498.47 68.73,494.43 C69.18,490.39 69.68,483.43 70.08,479.62 C70.48,475.8 70.8,472.44 71.16,471.54 C71.52,470.64 71.88,472.44 72.23,474.23 C72.59,476.03 72.91,478.27 73.31,482.31 C73.72,486.35 74.21,492.18 74.66,498.47 C75.11,504.75 75.56,514.17 76,520.01 C76.45,525.84 76.86,530.42 77.35,533.47 C77.84,536.52 78.38,537.19 78.97,538.31 C79.55,539.44 80.22,539.66 80.85,540.2 C81.48,540.74 82.11,541.77 82.74,541.55 C83.36,541.32 83.99,539.66 84.62,538.85 C85.25,538.05 85.83,537.01 86.51,536.7 C87.18,536.38 87.99,536.61 88.66,536.97 C89.33,537.33 89.96,537.87 90.54,538.85 C91.13,539.84 91.58,541.68 92.16,542.89 C92.74,544.1 93.37,545.32 94.04,546.12 C94.72,546.93 95.44,547.33 96.2,547.74 C96.96,548.14 97.86,548.32 98.62,548.55 C99.38,548.77 100.42,548.99 100.78,549.08" fill="none" stroke="#233f7a" stroke-width="1.25" stroke-linejoin="round"/>
<line x1="196.6" y1="459.4" x2="196.6" y2="548.8" stroke="#111" stroke-width="0.9" />
<line x1="196.15" y1="548.8" x2="290.6" y2="548.8" stroke="#111" stroke-width="0.9" />
<line x1="193.2" y1="461.6" x2="196.6" y2="461.6" stroke="#222" stroke-width="0.75" />
<text x="188.8" y="464.2" font-size="7.3" text-anchor="end" fill="#111" font-weight="normal" font-style="normal" textLength="7.1" lengthAdjust="spacingAndGlyphs"  stroke="#111">30</text>
<line x1="193.2" y1="490.9" x2="196.6" y2="490.9" stroke="#222" stroke-width="0.75" />
<text x="188.8" y="493.5" font-size="7.3" text-anchor="end" fill="#111" font-weight="normal" font-style="normal" textLength="7.1" lengthAdjust="spacingAndGlyphs"  stroke="#111">20</text>
<line x1="193.2" y1="520" x2="196.6" y2="520" stroke="#222" stroke-width="0.75" />
<text x="188.8" y="522.6" font-size="7.3" text-anchor="end" fill="#111" font-weight="normal" font-style="normal" textLength="7.1" lengthAdjust="spacingAndGlyphs"  stroke="#111">10</text>
<line x1="193.2" y1="548.8" x2="196.6" y2="548.8" stroke="#222" stroke-width="0.75" />
<text x="188.8" y="551.4" font-size="7.3" text-anchor="end" fill="#111" font-weight="normal" font-style="normal" textLength="3.55" lengthAdjust="spacingAndGlyphs"  stroke="#111">0</text>
<line x1="195" y1="471.37" x2="196.6" y2="471.37" stroke="#444" stroke-width="0.45" />
<line x1="195" y1="481.13" x2="196.6" y2="481.13" stroke="#444" stroke-width="0.45" />
<line x1="195" y1="500.6" x2="196.6" y2="500.6" stroke="#444" stroke-width="0.45" />
<line x1="195" y1="510.3" x2="196.6" y2="510.3" stroke="#444" stroke-width="0.45" />
<line x1="195" y1="529.6" x2="196.6" y2="529.6" stroke="#444" stroke-width="0.45" />
<line x1="195" y1="539.2" x2="196.6" y2="539.2" stroke="#444" stroke-width="0.45" />
<line x1="203.1" y1="548.8" x2="203.1" y2="551.4" stroke="#222" stroke-width="0.7" />
<text x="197.85" y="562.2" font-size="7.2" fill="#111" textLength="7.4" lengthAdjust="spacingAndGlyphs" stroke="#111">10</text>
<text x="205.55" y="559.32" font-size="5.04" fill="#111" stroke="none">2</text>
<line x1="224.3" y1="548.8" x2="224.3" y2="551.4" stroke="#222" stroke-width="0.7" />
<text x="219.05" y="562.2" font-size="7.2" fill="#111" textLength="7.4" lengthAdjust="spacingAndGlyphs" stroke="#111">10</text>
<text x="226.75" y="559.32" font-size="5.04" fill="#111" stroke="none">3</text>
<line x1="245.4" y1="548.8" x2="245.4" y2="551.4" stroke="#222" stroke-width="0.7" />
<text x="240.15" y="562.2" font-size="7.2" fill="#111" textLength="7.4" lengthAdjust="spacingAndGlyphs" stroke="#111">10</text>
<text x="247.85" y="559.32" font-size="5.04" fill="#111" stroke="none">4</text>
<line x1="266.6" y1="548.8" x2="266.6" y2="551.4" stroke="#222" stroke-width="0.7" />
<text x="261.35" y="562.2" font-size="7.2" fill="#111" textLength="7.4" lengthAdjust="spacingAndGlyphs" stroke="#111">10</text>
<text x="269.05" y="559.32" font-size="5.04" fill="#111" stroke="none">5</text>
<line x1="286.8" y1="548.8" x2="286.8" y2="551.4" stroke="#222" stroke-width="0.7" />
<text x="281.55" y="562.2" font-size="7.2" fill="#111" textLength="7.4" lengthAdjust="spacingAndGlyphs" stroke="#111">10</text>
<text x="289.25" y="559.32" font-size="5.04" fill="#111" stroke="none">6</text>
<line x1="198.4" y1="548.8" x2="198.4" y2="550.2" stroke="#444" stroke-width="0.45" />
<line x1="199.82" y1="548.8" x2="199.82" y2="550.2" stroke="#444" stroke-width="0.45" />
<line x1="201.05" y1="548.8" x2="201.05" y2="550.2" stroke="#444" stroke-width="0.45" />
<line x1="202.13" y1="548.8" x2="202.13" y2="550.2" stroke="#444" stroke-width="0.45" />
<line x1="209.48" y1="548.8" x2="209.48" y2="550.2" stroke="#444" stroke-width="0.45" />
<line x1="213.21" y1="548.8" x2="213.21" y2="550.2" stroke="#444" stroke-width="0.45" />
<line x1="215.86" y1="548.8" x2="215.86" y2="550.2" stroke="#444" stroke-width="0.45" />
<line x1="217.92" y1="548.8" x2="217.92" y2="550.2" stroke="#444" stroke-width="0.45" />
<line x1="219.6" y1="548.8" x2="219.6" y2="550.2" stroke="#444" stroke-width="0.45" />
<line x1="221.02" y1="548.8" x2="221.02" y2="550.2" stroke="#444" stroke-width="0.45" />
<line x1="222.25" y1="548.8" x2="222.25" y2="550.2" stroke="#444" stroke-width="0.45" />
<line x1="223.33" y1="548.8" x2="223.33" y2="550.2" stroke="#444" stroke-width="0.45" />
<line x1="230.65" y1="548.8" x2="230.65" y2="550.2" stroke="#444" stroke-width="0.45" />
<line x1="234.37" y1="548.8" x2="234.37" y2="550.2" stroke="#444" stroke-width="0.45" />
<line x1="237" y1="548.8" x2="237" y2="550.2" stroke="#444" stroke-width="0.45" />
<line x1="239.05" y1="548.8" x2="239.05" y2="550.2" stroke="#444" stroke-width="0.45" />
<line x1="240.72" y1="548.8" x2="240.72" y2="550.2" stroke="#444" stroke-width="0.45" />
<line x1="242.13" y1="548.8" x2="242.13" y2="550.2" stroke="#444" stroke-width="0.45" />
<line x1="243.36" y1="548.8" x2="243.36" y2="550.2" stroke="#444" stroke-width="0.45" />
<line x1="244.43" y1="548.8" x2="244.43" y2="550.2" stroke="#444" stroke-width="0.45" />
<line x1="251.78" y1="548.8" x2="251.78" y2="550.2" stroke="#444" stroke-width="0.45" />
<line x1="255.51" y1="548.8" x2="255.51" y2="550.2" stroke="#444" stroke-width="0.45" />
<line x1="258.16" y1="548.8" x2="258.16" y2="550.2" stroke="#444" stroke-width="0.45" />
<line x1="260.22" y1="548.8" x2="260.22" y2="550.2" stroke="#444" stroke-width="0.45" />
<line x1="261.9" y1="548.8" x2="261.9" y2="550.2" stroke="#444" stroke-width="0.45" />
<line x1="263.32" y1="548.8" x2="263.32" y2="550.2" stroke="#444" stroke-width="0.45" />
<line x1="264.55" y1="548.8" x2="264.55" y2="550.2" stroke="#444" stroke-width="0.45" />
<line x1="265.63" y1="548.8" x2="265.63" y2="550.2" stroke="#444" stroke-width="0.45" />
<line x1="272.68" y1="548.8" x2="272.68" y2="550.2" stroke="#444" stroke-width="0.45" />
<line x1="276.24" y1="548.8" x2="276.24" y2="550.2" stroke="#444" stroke-width="0.45" />
<line x1="278.76" y1="548.8" x2="278.76" y2="550.2" stroke="#444" stroke-width="0.45" />
<line x1="280.72" y1="548.8" x2="280.72" y2="550.2" stroke="#444" stroke-width="0.45" />
<line x1="282.32" y1="548.8" x2="282.32" y2="550.2" stroke="#444" stroke-width="0.45" />
<line x1="283.67" y1="548.8" x2="283.67" y2="550.2" stroke="#444" stroke-width="0.45" />
<line x1="284.84" y1="548.8" x2="284.84" y2="550.2" stroke="#444" stroke-width="0.45" />
<line x1="285.88" y1="548.8" x2="285.88" y2="550.2" stroke="#444" stroke-width="0.45" />
<text x="0" y="0" font-size="10" fill="#222" textLength="21" lengthAdjust="spacingAndGlyphs" text-anchor="middle" transform="translate(177,503.8) rotate(-90)" stroke="#222">Count</text>
<line x1="233.2" y1="490.4" x2="286.5" y2="490.4" stroke="#111" stroke-width="0.9" />
<line x1="233.2" y1="488.1" x2="233.2" y2="492.7" stroke="#111" stroke-width="0.8" />
<line x1="286.5" y1="488.1" x2="286.5" y2="492.7" stroke="#111" stroke-width="0.8" />
<text x="259.8" y="478" font-size="5.9" text-anchor="middle" fill="#222" font-weight="normal" font-style="normal"  stroke="#222">GFP+</text>
<text x="259.8" y="485.4" font-size="5.9" text-anchor="middle" fill="#222" font-weight="normal" font-style="normal"  stroke="#222">2,71%</text>
<path d="M196.89,525.39 C197.02,527.19 197.43,533.24 197.7,536.16 C197.96,539.08 198.14,541.46 198.5,542.89 C198.86,544.33 199.36,544.55 199.85,544.78 C200.34,545 201.02,544.78 201.46,544.24 C201.91,543.7 202.18,543.12 202.54,541.55 C202.9,539.97 203.21,537.28 203.62,534.81 C204.02,532.35 204.47,529.2 204.96,526.74 C205.46,524.27 206.04,522.11 206.58,520.01 C207.12,517.9 207.7,516.77 208.2,514.08 C208.69,511.39 209.14,507.13 209.54,503.85 C209.95,500.57 210.26,496.31 210.62,494.43 C210.98,492.54 211.38,494.11 211.7,492.54 C212.01,490.97 212.23,487.34 212.5,485 C212.77,482.67 213,479.08 213.31,478.54 C213.63,478 213.98,479.8 214.39,481.77 C214.79,483.75 215.29,486.93 215.74,490.39 C216.18,493.84 216.63,498.02 217.08,502.5 C217.53,506.99 217.98,512.6 218.43,517.31 C218.88,522.02 219.33,527.72 219.77,530.78 C220.22,533.83 220.63,534.63 221.12,535.62 C221.61,536.61 222.2,535.94 222.74,536.7 C223.27,537.46 223.81,539.08 224.35,540.2 C224.89,541.32 225.38,542.76 225.97,543.43 C226.55,544.1 227.22,544.24 227.85,544.24 C228.48,544.24 229.11,543.43 229.74,543.43 C230.36,543.43 230.95,544.01 231.62,544.24 C232.29,544.46 233.06,544.78 233.77,544.78 C234.49,544.78 235.26,544.19 235.93,544.24 C236.6,544.28 237.23,544.6 237.81,545.05 C238.4,545.49 238.85,546.3 239.43,546.93 C240.01,547.56 240.82,548.46 241.31,548.82 C241.81,549.17 242.21,549.04 242.39,549.08" fill="none" stroke="#233f7a" stroke-width="1.25" stroke-linejoin="round"/>
<line x1="21.5" y1="282.3" x2="282.8" y2="282.3" stroke="#111" stroke-width="1.1" />
<path d="M288,282.3 L281.8,279.7 L281.8,284.9 Z" fill="#111"/>
<text x="21.6" y="294.8" font-size="10" text-anchor="start" fill="#222" font-weight="normal" font-style="normal" textLength="13.4" lengthAdjust="spacingAndGlyphs"  stroke="#222">GFP</text>
<line x1="21.5" y1="567.7" x2="282.8" y2="567.7" stroke="#111" stroke-width="1.1" />
<path d="M288,567.7 L281.8,565.1 L281.8,570.3 Z" fill="#111"/>
<text x="21.6" y="580" font-size="10" text-anchor="start" fill="#222" font-weight="normal" font-style="normal" textLength="13.4" lengthAdjust="spacingAndGlyphs"  stroke="#222">GFP</text>
<line x1="347.6" y1="34.2" x2="347.6" y2="147.6" stroke="#111" stroke-width="1" />
<line x1="347.1" y1="147.2" x2="511.6" y2="147.2" stroke="#111" stroke-width="1" />
<line x1="344" y1="37.6" x2="347.6" y2="37.6" stroke="#111" stroke-width="0.8" />
<text x="340.6" y="40.2" font-size="7.3" text-anchor="end" fill="#111" font-weight="normal" font-style="normal" textLength="3.6" lengthAdjust="spacingAndGlyphs"  stroke="#111">5</text>
<line x1="344" y1="59.6" x2="347.6" y2="59.6" stroke="#111" stroke-width="0.8" />
<text x="340.6" y="62.2" font-size="7.3" text-anchor="end" fill="#111" font-weight="normal" font-style="normal" textLength="3.6" lengthAdjust="spacingAndGlyphs"  stroke="#111">4</text>
<line x1="344" y1="81.6" x2="347.6" y2="81.6" stroke="#111" stroke-width="0.8" />
<text x="340.6" y="84.2" font-size="7.3" text-anchor="end" fill="#111" font-weight="normal" font-style="normal" textLength="3.6" lengthAdjust="spacingAndGlyphs"  stroke="#111">3</text>
<line x1="344" y1="103.6" x2="347.6" y2="103.6" stroke="#111" stroke-width="0.8" />
<text x="340.6" y="106.2" font-size="7.3" text-anchor="end" fill="#111" font-weight="normal" font-style="normal" textLength="3.6" lengthAdjust="spacingAndGlyphs"  stroke="#111">2</text>
<line x1="344" y1="125.4" x2="347.6" y2="125.4" stroke="#111" stroke-width="0.8" />
<text x="340.6" y="128" font-size="7.3" text-anchor="end" fill="#111" font-weight="normal" font-style="normal" textLength="3.6" lengthAdjust="spacingAndGlyphs"  stroke="#111">1</text>
<line x1="344" y1="147.2" x2="347.6" y2="147.2" stroke="#111" stroke-width="0.8" />
<text x="340.6" y="149.8" font-size="7.3" text-anchor="end" fill="#111" font-weight="normal" font-style="normal" textLength="3.6" lengthAdjust="spacingAndGlyphs"  stroke="#111">0</text>
<text x="0" y="0" font-size="10.4" fill="#222" textLength="61.6" lengthAdjust="spacingAndGlyphs" text-anchor="middle" transform="translate(329.8,87.8) rotate(-90)" stroke="#222">GCB cells (% B cells)</text>
<line x1="363.8" y1="109.7" x2="363.8" y2="106.5" stroke="#111" stroke-width="0.9" />
<line x1="357.3" y1="106.5" x2="370.3" y2="106.5" stroke="#111" stroke-width="0.9" />
<rect x="353" y="109.7" width="21.6" height="37.5" fill="#a30a31"/>
<line x1="363.8" y1="147.2" x2="363.8" y2="150.4" stroke="#111" stroke-width="0.8" />
<line x1="396.65" y1="72.9" x2="396.65" y2="56.2" stroke="#111" stroke-width="0.9" />
<line x1="390.15" y1="56.2" x2="403.15" y2="56.2" stroke="#111" stroke-width="0.9" />
<rect x="385.9" y="72.9" width="21.5" height="74.3" fill="#69a8dd"/>
<line x1="396.65" y1="147.2" x2="396.65" y2="150.4" stroke="#111" stroke-width="0.8" />
<line x1="429.25" y1="126.8" x2="429.25" y2="121.5" stroke="#111" stroke-width="0.9" />
<line x1="422.75" y1="121.5" x2="435.75" y2="121.5" stroke="#111" stroke-width="0.9" />
<rect x="418.4" y="126.8" width="21.7" height="20.4" fill="#68a945"/>
<line x1="429.25" y1="147.2" x2="429.25" y2="150.4" stroke="#111" stroke-width="0.8" />
<line x1="462.15" y1="130.4" x2="462.15" y2="125" stroke="#111" stroke-width="0.9" />
<line x1="455.65" y1="125" x2="468.65" y2="125" stroke="#111" stroke-width="0.9" />
<rect x="451.4" y="130.4" width="21.5" height="16.8" fill="#28467d"/>
<line x1="462.15" y1="147.2" x2="462.15" y2="150.4" stroke="#111" stroke-width="0.8" />
<line x1="494.9" y1="132.3" x2="494.9" y2="130.8" stroke="#111" stroke-width="0.9" />
<line x1="488.4" y1="130.8" x2="501.4" y2="130.8" stroke="#111" stroke-width="0.9" />
<rect x="484.1" y="132.3" width="21.6" height="14.9" fill="#5b2772"/>
<line x1="494.9" y1="147.2" x2="494.9" y2="150.4" stroke="#111" stroke-width="0.8" />
<line x1="364.2" y1="53.3" x2="396.5" y2="53.3" stroke="#111" stroke-width="1.3" />
<text x="380.4" y="53" font-size="5.5" text-anchor="middle" fill="#111" font-weight="normal" font-style="normal"  stroke="#111">*</text>
<line x1="396.5" y1="45.9" x2="429" y2="45.9" stroke="#111" stroke-width="1.3" />
<text x="413" y="45.6" font-size="5.5" text-anchor="middle" fill="#111" font-weight="normal" font-style="normal"  stroke="#111">**</text>
<line x1="396.5" y1="38.5" x2="462" y2="38.5" stroke="#111" stroke-width="1.3" />
<text x="429.4" y="38.2" font-size="5.5" text-anchor="middle" fill="#111" font-weight="normal" font-style="normal"  stroke="#111">**</text>
<line x1="396.5" y1="31.2" x2="494.6" y2="31.2" stroke="#111" stroke-width="1.3" />
<text x="446" y="30.8" font-size="5.5" text-anchor="middle" fill="#111" font-weight="normal" font-style="normal"  stroke="#111">**</text>
<text x="0" y="0" font-size="7.55" fill="#222" stroke="none" text-anchor="end" transform="translate(367.2,157.2) rotate(-45)"><tspan>Rosa26</tspan><tspan dy="-2.8" font-size="4.6">HGAL</tspan><tspan dy="2.8"></tspan></text>
<text x="0" y="0" font-size="7.55" fill="#222" stroke="none" text-anchor="end" transform="translate(400,157.2) rotate(-45)"><tspan>Rosa26</tspan><tspan dy="-2.8" font-size="4.6">HGAL</tspan><tspan dy="2.8">/Aid-Cre</tspan></text>
<text x="0" y="0" font-size="7.55" fill="#222" stroke="none" text-anchor="end" transform="translate(432.6,157.2) rotate(-45)"><tspan>Rosa26</tspan><tspan dy="-2.8" font-size="4.6">HGAL</tspan><tspan dy="2.8">/Sca1-Cre</tspan></text>
<text x="0" y="0" font-size="7.55" fill="#222" stroke="none" text-anchor="end" transform="translate(465.5,157.2) rotate(-45)"><tspan>Rosa26</tspan><tspan dy="-2.8" font-size="4.6">HGAL</tspan><tspan dy="2.8">/Mb1-Cre</tspan></text>
<text x="0" y="0" font-size="7.55" fill="#222" stroke="none" text-anchor="end" transform="translate(498.2,157.2) rotate(-45)"><tspan>Control &#8216;Wild-Type&#8217;</tspan></text>
<rect x="346.7" y="230" width="12.2" height="7.4" fill="#a30a31"/>
<text x="362.6" y="236.4" font-size="7.4" fill="#222" stroke="#222"><tspan font-style="italic">Rosa26</tspan><tspan dy="-2.6" font-size="4.6">HGAL</tspan><tspan dy="2.6"> (n=6)</tspan></text>
<rect x="346.7" y="244.5" width="12.2" height="7.4" fill="#69a8dd"/>
<text x="362.6" y="250.9" font-size="7.4" fill="#222" stroke="#222"><tspan font-style="italic">Rosa26</tspan><tspan dy="-2.6" font-size="4.6">HGAL</tspan><tspan font-style="italic" dy="2.6">/Aid-Cre</tspan><tspan> (n=6)</tspan></text>
<rect x="346.7" y="258.5" width="12.2" height="7.4" fill="#68a945"/>
<text x="362.6" y="264.9" font-size="7.4" fill="#222" stroke="#222"><tspan font-style="italic">Rosa26</tspan><tspan dy="-2.6" font-size="4.6">HGAL</tspan><tspan font-style="italic" dy="2.6">/Sca1-Cre</tspan><tspan> (n=6)</tspan></text>
<rect x="346.7" y="272.8" width="12.2" height="7.4" fill="#28467d"/>
<text x="362.6" y="279.2" font-size="7.4" fill="#222" stroke="#222"><tspan font-style="italic">Rosa26</tspan><tspan dy="-2.6" font-size="4.6">HGAL</tspan><tspan font-style="italic" dy="2.6">/Mb1-Cre</tspan><tspan> (n=6)</tspan></text>
<rect x="346.7" y="287.2" width="12.2" height="7.4" fill="#5b2772"/>
<text x="362.6" y="293.6" font-size="7.4" fill="#222" stroke="#222"><tspan>Control &#8216;Wild-Type&#8217; (n=6)</tspan></text>
<text x="358" y="307.2" font-size="10" text-anchor="start" fill="#111" font-weight="normal" font-style="normal" textLength="78.7" lengthAdjust="spacingAndGlyphs"  stroke="#111">GCB cells (B cells)</text>
<line x1="347.2" y1="312.8" x2="347.2" y2="409.3" stroke="#111" stroke-width="1" />
<line x1="346.7" y1="409.3" x2="446.8" y2="409.3" stroke="#111" stroke-width="1.3" />
<line x1="346.9" y1="409.3" x2="346.9" y2="411.7" stroke="#222" stroke-width="0.7" />
<text x="342.07" y="423" font-size="6.6" fill="#111" textLength="6.78" lengthAdjust="spacingAndGlyphs" stroke="#111">10</text>
<text x="349.16" y="420.36" font-size="4.62" fill="#111" stroke="none">1</text>
<line x1="366.2" y1="409.3" x2="366.2" y2="411.7" stroke="#222" stroke-width="0.7" />
<text x="361.38" y="423" font-size="6.6" fill="#111" textLength="6.78" lengthAdjust="spacingAndGlyphs" stroke="#111">10</text>
<text x="368.46" y="420.36" font-size="4.62" fill="#111" stroke="none">2</text>
<line x1="385.6" y1="409.3" x2="385.6" y2="411.7" stroke="#222" stroke-width="0.7" />
<text x="380.78" y="423" font-size="6.6" fill="#111" textLength="6.78" lengthAdjust="spacingAndGlyphs" stroke="#111">10</text>
<text x="387.86" y="420.36" font-size="4.62" fill="#111" stroke="none">3</text>
<line x1="405.6" y1="409.3" x2="405.6" y2="411.7" stroke="#222" stroke-width="0.7" />
<text x="400.78" y="423" font-size="6.6" fill="#111" textLength="6.78" lengthAdjust="spacingAndGlyphs" stroke="#111">10</text>
<text x="407.86" y="420.36" font-size="4.62" fill="#111" stroke="none">4</text>
<line x1="424.8" y1="409.3" x2="424.8" y2="411.7" stroke="#222" stroke-width="0.7" />
<text x="419.98" y="423" font-size="6.6" fill="#111" textLength="6.78" lengthAdjust="spacingAndGlyphs" stroke="#111">10</text>
<text x="427.06" y="420.36" font-size="4.62" fill="#111" stroke="none">5</text>
<line x1="444.2" y1="409.3" x2="444.2" y2="411.7" stroke="#222" stroke-width="0.7" />
<text x="439.38" y="423" font-size="6.6" fill="#111" textLength="6.78" lengthAdjust="spacingAndGlyphs" stroke="#111">10</text>
<text x="446.46" y="420.36" font-size="4.62" fill="#111" stroke="none">6</text>
<line x1="352.71" y1="409.3" x2="352.71" y2="410.6" stroke="#444" stroke-width="0.45" />
<line x1="356.11" y1="409.3" x2="356.11" y2="410.6" stroke="#444" stroke-width="0.45" />
<line x1="358.52" y1="409.3" x2="358.52" y2="410.6" stroke="#444" stroke-width="0.45" />
<line x1="360.39" y1="409.3" x2="360.39" y2="410.6" stroke="#444" stroke-width="0.45" />
<line x1="361.92" y1="409.3" x2="361.92" y2="410.6" stroke="#444" stroke-width="0.45" />
<line x1="363.21" y1="409.3" x2="363.21" y2="410.6" stroke="#444" stroke-width="0.45" />
<line x1="364.33" y1="409.3" x2="364.33" y2="410.6" stroke="#444" stroke-width="0.45" />
<line x1="365.32" y1="409.3" x2="365.32" y2="410.6" stroke="#444" stroke-width="0.45" />
<line x1="372.04" y1="409.3" x2="372.04" y2="410.6" stroke="#444" stroke-width="0.45" />
<line x1="375.46" y1="409.3" x2="375.46" y2="410.6" stroke="#444" stroke-width="0.45" />
<line x1="377.88" y1="409.3" x2="377.88" y2="410.6" stroke="#444" stroke-width="0.45" />
<line x1="379.76" y1="409.3" x2="379.76" y2="410.6" stroke="#444" stroke-width="0.45" />
<line x1="381.3" y1="409.3" x2="381.3" y2="410.6" stroke="#444" stroke-width="0.45" />
<line x1="382.59" y1="409.3" x2="382.59" y2="410.6" stroke="#444" stroke-width="0.45" />
<line x1="383.72" y1="409.3" x2="383.72" y2="410.6" stroke="#444" stroke-width="0.45" />
<line x1="384.71" y1="409.3" x2="384.71" y2="410.6" stroke="#444" stroke-width="0.45" />
<line x1="391.62" y1="409.3" x2="391.62" y2="410.6" stroke="#444" stroke-width="0.45" />
<line x1="395.14" y1="409.3" x2="395.14" y2="410.6" stroke="#444" stroke-width="0.45" />
<line x1="397.64" y1="409.3" x2="397.64" y2="410.6" stroke="#444" stroke-width="0.45" />
<line x1="399.58" y1="409.3" x2="399.58" y2="410.6" stroke="#444" stroke-width="0.45" />
<line x1="401.16" y1="409.3" x2="401.16" y2="410.6" stroke="#444" stroke-width="0.45" />
<line x1="402.5" y1="409.3" x2="402.5" y2="410.6" stroke="#444" stroke-width="0.45" />
<line x1="403.66" y1="409.3" x2="403.66" y2="410.6" stroke="#444" stroke-width="0.45" />
<line x1="404.68" y1="409.3" x2="404.68" y2="410.6" stroke="#444" stroke-width="0.45" />
<line x1="411.38" y1="409.3" x2="411.38" y2="410.6" stroke="#444" stroke-width="0.45" />
<line x1="414.76" y1="409.3" x2="414.76" y2="410.6" stroke="#444" stroke-width="0.45" />
<line x1="417.16" y1="409.3" x2="417.16" y2="410.6" stroke="#444" stroke-width="0.45" />
<line x1="419.02" y1="409.3" x2="419.02" y2="410.6" stroke="#444" stroke-width="0.45" />
<line x1="420.54" y1="409.3" x2="420.54" y2="410.6" stroke="#444" stroke-width="0.45" />
<line x1="421.83" y1="409.3" x2="421.83" y2="410.6" stroke="#444" stroke-width="0.45" />
<line x1="422.94" y1="409.3" x2="422.94" y2="410.6" stroke="#444" stroke-width="0.45" />
<line x1="423.92" y1="409.3" x2="423.92" y2="410.6" stroke="#444" stroke-width="0.45" />
<line x1="430.64" y1="409.3" x2="430.64" y2="410.6" stroke="#444" stroke-width="0.45" />
<line x1="434.06" y1="409.3" x2="434.06" y2="410.6" stroke="#444" stroke-width="0.45" />
<line x1="436.48" y1="409.3" x2="436.48" y2="410.6" stroke="#444" stroke-width="0.45" />
<line x1="438.36" y1="409.3" x2="438.36" y2="410.6" stroke="#444" stroke-width="0.45" />
<line x1="439.9" y1="409.3" x2="439.9" y2="410.6" stroke="#444" stroke-width="0.45" />
<line x1="441.19" y1="409.3" x2="441.19" y2="410.6" stroke="#444" stroke-width="0.45" />
<line x1="442.32" y1="409.3" x2="442.32" y2="410.6" stroke="#444" stroke-width="0.45" />
<line x1="443.31" y1="409.3" x2="443.31" y2="410.6" stroke="#444" stroke-width="0.45" />
<text x="0" y="0" font-size="9.6" fill="#222" textLength="20.5" lengthAdjust="spacingAndGlyphs" text-anchor="middle" transform="translate(341.4,361.2) rotate(-90)" stroke="#222">Count</text>
<line x1="344.4" y1="428.5" x2="439.5" y2="428.5" stroke="#111" stroke-width="1.1" />
<path d="M444.5,428.5 L438.5,426 L438.5,431 Z" fill="#111"/>
<text x="347.3" y="440.8" font-size="9.6" text-anchor="start" fill="#222" font-weight="normal" font-style="normal" textLength="13.2" lengthAdjust="spacingAndGlyphs"  stroke="#222">GFP</text>
<line x1="385.4" y1="377" x2="444.8" y2="377" stroke="#111" stroke-width="1.3" />
<line x1="385.4" y1="374.5" x2="385.4" y2="379.1" stroke="#111" stroke-width="0.9" />
<line x1="444.8" y1="374.5" x2="444.8" y2="379.1" stroke="#111" stroke-width="0.9" />
<path d="M347.11,408.84 C347.17,408.52 347.32,407.72 347.47,406.89 C347.61,406.06 347.79,403.87 348,403.87 C348.21,403.87 348.41,406.18 348.71,406.89 C349.01,407.6 349.3,408.1 349.78,408.13 C350.25,408.16 350.81,407.48 351.56,407.07 C352.3,406.65 353.33,405.94 354.22,405.64 C355.11,405.35 356,405.41 356.89,405.29 C357.78,405.17 358.76,405.2 359.56,404.93 C360.36,404.67 361.04,404.1 361.69,403.69 C362.34,403.27 362.87,404.43 363.47,402.44 C364.06,400.46 364.65,395.93 365.24,391.78 C365.84,387.63 366.43,382.3 367.02,377.56 C367.61,372.81 368.21,366.89 368.8,363.33 C369.39,359.78 369.99,358.74 370.58,356.22 C371.17,353.7 371.82,350.59 372.36,348.22 C372.89,345.85 373.33,343.39 373.78,342 C374.22,340.61 374.64,339.93 375.02,339.87 C375.41,339.81 375.7,339.51 376.09,341.64 C376.47,343.78 376.89,347.57 377.33,352.67 C377.78,357.76 378.28,366.3 378.76,372.22 C379.23,378.15 379.67,383.63 380.18,388.22 C380.68,392.81 381.21,396.96 381.78,399.78 C382.34,402.59 382.87,403.78 383.56,405.11 C384.24,406.44 385.07,407.16 385.87,407.78 C386.67,408.4 387.41,408.61 388.36,408.84 C389.3,409.08 391.02,409.14 391.56,409.2" fill="none" stroke="#5b2772" stroke-width="1.2" stroke-linejoin="round"/>
<path d="M347.11,408.84 C347.17,408.37 347.32,407.01 347.47,406 C347.61,404.99 347.79,402.8 348,402.8 C348.21,402.8 348.41,405.17 348.71,406 C349.01,406.83 349.3,407.54 349.78,407.78 C350.25,408.01 350.81,407.66 351.56,407.42 C352.3,407.19 353.33,406.59 354.22,406.36 C355.11,406.12 356,406.18 356.89,406 C357.78,405.82 358.76,405.64 359.56,405.29 C360.36,404.93 361.04,404.4 361.69,403.87 C362.34,403.33 362.87,403.81 363.47,402.09 C364.06,400.37 364.65,396.76 365.24,393.56 C365.84,390.36 366.43,386.59 367.02,382.89 C367.61,379.19 368.21,374.89 368.8,371.33 C369.39,367.78 369.99,364.67 370.58,361.56 C371.17,358.44 371.76,355.48 372.36,352.67 C372.95,349.85 373.63,346.5 374.13,344.67 C374.64,342.83 374.99,341.64 375.38,341.64 C375.76,341.64 376.06,342.24 376.44,344.67 C376.83,347.1 377.24,351.33 377.69,356.22 C378.13,361.11 378.64,368.67 379.11,374 C379.59,379.33 380.06,384.07 380.53,388.22 C381.01,392.37 381.42,396.07 381.96,398.89 C382.49,401.7 383.08,403.63 383.73,405.11 C384.39,406.59 385.1,407.16 385.87,407.78 C386.64,408.4 387.41,408.61 388.36,408.84 C389.3,409.08 391.02,409.14 391.56,409.2" fill="none" stroke="#a30a31" stroke-width="1.3" stroke-linejoin="round"/>
<path d="M373.78,409.02 C374.22,408.9 375.56,408.67 376.44,408.31 C377.33,407.96 378.22,407.63 379.11,406.89 C380,406.15 380.95,405.2 381.78,403.87 C382.61,402.53 383.41,401.5 384.09,398.89 C384.77,396.28 385.33,393.26 385.87,388.22 C386.4,383.19 386.87,374.3 387.29,368.67 C387.7,363.04 388,358.3 388.36,354.44 C388.71,350.59 389.04,347.54 389.42,345.56 C389.81,343.57 390.25,342.53 390.67,342.53 C391.08,342.53 391.53,343.72 391.91,345.56 C392.3,347.39 392.62,350 392.98,353.56 C393.33,357.11 393.69,362.3 394.04,366.89 C394.4,371.48 394.76,377.11 395.11,381.11 C395.47,385.11 395.82,388.58 396.18,390.89 C396.53,393.2 396.89,394.83 397.24,394.98 C397.6,395.13 397.96,393.79 398.31,391.78 C398.67,389.76 399.02,386.44 399.38,382.89 C399.73,379.33 400.09,374.15 400.44,370.44 C400.8,366.74 401.16,363.33 401.51,360.67 C401.87,358 402.25,355.6 402.58,354.44 C402.9,353.29 403.17,352.49 403.47,353.73 C403.76,354.98 404.06,357.94 404.36,361.91 C404.65,365.88 404.95,372.58 405.24,377.56 C405.54,382.53 405.84,387.63 406.13,391.78 C406.43,395.93 406.7,399.84 407.02,402.44 C407.35,405.05 407.64,406.33 408.09,407.42 C408.53,408.52 409.04,408.73 409.69,409.02 C410.34,409.32 411.61,409.17 412,409.2" fill="none" stroke="#28467d" stroke-width="1.2" stroke-linejoin="round"/>
<path d="M356,408.84 C356.89,408.73 359.85,408.43 361.33,408.13 C362.81,407.84 363.85,407.48 364.89,407.07 C365.93,406.65 366.67,405.97 367.56,405.64 C368.44,405.32 369.33,405.2 370.22,405.11 C371.11,405.02 372,404.96 372.89,405.11 C373.78,405.26 374.67,405.7 375.56,406 C376.44,406.3 377.39,406.74 378.22,406.89 C379.05,407.04 379.79,407.19 380.53,406.89 C381.27,406.59 381.87,405.85 382.67,405.11 C383.47,404.37 384.5,403.48 385.33,402.44 C386.16,401.41 386.9,399.96 387.64,398.89 C388.39,397.82 389.21,396.64 389.78,396.04 C390.34,395.45 390.61,395.16 391.02,395.33 C391.44,395.51 391.82,396.28 392.27,397.11 C392.71,397.94 393.16,399.42 393.69,400.31 C394.22,401.2 394.87,402.39 395.47,402.44 C396.06,402.5 396.65,402.15 397.24,400.67 C397.84,399.19 398.55,397.41 399.02,393.56 C399.5,389.7 399.76,384.07 400.09,377.56 C400.41,371.04 400.68,361.56 400.98,354.44 C401.27,347.33 401.6,339.1 401.87,334.89 C402.13,330.68 402.34,329.5 402.58,329.2 C402.81,328.9 403.02,328.9 403.29,333.11 C403.56,337.32 403.88,347.04 404.18,354.44 C404.47,361.85 404.74,370.74 405.07,377.56 C405.39,384.37 405.78,390.89 406.13,395.33 C406.49,399.78 406.79,402.09 407.2,404.22 C407.61,406.36 408.09,407.33 408.62,408.13 C409.16,408.93 409.69,408.84 410.4,409.02 C411.11,409.2 412.47,409.17 412.89,409.2" fill="none" stroke="#69a8dd" stroke-width="1.1" stroke-linejoin="round"/>
<path d="M389.78,409.2 C390.37,409.14 392.3,409.14 393.33,408.84 C394.37,408.55 395.17,408.19 396,407.42 C396.83,406.65 397.63,405.64 398.31,404.22 C398.99,402.8 399.56,401.56 400.09,398.89 C400.62,396.22 401.1,392.37 401.51,388.22 C401.93,384.07 402.22,379.33 402.58,374 C402.93,368.67 403.29,361.85 403.64,356.22 C404,350.59 404.36,344.96 404.71,340.22 C405.07,335.48 405.45,330.68 405.78,327.78 C406.1,324.87 406.4,323.75 406.67,322.8 C406.93,321.85 407.14,321.85 407.38,322.09 C407.61,322.33 407.82,322.09 408.09,324.22 C408.36,326.36 408.68,330.15 408.98,334.89 C409.27,339.63 409.57,346.15 409.87,352.67 C410.16,359.19 410.46,367.48 410.76,374 C411.05,380.52 411.32,386.89 411.64,391.78 C411.97,396.67 412.33,400.67 412.71,403.33 C413.1,406 413.45,406.83 413.96,407.78 C414.46,408.73 415.02,408.79 415.73,409.02 C416.44,409.26 417.81,409.17 418.22,409.2" fill="none" stroke="#68a945" stroke-width="1.1" stroke-linejoin="round"/>
<text x="419.4" y="327.6" font-size="6.3" text-anchor="start" fill="#69a8dd" font-weight="normal" font-style="normal" textLength="15.8" lengthAdjust="spacingAndGlyphs"  stroke="#69a8dd">GFP+</text>
<text x="419.4" y="334.4" font-size="6.3" text-anchor="start" fill="#69a8dd" font-weight="normal" font-style="normal" textLength="16" lengthAdjust="spacingAndGlyphs"  stroke="#69a8dd">89,7%</text>
<text x="403.6" y="363.6" font-size="6.3" text-anchor="start" fill="#68a945" font-weight="normal" font-style="normal" textLength="15.8" lengthAdjust="spacingAndGlyphs"  stroke="#68a945">GFP+</text>
<text x="403.6" y="370.4" font-size="6.3" text-anchor="start" fill="#68a945" font-weight="normal" font-style="normal" textLength="16" lengthAdjust="spacingAndGlyphs"  stroke="#68a945">99,7%</text>
<text x="419.4" y="392.6" font-size="6.3" text-anchor="start" fill="#28467d" font-weight="normal" font-style="normal" textLength="15.8" lengthAdjust="spacingAndGlyphs"  stroke="#28467d">GFP+</text>
<text x="419.4" y="399.4" font-size="6.3" text-anchor="start" fill="#28467d" font-weight="normal" font-style="normal" textLength="16" lengthAdjust="spacingAndGlyphs"  stroke="#28467d">92,7%</text>
<rect x="0.7" y="0.6" width="518.6" height="588.6" fill="none" stroke="#000" stroke-width="1.5"/>
</svg>
</body></html>
